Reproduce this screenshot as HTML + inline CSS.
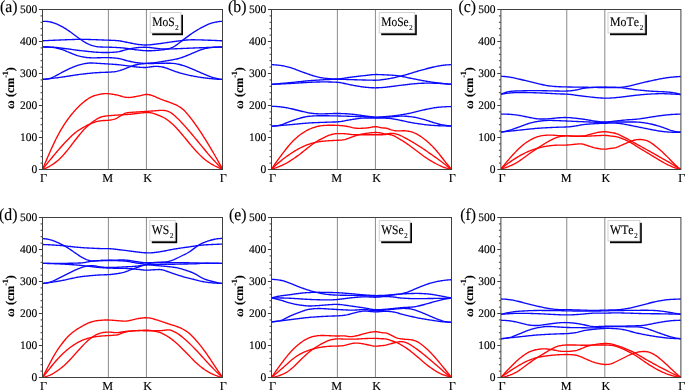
<!DOCTYPE html>
<html><head><meta charset="utf-8"><title>Phonon dispersion</title>
<style>html,body{margin:0;padding:0;background:#fff;overflow:hidden}svg{display:block;will-change:transform;text-rendering:geometricPrecision}text{font-family:"Liberation Serif",serif;fill:#000;stroke:#000;stroke-width:0.14px}.tk{font-size:11.5px;text-anchor:end}.xl{font-size:12.2px;text-anchor:middle}.pl{font-size:16.8px;fill:#000;text-anchor:end}.yl{font-size:12px;font-weight:bold;text-anchor:middle}.lg{font-size:12.9px;font-kerning:none}.b{fill:none;stroke:#0a0aff;stroke-width:1.35;stroke-linejoin:round}.r{fill:none;stroke:#ff0505;stroke-width:1.35;stroke-linejoin:round}</style></head><body>
<svg width="685" height="390" viewBox="0 0 685 390">
<rect width="685" height="390" fill="#fff"/>
<g>
<clipPath id="ca"><rect x="42.5" y="8.5" width="180.0" height="161.6"/></clipPath>
<line x1="108.38" y1="9.5" x2="108.38" y2="169.5" stroke="#8a8a8a" stroke-width="1"/>
<line x1="146.42" y1="9.5" x2="146.42" y2="169.5" stroke="#8a8a8a" stroke-width="1"/>
<g clip-path="url(#ca)">
<path class="b" d="M42.5,21.31 L43.5,21.31 L44.5,21.33 L45.5,21.37 L46.5,21.44 L47.5,21.54 L48.5,21.67 L49.5,21.83 L50.5,22.02 L51.5,22.25 L52.5,22.52 L53.5,22.84 L54.5,23.19 L55.5,23.58 L56.5,23.99 L57.5,24.43 L58.5,24.88 L59.5,25.36 L60.5,25.84 L61.5,26.35 L62.5,26.89 L63.5,27.46 L64.5,28.06 L65.5,28.68 L66.5,29.32 L67.5,29.98 L68.5,30.65 L69.5,31.33 L70.5,32.01 L71.5,32.72 L72.5,33.44 L73.5,34.19 L74.5,34.95 L75.5,35.72 L76.5,36.49 L77.5,37.25 L78.5,37.99 L79.5,38.70 L80.5,39.39 L81.5,40.06 L82.5,40.71 L83.5,41.34 L84.5,41.96 L85.5,42.56 L86.5,43.14 L87.5,43.67 L88.5,44.16 L89.5,44.60 L90.5,44.99 L91.5,45.33 L92.5,45.63 L93.5,45.91 L94.5,46.15 L95.5,46.38 L96.5,46.57 L97.5,46.72 L98.5,46.84 L99.5,46.92 L100.5,46.97 L101.5,47.00 L102.5,47.03 L103.5,47.05 L104.5,47.07 L105.5,47.09 L106.5,47.11 L107.5,47.14 L108.5,47.17 L109.5,47.21 L110.5,47.24 L111.5,47.28 L112.5,47.32 L113.5,47.36 L114.5,47.40 L115.5,47.45 L116.5,47.50 L117.5,47.55 L118.5,47.61 L119.5,47.68 L120.5,47.75 L121.5,47.84 L122.5,47.93 L123.5,48.03 L124.5,48.14 L125.5,48.25 L126.5,48.38 L127.5,48.52 L128.5,48.67 L129.5,48.82 L130.5,48.98 L131.5,49.14 L132.5,49.30 L133.5,49.44 L134.5,49.58 L135.5,49.71 L136.5,49.83 L137.5,49.95 L138.5,50.07 L139.5,50.18 L140.5,50.29 L141.5,50.39 L142.5,50.48 L143.5,50.56 L144.5,50.63 L145.5,50.69 L146.5,50.73 L147.5,50.76 L148.5,50.77 L149.5,50.77 L150.5,50.74 L151.5,50.71 L152.5,50.66 L153.5,50.60 L154.5,50.53 L155.5,50.46 L156.5,50.38 L157.5,50.30 L158.5,50.22 L159.5,50.13 L160.5,50.05 L161.5,49.95 L162.5,49.84 L163.5,49.71 L164.5,49.55 L165.5,49.37 L166.5,49.17 L167.5,48.94 L168.5,48.69 L169.5,48.41 L170.5,48.09 L171.5,47.73 L172.5,47.30 L173.5,46.81 L174.5,46.24 L175.5,45.61 L176.5,44.93 L177.5,44.21 L178.5,43.46 L179.5,42.70 L180.5,41.93 L181.5,41.16 L182.5,40.41 L183.5,39.66 L184.5,38.91 L185.5,38.15 L186.5,37.39 L187.5,36.62 L188.5,35.86 L189.5,35.11 L190.5,34.39 L191.5,33.69 L192.5,33.01 L193.5,32.35 L194.5,31.71 L195.5,31.08 L196.5,30.46 L197.5,29.86 L198.5,29.28 L199.5,28.72 L200.5,28.17 L201.5,27.64 L202.5,27.12 L203.5,26.60 L204.5,26.09 L205.5,25.59 L206.5,25.11 L207.5,24.65 L208.5,24.22 L209.5,23.82 L210.5,23.47 L211.5,23.15 L212.5,22.88 L213.5,22.63 L214.5,22.40 L215.5,22.19 L216.5,22.00 L217.5,21.82 L218.5,21.67 L219.5,21.54 L220.5,21.45 L221.5,21.37 L222.5,21.31"/>
<path class="b" d="M42.5,40.80 L43.5,40.75 L44.5,40.70 L45.5,40.65 L46.5,40.60 L47.5,40.55 L48.5,40.50 L49.5,40.45 L50.5,40.41 L51.5,40.36 L52.5,40.31 L53.5,40.27 L54.5,40.23 L55.5,40.18 L56.5,40.14 L57.5,40.10 L58.5,40.06 L59.5,40.02 L60.5,39.98 L61.5,39.94 L62.5,39.90 L63.5,39.86 L64.5,39.82 L65.5,39.78 L66.5,39.74 L67.5,39.70 L68.5,39.67 L69.5,39.63 L70.5,39.59 L71.5,39.56 L72.5,39.52 L73.5,39.49 L74.5,39.47 L75.5,39.44 L76.5,39.42 L77.5,39.40 L78.5,39.39 L79.5,39.38 L80.5,39.37 L81.5,39.37 L82.5,39.37 L83.5,39.38 L84.5,39.39 L85.5,39.41 L86.5,39.42 L87.5,39.44 L88.5,39.47 L89.5,39.49 L90.5,39.52 L91.5,39.55 L92.5,39.58 L93.5,39.62 L94.5,39.65 L95.5,39.69 L96.5,39.73 L97.5,39.77 L98.5,39.81 L99.5,39.85 L100.5,39.89 L101.5,39.93 L102.5,39.97 L103.5,40.01 L104.5,40.05 L105.5,40.08 L106.5,40.12 L107.5,40.16 L108.5,40.19 L109.5,40.23 L110.5,40.26 L111.5,40.30 L112.5,40.34 L113.5,40.39 L114.5,40.44 L115.5,40.50 L116.5,40.57 L117.5,40.65 L118.5,40.76 L119.5,40.89 L120.5,41.04 L121.5,41.21 L122.5,41.40 L123.5,41.59 L124.5,41.80 L125.5,42.01 L126.5,42.22 L127.5,42.42 L128.5,42.62 L129.5,42.82 L130.5,43.02 L131.5,43.22 L132.5,43.42 L133.5,43.62 L134.5,43.81 L135.5,43.99 L136.5,44.16 L137.5,44.32 L138.5,44.46 L139.5,44.58 L140.5,44.69 L141.5,44.79 L142.5,44.87 L143.5,44.93 L144.5,44.97 L145.5,44.98 L146.5,44.96 L147.5,44.93 L148.5,44.87 L149.5,44.80 L150.5,44.71 L151.5,44.62 L152.5,44.51 L153.5,44.40 L154.5,44.28 L155.5,44.16 L156.5,44.03 L157.5,43.90 L158.5,43.77 L159.5,43.63 L160.5,43.50 L161.5,43.37 L162.5,43.23 L163.5,43.09 L164.5,42.95 L165.5,42.80 L166.5,42.65 L167.5,42.50 L168.5,42.35 L169.5,42.20 L170.5,42.05 L171.5,41.91 L172.5,41.77 L173.5,41.63 L174.5,41.50 L175.5,41.37 L176.5,41.24 L177.5,41.11 L178.5,40.98 L179.5,40.85 L180.5,40.72 L181.5,40.59 L182.5,40.47 L183.5,40.35 L184.5,40.24 L185.5,40.13 L186.5,40.04 L187.5,39.96 L188.5,39.90 L189.5,39.85 L190.5,39.81 L191.5,39.79 L192.5,39.78 L193.5,39.78 L194.5,39.79 L195.5,39.80 L196.5,39.82 L197.5,39.84 L198.5,39.86 L199.5,39.89 L200.5,39.92 L201.5,39.95 L202.5,39.99 L203.5,40.02 L204.5,40.06 L205.5,40.09 L206.5,40.13 L207.5,40.17 L208.5,40.21 L209.5,40.24 L210.5,40.28 L211.5,40.32 L212.5,40.36 L213.5,40.40 L214.5,40.44 L215.5,40.48 L216.5,40.53 L217.5,40.57 L218.5,40.62 L219.5,40.66 L220.5,40.71 L221.5,40.75 L222.5,40.80"/>
<path class="b" d="M42.5,46.96 L43.5,46.95 L44.5,46.95 L45.5,46.96 L46.5,46.97 L47.5,46.99 L48.5,47.01 L49.5,47.05 L50.5,47.08 L51.5,47.13 L52.5,47.19 L53.5,47.26 L54.5,47.33 L55.5,47.43 L56.5,47.53 L57.5,47.64 L58.5,47.75 L59.5,47.86 L60.5,47.98 L61.5,48.10 L62.5,48.22 L63.5,48.35 L64.5,48.48 L65.5,48.61 L66.5,48.74 L67.5,48.88 L68.5,49.01 L69.5,49.15 L70.5,49.29 L71.5,49.43 L72.5,49.57 L73.5,49.70 L74.5,49.84 L75.5,49.97 L76.5,50.10 L77.5,50.23 L78.5,50.35 L79.5,50.47 L80.5,50.59 L81.5,50.70 L82.5,50.81 L83.5,50.92 L84.5,51.03 L85.5,51.14 L86.5,51.25 L87.5,51.36 L88.5,51.47 L89.5,51.58 L90.5,51.68 L91.5,51.78 L92.5,51.87 L93.5,51.96 L94.5,52.05 L95.5,52.13 L96.5,52.21 L97.5,52.28 L98.5,52.34 L99.5,52.40 L100.5,52.44 L101.5,52.48 L102.5,52.51 L103.5,52.52 L104.5,52.53 L105.5,52.53 L106.5,52.52 L107.5,52.50 L108.5,52.48 L109.5,52.46 L110.5,52.42 L111.5,52.37 L112.5,52.31 L113.5,52.25 L114.5,52.17 L115.5,52.08 L116.5,51.97 L117.5,51.85 L118.5,51.69 L119.5,51.50 L120.5,51.27 L121.5,51.02 L122.5,50.75 L123.5,50.46 L124.5,50.17 L125.5,49.89 L126.5,49.61 L127.5,49.36 L128.5,49.12 L129.5,48.91 L130.5,48.70 L131.5,48.51 L132.5,48.32 L133.5,48.14 L134.5,47.98 L135.5,47.84 L136.5,47.71 L137.5,47.60 L138.5,47.51 L139.5,47.44 L140.5,47.38 L141.5,47.33 L142.5,47.30 L143.5,47.28 L144.5,47.27 L145.5,47.29 L146.5,47.32 L147.5,47.37 L148.5,47.45 L149.5,47.53 L150.5,47.64 L151.5,47.75 L152.5,47.87 L153.5,48.00 L154.5,48.13 L155.5,48.26 L156.5,48.39 L157.5,48.52 L158.5,48.64 L159.5,48.74 L160.5,48.84 L161.5,48.91 L162.5,48.97 L163.5,49.01 L164.5,49.03 L165.5,49.04 L166.5,49.03 L167.5,49.02 L168.5,49.00 L169.5,48.97 L170.5,48.95 L171.5,48.92 L172.5,48.88 L173.5,48.85 L174.5,48.81 L175.5,48.77 L176.5,48.73 L177.5,48.68 L178.5,48.64 L179.5,48.60 L180.5,48.56 L181.5,48.52 L182.5,48.47 L183.5,48.43 L184.5,48.39 L185.5,48.35 L186.5,48.31 L187.5,48.27 L188.5,48.23 L189.5,48.19 L190.5,48.15 L191.5,48.11 L192.5,48.07 L193.5,48.02 L194.5,47.98 L195.5,47.94 L196.5,47.90 L197.5,47.86 L198.5,47.82 L199.5,47.79 L200.5,47.75 L201.5,47.71 L202.5,47.68 L203.5,47.64 L204.5,47.61 L205.5,47.57 L206.5,47.54 L207.5,47.51 L208.5,47.48 L209.5,47.44 L210.5,47.41 L211.5,47.38 L212.5,47.35 L213.5,47.32 L214.5,47.29 L215.5,47.26 L216.5,47.23 L217.5,47.20 L218.5,47.18 L219.5,47.15 L220.5,47.12 L221.5,47.10 L222.5,47.07"/>
<path class="b" d="M42.5,46.96 L43.5,46.95 L44.5,46.96 L45.5,46.97 L46.5,47.00 L47.5,47.04 L48.5,47.09 L49.5,47.16 L50.5,47.23 L51.5,47.31 L52.5,47.41 L53.5,47.53 L54.5,47.67 L55.5,47.84 L56.5,48.04 L57.5,48.26 L58.5,48.50 L59.5,48.76 L60.5,49.04 L61.5,49.35 L62.5,49.70 L63.5,50.07 L64.5,50.47 L65.5,50.89 L66.5,51.32 L67.5,51.75 L68.5,52.18 L69.5,52.59 L70.5,52.99 L71.5,53.38 L72.5,53.77 L73.5,54.16 L74.5,54.54 L75.5,54.92 L76.5,55.28 L77.5,55.62 L78.5,55.93 L79.5,56.20 L80.5,56.45 L81.5,56.66 L82.5,56.85 L83.5,57.02 L84.5,57.18 L85.5,57.33 L86.5,57.46 L87.5,57.57 L88.5,57.66 L89.5,57.73 L90.5,57.78 L91.5,57.81 L92.5,57.83 L93.5,57.83 L94.5,57.83 L95.5,57.81 L96.5,57.80 L97.5,57.78 L98.5,57.75 L99.5,57.73 L100.5,57.71 L101.5,57.68 L102.5,57.66 L103.5,57.64 L104.5,57.63 L105.5,57.62 L106.5,57.62 L107.5,57.63 L108.5,57.64 L109.5,57.67 L110.5,57.71 L111.5,57.76 L112.5,57.82 L113.5,57.89 L114.5,57.97 L115.5,58.07 L116.5,58.19 L117.5,58.32 L118.5,58.48 L119.5,58.67 L120.5,58.90 L121.5,59.15 L122.5,59.42 L123.5,59.70 L124.5,59.98 L125.5,60.27 L126.5,60.54 L127.5,60.80 L128.5,61.04 L129.5,61.28 L130.5,61.50 L131.5,61.72 L132.5,61.93 L133.5,62.13 L134.5,62.32 L135.5,62.49 L136.5,62.65 L137.5,62.78 L138.5,62.90 L139.5,63.00 L140.5,63.09 L141.5,63.18 L142.5,63.25 L143.5,63.32 L144.5,63.37 L145.5,63.40 L146.5,63.43 L147.5,63.45 L148.5,63.46 L149.5,63.47 L150.5,63.47 L151.5,63.47 L152.5,63.47 L153.5,63.46 L154.5,63.45 L155.5,63.43 L156.5,63.41 L157.5,63.39 L158.5,63.36 L159.5,63.34 L160.5,63.31 L161.5,63.28 L162.5,63.26 L163.5,63.23 L164.5,63.22 L165.5,63.20 L166.5,63.20 L167.5,63.21 L168.5,63.22 L169.5,63.25 L170.5,63.28 L171.5,63.31 L172.5,63.37 L173.5,63.45 L174.5,63.55 L175.5,63.69 L176.5,63.86 L177.5,64.05 L178.5,64.26 L179.5,64.49 L180.5,64.73 L181.5,64.99 L182.5,65.28 L183.5,65.59 L184.5,65.93 L185.5,66.30 L186.5,66.68 L187.5,67.07 L188.5,67.47 L189.5,67.87 L190.5,68.28 L191.5,68.69 L192.5,69.11 L193.5,69.54 L194.5,69.97 L195.5,70.41 L196.5,70.85 L197.5,71.28 L198.5,71.72 L199.5,72.16 L200.5,72.59 L201.5,73.03 L202.5,73.47 L203.5,73.90 L204.5,74.33 L205.5,74.74 L206.5,75.15 L207.5,75.55 L208.5,75.94 L209.5,76.32 L210.5,76.69 L211.5,77.05 L212.5,77.37 L213.5,77.68 L214.5,77.95 L215.5,78.20 L216.5,78.44 L217.5,78.66 L218.5,78.86 L219.5,79.04 L220.5,79.20 L221.5,79.33 L222.5,79.45"/>
<path class="b" d="M42.5,79.37 L43.5,79.35 L44.5,79.31 L45.5,79.23 L46.5,79.12 L47.5,78.96 L48.5,78.75 L49.5,78.50 L50.5,78.20 L51.5,77.84 L52.5,77.44 L53.5,76.98 L54.5,76.48 L55.5,75.95 L56.5,75.41 L57.5,74.86 L58.5,74.31 L59.5,73.77 L60.5,73.24 L61.5,72.72 L62.5,72.20 L63.5,71.68 L64.5,71.16 L65.5,70.65 L66.5,70.14 L67.5,69.64 L68.5,69.15 L69.5,68.68 L70.5,68.23 L71.5,67.79 L72.5,67.36 L73.5,66.94 L74.5,66.53 L75.5,66.14 L76.5,65.77 L77.5,65.42 L78.5,65.10 L79.5,64.81 L80.5,64.55 L81.5,64.31 L82.5,64.10 L83.5,63.89 L84.5,63.69 L85.5,63.51 L86.5,63.35 L87.5,63.21 L88.5,63.10 L89.5,63.03 L90.5,63.00 L91.5,63.00 L92.5,63.03 L93.5,63.07 L94.5,63.12 L95.5,63.18 L96.5,63.25 L97.5,63.31 L98.5,63.38 L99.5,63.44 L100.5,63.51 L101.5,63.57 L102.5,63.63 L103.5,63.69 L104.5,63.75 L105.5,63.81 L106.5,63.87 L107.5,63.94 L108.5,64.00 L109.5,64.06 L110.5,64.12 L111.5,64.18 L112.5,64.25 L113.5,64.31 L114.5,64.38 L115.5,64.46 L116.5,64.54 L117.5,64.63 L118.5,64.72 L119.5,64.82 L120.5,64.93 L121.5,65.05 L122.5,65.17 L123.5,65.30 L124.5,65.43 L125.5,65.56 L126.5,65.68 L127.5,65.81 L128.5,65.94 L129.5,66.07 L130.5,66.20 L131.5,66.33 L132.5,66.46 L133.5,66.59 L134.5,66.72 L135.5,66.84 L136.5,66.96 L137.5,67.07 L138.5,67.17 L139.5,67.25 L140.5,67.33 L141.5,67.40 L142.5,67.45 L143.5,67.48 L144.5,67.49 L145.5,67.47 L146.5,67.42 L147.5,67.33 L148.5,67.20 L149.5,67.04 L150.5,66.87 L151.5,66.72 L152.5,66.59 L153.5,66.50 L154.5,66.44 L155.5,66.41 L156.5,66.40 L157.5,66.42 L158.5,66.47 L159.5,66.55 L160.5,66.66 L161.5,66.82 L162.5,67.02 L163.5,67.24 L164.5,67.50 L165.5,67.80 L166.5,68.13 L167.5,68.50 L168.5,68.89 L169.5,69.29 L170.5,69.70 L171.5,70.09 L172.5,70.46 L173.5,70.83 L174.5,71.18 L175.5,71.52 L176.5,71.86 L177.5,72.19 L178.5,72.51 L179.5,72.82 L180.5,73.11 L181.5,73.39 L182.5,73.66 L183.5,73.92 L184.5,74.18 L185.5,74.42 L186.5,74.66 L187.5,74.89 L188.5,75.11 L189.5,75.33 L190.5,75.54 L191.5,75.74 L192.5,75.95 L193.5,76.15 L194.5,76.34 L195.5,76.53 L196.5,76.71 L197.5,76.88 L198.5,77.05 L199.5,77.20 L200.5,77.35 L201.5,77.49 L202.5,77.62 L203.5,77.75 L204.5,77.88 L205.5,78.00 L206.5,78.12 L207.5,78.24 L208.5,78.35 L209.5,78.46 L210.5,78.58 L211.5,78.69 L212.5,78.79 L213.5,78.90 L214.5,79.00 L215.5,79.08 L216.5,79.16 L217.5,79.23 L218.5,79.29 L219.5,79.34 L220.5,79.39 L221.5,79.42 L222.5,79.45"/>
<path class="b" d="M42.5,79.37 L43.5,79.28 L44.5,79.18 L45.5,79.08 L46.5,78.98 L47.5,78.88 L48.5,78.77 L49.5,78.66 L50.5,78.55 L51.5,78.43 L52.5,78.32 L53.5,78.20 L54.5,78.08 L55.5,77.95 L56.5,77.83 L57.5,77.71 L58.5,77.58 L59.5,77.45 L60.5,77.32 L61.5,77.18 L62.5,77.04 L63.5,76.90 L64.5,76.75 L65.5,76.60 L66.5,76.44 L67.5,76.28 L68.5,76.12 L69.5,75.96 L70.5,75.79 L71.5,75.63 L72.5,75.47 L73.5,75.31 L74.5,75.15 L75.5,75.00 L76.5,74.85 L77.5,74.71 L78.5,74.57 L79.5,74.44 L80.5,74.31 L81.5,74.19 L82.5,74.08 L83.5,73.97 L84.5,73.85 L85.5,73.74 L86.5,73.64 L87.5,73.53 L88.5,73.43 L89.5,73.33 L90.5,73.23 L91.5,73.13 L92.5,73.04 L93.5,72.95 L94.5,72.87 L95.5,72.79 L96.5,72.71 L97.5,72.64 L98.5,72.58 L99.5,72.51 L100.5,72.46 L101.5,72.41 L102.5,72.37 L103.5,72.33 L104.5,72.30 L105.5,72.27 L106.5,72.24 L107.5,72.21 L108.5,72.18 L109.5,72.13 L110.5,72.08 L111.5,72.02 L112.5,71.95 L113.5,71.85 L114.5,71.73 L115.5,71.57 L116.5,71.37 L117.5,71.14 L118.5,70.88 L119.5,70.61 L120.5,70.31 L121.5,70.00 L122.5,69.67 L123.5,69.31 L124.5,68.94 L125.5,68.55 L126.5,68.15 L127.5,67.73 L128.5,67.31 L129.5,66.90 L130.5,66.51 L131.5,66.15 L132.5,65.82 L133.5,65.51 L134.5,65.23 L135.5,64.98 L136.5,64.74 L137.5,64.53 L138.5,64.34 L139.5,64.17 L140.5,64.03 L141.5,63.92 L142.5,63.81 L143.5,63.72 L144.5,63.63 L145.5,63.54 L146.5,63.45 L147.5,63.37 L148.5,63.28 L149.5,63.20 L150.5,63.12 L151.5,63.03 L152.5,62.94 L153.5,62.84 L154.5,62.73 L155.5,62.61 L156.5,62.48 L157.5,62.34 L158.5,62.18 L159.5,62.02 L160.5,61.85 L161.5,61.67 L162.5,61.50 L163.5,61.32 L164.5,61.15 L165.5,60.98 L166.5,60.81 L167.5,60.65 L168.5,60.48 L169.5,60.32 L170.5,60.15 L171.5,59.97 L172.5,59.79 L173.5,59.61 L174.5,59.42 L175.5,59.21 L176.5,59.00 L177.5,58.76 L178.5,58.51 L179.5,58.23 L180.5,57.92 L181.5,57.59 L182.5,57.25 L183.5,56.88 L184.5,56.51 L185.5,56.13 L186.5,55.75 L187.5,55.35 L188.5,54.95 L189.5,54.53 L190.5,54.09 L191.5,53.65 L192.5,53.21 L193.5,52.78 L194.5,52.35 L195.5,51.93 L196.5,51.53 L197.5,51.13 L198.5,50.74 L199.5,50.36 L200.5,49.99 L201.5,49.64 L202.5,49.31 L203.5,49.00 L204.5,48.72 L205.5,48.47 L206.5,48.24 L207.5,48.04 L208.5,47.87 L209.5,47.71 L210.5,47.58 L211.5,47.46 L212.5,47.36 L213.5,47.28 L214.5,47.21 L215.5,47.15 L216.5,47.11 L217.5,47.07 L218.5,47.03 L219.5,47.00 L220.5,46.98 L221.5,46.96 L222.5,46.95"/>
<path class="r" d="M42.5,169.46 L43.5,167.03 L44.5,164.61 L45.5,162.22 L46.5,159.87 L47.5,157.55 L48.5,155.27 L49.5,153.01 L50.5,150.78 L51.5,148.57 L52.5,146.38 L53.5,144.22 L54.5,142.10 L55.5,140.03 L56.5,138.02 L57.5,136.08 L58.5,134.21 L59.5,132.40 L60.5,130.64 L61.5,128.94 L62.5,127.28 L63.5,125.66 L64.5,124.10 L65.5,122.60 L66.5,121.15 L67.5,119.74 L68.5,118.39 L69.5,117.07 L70.5,115.79 L71.5,114.54 L72.5,113.33 L73.5,112.15 L74.5,111.00 L75.5,109.89 L76.5,108.82 L77.5,107.77 L78.5,106.76 L79.5,105.76 L80.5,104.81 L81.5,103.88 L82.5,103.01 L83.5,102.18 L84.5,101.40 L85.5,100.64 L86.5,99.91 L87.5,99.21 L88.5,98.54 L89.5,97.91 L90.5,97.33 L91.5,96.83 L92.5,96.38 L93.5,96.00 L94.5,95.67 L95.5,95.36 L96.5,95.07 L97.5,94.80 L98.5,94.56 L99.5,94.33 L100.5,94.14 L101.5,93.97 L102.5,93.85 L103.5,93.75 L104.5,93.69 L105.5,93.66 L106.5,93.65 L107.5,93.68 L108.5,93.74 L109.5,93.83 L110.5,93.95 L111.5,94.08 L112.5,94.24 L113.5,94.40 L114.5,94.57 L115.5,94.76 L116.5,94.96 L117.5,95.18 L118.5,95.42 L119.5,95.69 L120.5,95.98 L121.5,96.27 L122.5,96.56 L123.5,96.82 L124.5,97.06 L125.5,97.24 L126.5,97.38 L127.5,97.45 L128.5,97.46 L129.5,97.43 L130.5,97.35 L131.5,97.24 L132.5,97.10 L133.5,96.94 L134.5,96.76 L135.5,96.58 L136.5,96.39 L137.5,96.20 L138.5,96.01 L139.5,95.79 L140.5,95.56 L141.5,95.31 L142.5,95.06 L143.5,94.83 L144.5,94.63 L145.5,94.50 L146.5,94.44 L147.5,94.46 L148.5,94.57 L149.5,94.74 L150.5,94.99 L151.5,95.28 L152.5,95.63 L153.5,96.01 L154.5,96.43 L155.5,96.86 L156.5,97.31 L157.5,97.76 L158.5,98.21 L159.5,98.64 L160.5,99.06 L161.5,99.45 L162.5,99.83 L163.5,100.19 L164.5,100.55 L165.5,100.90 L166.5,101.25 L167.5,101.61 L168.5,101.96 L169.5,102.33 L170.5,102.70 L171.5,103.07 L172.5,103.46 L173.5,103.87 L174.5,104.29 L175.5,104.73 L176.5,105.20 L177.5,105.70 L178.5,106.24 L179.5,106.81 L180.5,107.44 L181.5,108.13 L182.5,108.92 L183.5,109.80 L184.5,110.78 L185.5,111.84 L186.5,112.96 L187.5,114.13 L188.5,115.33 L189.5,116.55 L190.5,117.80 L191.5,119.08 L192.5,120.39 L193.5,121.75 L194.5,123.14 L195.5,124.56 L196.5,126.00 L197.5,127.47 L198.5,128.94 L199.5,130.43 L200.5,131.94 L201.5,133.45 L202.5,134.99 L203.5,136.54 L204.5,138.12 L205.5,139.71 L206.5,141.33 L207.5,142.95 L208.5,144.60 L209.5,146.25 L210.5,147.92 L211.5,149.60 L212.5,151.30 L213.5,153.01 L214.5,154.74 L215.5,156.49 L216.5,158.25 L217.5,160.02 L218.5,161.81 L219.5,163.62 L220.5,165.43 L221.5,167.26 L222.5,169.09"/>
<path class="r" d="M42.5,169.46 L43.5,168.18 L44.5,166.91 L45.5,165.64 L46.5,164.38 L47.5,163.13 L48.5,161.88 L49.5,160.65 L50.5,159.42 L51.5,158.20 L52.5,156.98 L53.5,155.77 L54.5,154.57 L55.5,153.37 L56.5,152.19 L57.5,151.02 L58.5,149.86 L59.5,148.71 L60.5,147.56 L61.5,146.43 L62.5,145.30 L63.5,144.19 L64.5,143.10 L65.5,142.03 L66.5,140.98 L67.5,139.96 L68.5,138.95 L69.5,137.97 L70.5,137.00 L71.5,136.04 L72.5,135.12 L73.5,134.23 L74.5,133.37 L75.5,132.56 L76.5,131.79 L77.5,131.06 L78.5,130.37 L79.5,129.71 L80.5,129.08 L81.5,128.46 L82.5,127.88 L83.5,127.31 L84.5,126.76 L85.5,126.23 L86.5,125.72 L87.5,125.21 L88.5,124.72 L89.5,124.24 L90.5,123.78 L91.5,123.36 L92.5,122.96 L93.5,122.60 L94.5,122.27 L95.5,121.95 L96.5,121.67 L97.5,121.40 L98.5,121.16 L99.5,120.96 L100.5,120.81 L101.5,120.69 L102.5,120.60 L103.5,120.54 L104.5,120.50 L105.5,120.46 L106.5,120.41 L107.5,120.35 L108.5,120.28 L109.5,120.17 L110.5,120.04 L111.5,119.88 L112.5,119.69 L113.5,119.45 L114.5,119.15 L115.5,118.77 L116.5,118.30 L117.5,117.75 L118.5,117.16 L119.5,116.52 L120.5,115.88 L121.5,115.23 L122.5,114.59 L123.5,114.00 L124.5,113.52 L125.5,113.17 L126.5,112.93 L127.5,112.76 L128.5,112.63 L129.5,112.52 L130.5,112.42 L131.5,112.34 L132.5,112.26 L133.5,112.19 L134.5,112.12 L135.5,112.06 L136.5,112.00 L137.5,111.93 L138.5,111.87 L139.5,111.81 L140.5,111.75 L141.5,111.69 L142.5,111.63 L143.5,111.57 L144.5,111.51 L145.5,111.44 L146.5,111.38 L147.5,111.32 L148.5,111.25 L149.5,111.18 L150.5,111.11 L151.5,111.03 L152.5,110.96 L153.5,110.88 L154.5,110.81 L155.5,110.73 L156.5,110.66 L157.5,110.59 L158.5,110.52 L159.5,110.45 L160.5,110.40 L161.5,110.36 L162.5,110.37 L163.5,110.42 L164.5,110.53 L165.5,110.70 L166.5,110.92 L167.5,111.20 L168.5,111.54 L169.5,111.97 L170.5,112.51 L171.5,113.16 L172.5,113.91 L173.5,114.73 L174.5,115.61 L175.5,116.51 L176.5,117.44 L177.5,118.38 L178.5,119.34 L179.5,120.33 L180.5,121.36 L181.5,122.41 L182.5,123.49 L183.5,124.59 L184.5,125.71 L185.5,126.85 L186.5,127.99 L187.5,129.14 L188.5,130.29 L189.5,131.45 L190.5,132.61 L191.5,133.78 L192.5,134.96 L193.5,136.16 L194.5,137.36 L195.5,138.57 L196.5,139.78 L197.5,141.00 L198.5,142.21 L199.5,143.43 L200.5,144.64 L201.5,145.85 L202.5,147.07 L203.5,148.29 L204.5,149.52 L205.5,150.74 L206.5,151.95 L207.5,153.15 L208.5,154.33 L209.5,155.50 L210.5,156.64 L211.5,157.76 L212.5,158.86 L213.5,159.95 L214.5,161.03 L215.5,162.09 L216.5,163.13 L217.5,164.16 L218.5,165.18 L219.5,166.18 L220.5,167.16 L221.5,168.13 L222.5,169.09"/>
<path class="r" d="M42.5,169.46 L43.5,169.11 L44.5,168.74 L45.5,168.32 L46.5,167.87 L47.5,167.38 L48.5,166.87 L49.5,166.33 L50.5,165.77 L51.5,165.17 L52.5,164.53 L53.5,163.86 L54.5,163.15 L55.5,162.40 L56.5,161.62 L57.5,160.81 L58.5,159.95 L59.5,159.04 L60.5,158.08 L61.5,157.05 L62.5,155.97 L63.5,154.85 L64.5,153.70 L65.5,152.52 L66.5,151.32 L67.5,150.11 L68.5,148.87 L69.5,147.61 L70.5,146.31 L71.5,145.00 L72.5,143.67 L73.5,142.34 L74.5,141.03 L75.5,139.73 L76.5,138.46 L77.5,137.22 L78.5,135.99 L79.5,134.78 L80.5,133.59 L81.5,132.42 L82.5,131.27 L83.5,130.16 L84.5,129.10 L85.5,128.07 L86.5,127.09 L87.5,126.16 L88.5,125.26 L89.5,124.40 L90.5,123.57 L91.5,122.79 L92.5,122.04 L93.5,121.32 L94.5,120.62 L95.5,119.94 L96.5,119.29 L97.5,118.67 L98.5,118.12 L99.5,117.64 L100.5,117.25 L101.5,116.93 L102.5,116.66 L103.5,116.44 L104.5,116.25 L105.5,116.08 L106.5,115.93 L107.5,115.81 L108.5,115.71 L109.5,115.62 L110.5,115.55 L111.5,115.47 L112.5,115.40 L113.5,115.33 L114.5,115.26 L115.5,115.20 L116.5,115.13 L117.5,115.07 L118.5,115.01 L119.5,114.95 L120.5,114.89 L121.5,114.83 L122.5,114.78 L123.5,114.72 L124.5,114.67 L125.5,114.61 L126.5,114.55 L127.5,114.48 L128.5,114.41 L129.5,114.33 L130.5,114.24 L131.5,114.14 L132.5,114.02 L133.5,113.91 L134.5,113.78 L135.5,113.66 L136.5,113.53 L137.5,113.41 L138.5,113.29 L139.5,113.17 L140.5,113.05 L141.5,112.93 L142.5,112.82 L143.5,112.72 L144.5,112.62 L145.5,112.55 L146.5,112.49 L147.5,112.48 L148.5,112.51 L149.5,112.60 L150.5,112.75 L151.5,112.94 L152.5,113.19 L153.5,113.47 L154.5,113.79 L155.5,114.13 L156.5,114.50 L157.5,114.89 L158.5,115.29 L159.5,115.70 L160.5,116.11 L161.5,116.53 L162.5,116.98 L163.5,117.48 L164.5,118.02 L165.5,118.63 L166.5,119.29 L167.5,120.01 L168.5,120.76 L169.5,121.55 L170.5,122.38 L171.5,123.23 L172.5,124.11 L173.5,125.03 L174.5,126.00 L175.5,127.01 L176.5,128.08 L177.5,129.18 L178.5,130.32 L179.5,131.47 L180.5,132.64 L181.5,133.81 L182.5,134.99 L183.5,136.16 L184.5,137.35 L185.5,138.55 L186.5,139.77 L187.5,140.99 L188.5,142.22 L189.5,143.45 L190.5,144.66 L191.5,145.85 L192.5,147.02 L193.5,148.16 L194.5,149.28 L195.5,150.39 L196.5,151.48 L197.5,152.55 L198.5,153.61 L199.5,154.64 L200.5,155.64 L201.5,156.60 L202.5,157.51 L203.5,158.38 L204.5,159.20 L205.5,159.98 L206.5,160.73 L207.5,161.45 L208.5,162.14 L209.5,162.81 L210.5,163.45 L211.5,164.06 L212.5,164.65 L213.5,165.20 L214.5,165.73 L215.5,166.23 L216.5,166.71 L217.5,167.18 L218.5,167.62 L219.5,168.04 L220.5,168.42 L221.5,168.76 L222.5,169.09"/>
</g>
<rect x="42.5" y="9.5" width="180.0" height="160.0" fill="none" stroke="#404040" stroke-width="1"/>
<path d="M38.90,169.50H42.50M40.50,163.10H42.50M40.50,156.70H42.50M40.50,150.30H42.50M40.50,143.90H42.50M38.90,137.50H42.50M40.50,131.10H42.50M40.50,124.70H42.50M40.50,118.30H42.50M40.50,111.90H42.50M38.90,105.50H42.50M40.50,99.10H42.50M40.50,92.70H42.50M40.50,86.30H42.50M40.50,79.90H42.50M38.90,73.50H42.50M40.50,67.10H42.50M40.50,60.70H42.50M40.50,54.30H42.50M40.50,47.90H42.50M38.90,41.50H42.50M40.50,35.10H42.50M40.50,28.70H42.50M40.50,22.30H42.50M40.50,15.90H42.50M38.90,9.50H42.50" stroke="#404040" stroke-width="1" fill="none"/>
<text class="tk" x="37.20" y="173.10">0</text>
<text class="tk" x="37.20" y="141.10">100</text>
<text class="tk" x="37.20" y="109.10">200</text>
<text class="tk" x="37.20" y="77.10">300</text>
<text class="tk" x="37.20" y="45.10">400</text>
<text class="tk" x="37.20" y="13.10">500</text>
<text class="xl" x="43.50" y="182.10">Γ</text>
<text class="xl" x="107.78" y="182.10">M</text>
<text class="xl" x="147.62" y="182.10">K</text>
<text class="xl" x="223.30" y="182.10">Γ</text>
<text class="pl" transform="translate(17.50,12.20) scale(0.94,1)">(a)</text>
<text class="yl" transform="translate(14.10,88.00) rotate(-90)">ω (cm<tspan font-size="8px" dy="-6.2">-1</tspan><tspan dy="6.2">)</tspan></text>
<rect x="152.20" y="14.80" width="30.80" height="20.40" fill="#000"/>
<rect x="150.20" y="12.60" width="30.80" height="20.40" fill="#fff" stroke="#c8c8c8" stroke-width="0.8"/>
<text class="lg" transform="translate(152.20,25.80) scale(0.895,1)">MoS<tspan font-size="7.6px" dx="0.8" dy="4.1">2</tspan></text>
</g>
<g>
<clipPath id="cb"><rect x="271.5" y="8.5" width="180.0" height="161.6"/></clipPath>
<line x1="337.38" y1="9.5" x2="337.38" y2="169.5" stroke="#8a8a8a" stroke-width="1"/>
<line x1="375.42" y1="9.5" x2="375.42" y2="169.5" stroke="#8a8a8a" stroke-width="1"/>
<g clip-path="url(#cb)">
<path class="b" d="M271.5,64.64 L272.5,64.69 L273.5,64.74 L274.5,64.81 L275.5,64.89 L276.5,64.98 L277.5,65.08 L278.5,65.18 L279.5,65.30 L280.5,65.43 L281.5,65.58 L282.5,65.74 L283.5,65.93 L284.5,66.12 L285.5,66.34 L286.5,66.56 L287.5,66.81 L288.5,67.06 L289.5,67.33 L290.5,67.62 L291.5,67.94 L292.5,68.27 L293.5,68.62 L294.5,68.99 L295.5,69.37 L296.5,69.76 L297.5,70.14 L298.5,70.52 L299.5,70.90 L300.5,71.27 L301.5,71.64 L302.5,72.01 L303.5,72.38 L304.5,72.75 L305.5,73.11 L306.5,73.48 L307.5,73.83 L308.5,74.18 L309.5,74.51 L310.5,74.84 L311.5,75.17 L312.5,75.49 L313.5,75.81 L314.5,76.11 L315.5,76.41 L316.5,76.69 L317.5,76.95 L318.5,77.18 L319.5,77.39 L320.5,77.58 L321.5,77.75 L322.5,77.91 L323.5,78.05 L324.5,78.19 L325.5,78.31 L326.5,78.43 L327.5,78.53 L328.5,78.63 L329.5,78.71 L330.5,78.79 L331.5,78.86 L332.5,78.92 L333.5,78.97 L334.5,79.00 L335.5,79.02 L336.5,79.01 L337.5,78.97 L338.5,78.91 L339.5,78.82 L340.5,78.71 L341.5,78.59 L342.5,78.45 L343.5,78.31 L344.5,78.15 L345.5,78.00 L346.5,77.84 L347.5,77.68 L348.5,77.53 L349.5,77.38 L350.5,77.24 L351.5,77.11 L352.5,76.98 L353.5,76.86 L354.5,76.74 L355.5,76.62 L356.5,76.50 L357.5,76.38 L358.5,76.27 L359.5,76.15 L360.5,76.04 L361.5,75.92 L362.5,75.81 L363.5,75.70 L364.5,75.59 L365.5,75.47 L366.5,75.35 L367.5,75.23 L368.5,75.11 L369.5,74.98 L370.5,74.87 L371.5,74.76 L372.5,74.67 L373.5,74.60 L374.5,74.55 L375.5,74.52 L376.5,74.51 L377.5,74.52 L378.5,74.55 L379.5,74.58 L380.5,74.63 L381.5,74.68 L382.5,74.73 L383.5,74.78 L384.5,74.84 L385.5,74.89 L386.5,74.94 L387.5,74.99 L388.5,75.04 L389.5,75.09 L390.5,75.14 L391.5,75.20 L392.5,75.26 L393.5,75.33 L394.5,75.41 L395.5,75.49 L396.5,75.60 L397.5,75.72 L398.5,75.85 L399.5,76.00 L400.5,76.17 L401.5,76.35 L402.5,76.54 L403.5,76.74 L404.5,76.95 L405.5,77.16 L406.5,77.38 L407.5,77.59 L408.5,77.81 L409.5,78.02 L410.5,78.22 L411.5,78.42 L412.5,78.62 L413.5,78.81 L414.5,79.01 L415.5,79.20 L416.5,79.40 L417.5,79.59 L418.5,79.79 L419.5,79.99 L420.5,80.18 L421.5,80.38 L422.5,80.57 L423.5,80.75 L424.5,80.94 L425.5,81.12 L426.5,81.29 L427.5,81.46 L428.5,81.62 L429.5,81.78 L430.5,81.93 L431.5,82.08 L432.5,82.23 L433.5,82.37 L434.5,82.50 L435.5,82.64 L436.5,82.77 L437.5,82.89 L438.5,83.01 L439.5,83.13 L440.5,83.25 L441.5,83.36 L442.5,83.47 L443.5,83.58 L444.5,83.68 L445.5,83.79 L446.5,83.89 L447.5,83.99 L448.5,84.08 L449.5,84.17 L450.5,84.26 L451.5,84.34"/>
<path class="b" d="M271.5,84.34 L272.5,84.25 L273.5,84.16 L274.5,84.08 L275.5,83.99 L276.5,83.90 L277.5,83.81 L278.5,83.72 L279.5,83.63 L280.5,83.54 L281.5,83.45 L282.5,83.36 L283.5,83.26 L284.5,83.17 L285.5,83.08 L286.5,82.98 L287.5,82.89 L288.5,82.79 L289.5,82.70 L290.5,82.60 L291.5,82.50 L292.5,82.40 L293.5,82.30 L294.5,82.19 L295.5,82.08 L296.5,81.98 L297.5,81.87 L298.5,81.76 L299.5,81.66 L300.5,81.55 L301.5,81.44 L302.5,81.34 L303.5,81.24 L304.5,81.14 L305.5,81.04 L306.5,80.95 L307.5,80.86 L308.5,80.77 L309.5,80.69 L310.5,80.61 L311.5,80.54 L312.5,80.46 L313.5,80.39 L314.5,80.32 L315.5,80.25 L316.5,80.18 L317.5,80.11 L318.5,80.05 L319.5,79.99 L320.5,79.93 L321.5,79.87 L322.5,79.81 L323.5,79.75 L324.5,79.70 L325.5,79.65 L326.5,79.60 L327.5,79.55 L328.5,79.50 L329.5,79.46 L330.5,79.42 L331.5,79.37 L332.5,79.33 L333.5,79.30 L334.5,79.26 L335.5,79.24 L336.5,79.23 L337.5,79.22 L338.5,79.23 L339.5,79.25 L340.5,79.27 L341.5,79.30 L342.5,79.33 L343.5,79.36 L344.5,79.40 L345.5,79.43 L346.5,79.47 L347.5,79.50 L348.5,79.54 L349.5,79.57 L350.5,79.60 L351.5,79.63 L352.5,79.66 L353.5,79.69 L354.5,79.72 L355.5,79.75 L356.5,79.78 L357.5,79.81 L358.5,79.84 L359.5,79.87 L360.5,79.90 L361.5,79.93 L362.5,79.96 L363.5,79.98 L364.5,80.01 L365.5,80.04 L366.5,80.07 L367.5,80.09 L368.5,80.12 L369.5,80.14 L370.5,80.16 L371.5,80.18 L372.5,80.20 L373.5,80.21 L374.5,80.22 L375.5,80.21 L376.5,80.19 L377.5,80.15 L378.5,80.08 L379.5,80.00 L380.5,79.89 L381.5,79.77 L382.5,79.65 L383.5,79.51 L384.5,79.37 L385.5,79.23 L386.5,79.08 L387.5,78.93 L388.5,78.76 L389.5,78.59 L390.5,78.40 L391.5,78.21 L392.5,78.01 L393.5,77.80 L394.5,77.58 L395.5,77.35 L396.5,77.12 L397.5,76.89 L398.5,76.65 L399.5,76.41 L400.5,76.16 L401.5,75.92 L402.5,75.66 L403.5,75.41 L404.5,75.15 L405.5,74.88 L406.5,74.60 L407.5,74.31 L408.5,74.01 L409.5,73.71 L410.5,73.41 L411.5,73.10 L412.5,72.79 L413.5,72.48 L414.5,72.17 L415.5,71.87 L416.5,71.56 L417.5,71.26 L418.5,70.97 L419.5,70.69 L420.5,70.41 L421.5,70.13 L422.5,69.86 L423.5,69.58 L424.5,69.31 L425.5,69.04 L426.5,68.77 L427.5,68.50 L428.5,68.24 L429.5,67.98 L430.5,67.73 L431.5,67.48 L432.5,67.25 L433.5,67.02 L434.5,66.80 L435.5,66.59 L436.5,66.39 L437.5,66.19 L438.5,66.01 L439.5,65.84 L440.5,65.67 L441.5,65.52 L442.5,65.37 L443.5,65.25 L444.5,65.14 L445.5,65.04 L446.5,64.95 L447.5,64.87 L448.5,64.80 L449.5,64.74 L450.5,64.69 L451.5,64.64"/>
<path class="b" d="M271.5,84.34 L272.5,84.30 L273.5,84.26 L274.5,84.22 L275.5,84.18 L276.5,84.14 L277.5,84.10 L278.5,84.05 L279.5,84.01 L280.5,83.96 L281.5,83.91 L282.5,83.87 L283.5,83.82 L284.5,83.77 L285.5,83.72 L286.5,83.67 L287.5,83.62 L288.5,83.57 L289.5,83.52 L290.5,83.46 L291.5,83.41 L292.5,83.35 L293.5,83.29 L294.5,83.23 L295.5,83.17 L296.5,83.11 L297.5,83.05 L298.5,82.98 L299.5,82.92 L300.5,82.85 L301.5,82.79 L302.5,82.72 L303.5,82.66 L304.5,82.60 L305.5,82.54 L306.5,82.48 L307.5,82.42 L308.5,82.37 L309.5,82.32 L310.5,82.27 L311.5,82.22 L312.5,82.18 L313.5,82.14 L314.5,82.10 L315.5,82.07 L316.5,82.04 L317.5,82.01 L318.5,81.99 L319.5,81.97 L320.5,81.95 L321.5,81.94 L322.5,81.93 L323.5,81.93 L324.5,81.92 L325.5,81.93 L326.5,81.93 L327.5,81.94 L328.5,81.96 L329.5,81.98 L330.5,82.00 L331.5,82.03 L332.5,82.06 L333.5,82.10 L334.5,82.14 L335.5,82.19 L336.5,82.24 L337.5,82.31 L338.5,82.40 L339.5,82.52 L340.5,82.67 L341.5,82.84 L342.5,83.04 L343.5,83.25 L344.5,83.48 L345.5,83.72 L346.5,83.95 L347.5,84.19 L348.5,84.41 L349.5,84.63 L350.5,84.83 L351.5,85.02 L352.5,85.21 L353.5,85.39 L354.5,85.57 L355.5,85.76 L356.5,85.94 L357.5,86.11 L358.5,86.28 L359.5,86.45 L360.5,86.60 L361.5,86.75 L362.5,86.89 L363.5,87.02 L364.5,87.13 L365.5,87.24 L366.5,87.33 L367.5,87.42 L368.5,87.51 L369.5,87.58 L370.5,87.65 L371.5,87.71 L372.5,87.76 L373.5,87.79 L374.5,87.81 L375.5,87.81 L376.5,87.79 L377.5,87.77 L378.5,87.73 L379.5,87.68 L380.5,87.62 L381.5,87.55 L382.5,87.48 L383.5,87.40 L384.5,87.31 L385.5,87.22 L386.5,87.12 L387.5,87.01 L388.5,86.90 L389.5,86.78 L390.5,86.65 L391.5,86.51 L392.5,86.38 L393.5,86.24 L394.5,86.10 L395.5,85.96 L396.5,85.82 L397.5,85.69 L398.5,85.56 L399.5,85.43 L400.5,85.31 L401.5,85.19 L402.5,85.08 L403.5,84.96 L404.5,84.84 L405.5,84.72 L406.5,84.60 L407.5,84.48 L408.5,84.36 L409.5,84.25 L410.5,84.14 L411.5,84.03 L412.5,83.93 L413.5,83.83 L414.5,83.74 L415.5,83.65 L416.5,83.57 L417.5,83.50 L418.5,83.43 L419.5,83.37 L420.5,83.33 L421.5,83.28 L422.5,83.25 L423.5,83.22 L424.5,83.20 L425.5,83.18 L426.5,83.17 L427.5,83.17 L428.5,83.17 L429.5,83.17 L430.5,83.18 L431.5,83.19 L432.5,83.20 L433.5,83.22 L434.5,83.25 L435.5,83.27 L436.5,83.30 L437.5,83.34 L438.5,83.38 L439.5,83.43 L440.5,83.48 L441.5,83.54 L442.5,83.60 L443.5,83.67 L444.5,83.74 L445.5,83.82 L446.5,83.90 L447.5,83.99 L448.5,84.07 L449.5,84.16 L450.5,84.25 L451.5,84.34"/>
<path class="b" d="M271.5,106.29 L272.5,106.32 L273.5,106.35 L274.5,106.39 L275.5,106.44 L276.5,106.50 L277.5,106.57 L278.5,106.65 L279.5,106.74 L280.5,106.84 L281.5,106.96 L282.5,107.10 L283.5,107.25 L284.5,107.41 L285.5,107.58 L286.5,107.77 L287.5,107.95 L288.5,108.15 L289.5,108.35 L290.5,108.56 L291.5,108.78 L292.5,109.01 L293.5,109.25 L294.5,109.50 L295.5,109.75 L296.5,110.00 L297.5,110.25 L298.5,110.50 L299.5,110.74 L300.5,110.98 L301.5,111.23 L302.5,111.47 L303.5,111.72 L304.5,111.96 L305.5,112.19 L306.5,112.41 L307.5,112.61 L308.5,112.80 L309.5,112.96 L310.5,113.11 L311.5,113.24 L312.5,113.36 L313.5,113.46 L314.5,113.56 L315.5,113.65 L316.5,113.73 L317.5,113.79 L318.5,113.83 L319.5,113.86 L320.5,113.87 L321.5,113.86 L322.5,113.85 L323.5,113.83 L324.5,113.81 L325.5,113.78 L326.5,113.75 L327.5,113.71 L328.5,113.68 L329.5,113.64 L330.5,113.61 L331.5,113.58 L332.5,113.55 L333.5,113.52 L334.5,113.50 L335.5,113.49 L336.5,113.48 L337.5,113.48 L338.5,113.49 L339.5,113.51 L340.5,113.53 L341.5,113.56 L342.5,113.59 L343.5,113.63 L344.5,113.68 L345.5,113.73 L346.5,113.78 L347.5,113.84 L348.5,113.91 L349.5,113.98 L350.5,114.05 L351.5,114.14 L352.5,114.23 L353.5,114.34 L354.5,114.45 L355.5,114.58 L356.5,114.71 L357.5,114.85 L358.5,114.99 L359.5,115.14 L360.5,115.29 L361.5,115.43 L362.5,115.57 L363.5,115.71 L364.5,115.85 L365.5,115.98 L366.5,116.11 L367.5,116.25 L368.5,116.39 L369.5,116.52 L370.5,116.65 L371.5,116.76 L372.5,116.87 L373.5,116.95 L374.5,117.02 L375.5,117.06 L376.5,117.08 L377.5,117.08 L378.5,117.07 L379.5,117.03 L380.5,116.99 L381.5,116.93 L382.5,116.86 L383.5,116.78 L384.5,116.70 L385.5,116.62 L386.5,116.53 L387.5,116.44 L388.5,116.35 L389.5,116.25 L390.5,116.16 L391.5,116.06 L392.5,115.95 L393.5,115.84 L394.5,115.72 L395.5,115.59 L396.5,115.47 L397.5,115.34 L398.5,115.20 L399.5,115.06 L400.5,114.92 L401.5,114.77 L402.5,114.61 L403.5,114.45 L404.5,114.27 L405.5,114.09 L406.5,113.90 L407.5,113.70 L408.5,113.50 L409.5,113.29 L410.5,113.08 L411.5,112.86 L412.5,112.63 L413.5,112.39 L414.5,112.15 L415.5,111.90 L416.5,111.65 L417.5,111.40 L418.5,111.16 L419.5,110.91 L420.5,110.68 L421.5,110.44 L422.5,110.20 L423.5,109.96 L424.5,109.73 L425.5,109.50 L426.5,109.28 L427.5,109.07 L428.5,108.86 L429.5,108.67 L430.5,108.48 L431.5,108.30 L432.5,108.12 L433.5,107.95 L434.5,107.79 L435.5,107.64 L436.5,107.50 L437.5,107.38 L438.5,107.27 L439.5,107.17 L440.5,107.09 L441.5,107.01 L442.5,106.93 L443.5,106.86 L444.5,106.80 L445.5,106.74 L446.5,106.69 L447.5,106.64 L448.5,106.61 L449.5,106.58 L450.5,106.56 L451.5,106.54"/>
<path class="b" d="M271.5,126.19 L272.5,126.16 L273.5,126.12 L274.5,126.05 L275.5,125.96 L276.5,125.83 L277.5,125.67 L278.5,125.49 L279.5,125.27 L280.5,125.01 L281.5,124.71 L282.5,124.38 L283.5,124.02 L284.5,123.64 L285.5,123.25 L286.5,122.85 L287.5,122.45 L288.5,122.07 L289.5,121.70 L290.5,121.33 L291.5,120.97 L292.5,120.60 L293.5,120.24 L294.5,119.89 L295.5,119.54 L296.5,119.20 L297.5,118.88 L298.5,118.57 L299.5,118.29 L300.5,118.01 L301.5,117.75 L302.5,117.50 L303.5,117.25 L304.5,117.03 L305.5,116.81 L306.5,116.62 L307.5,116.46 L308.5,116.32 L309.5,116.21 L310.5,116.13 L311.5,116.06 L312.5,116.00 L313.5,115.94 L314.5,115.89 L315.5,115.84 L316.5,115.80 L317.5,115.77 L318.5,115.75 L319.5,115.74 L320.5,115.74 L321.5,115.74 L322.5,115.74 L323.5,115.75 L324.5,115.76 L325.5,115.76 L326.5,115.77 L327.5,115.78 L328.5,115.79 L329.5,115.80 L330.5,115.81 L331.5,115.82 L332.5,115.84 L333.5,115.86 L334.5,115.87 L335.5,115.89 L336.5,115.91 L337.5,115.94 L338.5,115.96 L339.5,115.99 L340.5,116.02 L341.5,116.05 L342.5,116.08 L343.5,116.11 L344.5,116.14 L345.5,116.17 L346.5,116.20 L347.5,116.23 L348.5,116.27 L349.5,116.30 L350.5,116.33 L351.5,116.36 L352.5,116.39 L353.5,116.41 L354.5,116.44 L355.5,116.47 L356.5,116.50 L357.5,116.52 L358.5,116.55 L359.5,116.58 L360.5,116.61 L361.5,116.64 L362.5,116.67 L363.5,116.70 L364.5,116.74 L365.5,116.79 L366.5,116.84 L367.5,116.91 L368.5,116.98 L369.5,117.06 L370.5,117.14 L371.5,117.22 L372.5,117.29 L373.5,117.36 L374.5,117.41 L375.5,117.44 L376.5,117.46 L377.5,117.47 L378.5,117.47 L379.5,117.45 L380.5,117.43 L381.5,117.40 L382.5,117.37 L383.5,117.33 L384.5,117.29 L385.5,117.24 L386.5,117.19 L387.5,117.14 L388.5,117.08 L389.5,117.02 L390.5,116.95 L391.5,116.87 L392.5,116.78 L393.5,116.69 L394.5,116.60 L395.5,116.50 L396.5,116.41 L397.5,116.33 L398.5,116.25 L399.5,116.19 L400.5,116.14 L401.5,116.11 L402.5,116.10 L403.5,116.12 L404.5,116.16 L405.5,116.21 L406.5,116.29 L407.5,116.37 L408.5,116.47 L409.5,116.57 L410.5,116.68 L411.5,116.80 L412.5,116.93 L413.5,117.08 L414.5,117.26 L415.5,117.44 L416.5,117.65 L417.5,117.86 L418.5,118.08 L419.5,118.31 L420.5,118.55 L421.5,118.81 L422.5,119.08 L423.5,119.36 L424.5,119.66 L425.5,119.96 L426.5,120.27 L427.5,120.58 L428.5,120.91 L429.5,121.25 L430.5,121.59 L431.5,121.93 L432.5,122.26 L433.5,122.58 L434.5,122.89 L435.5,123.19 L436.5,123.47 L437.5,123.74 L438.5,124.00 L439.5,124.24 L440.5,124.47 L441.5,124.67 L442.5,124.86 L443.5,125.03 L444.5,125.19 L445.5,125.35 L446.5,125.49 L447.5,125.62 L448.5,125.74 L449.5,125.85 L450.5,125.94 L451.5,126.02"/>
<path class="b" d="M271.5,126.19 L272.5,126.12 L273.5,126.04 L274.5,125.97 L275.5,125.89 L276.5,125.81 L277.5,125.74 L278.5,125.66 L279.5,125.58 L280.5,125.50 L281.5,125.42 L282.5,125.34 L283.5,125.26 L284.5,125.17 L285.5,125.09 L286.5,125.01 L287.5,124.93 L288.5,124.84 L289.5,124.76 L290.5,124.67 L291.5,124.58 L292.5,124.49 L293.5,124.39 L294.5,124.29 L295.5,124.19 L296.5,124.09 L297.5,123.99 L298.5,123.89 L299.5,123.79 L300.5,123.69 L301.5,123.60 L302.5,123.50 L303.5,123.41 L304.5,123.32 L305.5,123.24 L306.5,123.16 L307.5,123.08 L308.5,123.01 L309.5,122.95 L310.5,122.89 L311.5,122.84 L312.5,122.78 L313.5,122.74 L314.5,122.69 L315.5,122.64 L316.5,122.60 L317.5,122.56 L318.5,122.52 L319.5,122.48 L320.5,122.44 L321.5,122.41 L322.5,122.37 L323.5,122.34 L324.5,122.30 L325.5,122.27 L326.5,122.23 L327.5,122.20 L328.5,122.16 L329.5,122.13 L330.5,122.10 L331.5,122.07 L332.5,122.04 L333.5,122.01 L334.5,121.99 L335.5,121.96 L336.5,121.92 L337.5,121.86 L338.5,121.78 L339.5,121.68 L340.5,121.55 L341.5,121.40 L342.5,121.23 L343.5,121.04 L344.5,120.85 L345.5,120.65 L346.5,120.45 L347.5,120.26 L348.5,120.07 L349.5,119.89 L350.5,119.73 L351.5,119.57 L352.5,119.42 L353.5,119.26 L354.5,119.11 L355.5,118.96 L356.5,118.81 L357.5,118.66 L358.5,118.52 L359.5,118.40 L360.5,118.28 L361.5,118.19 L362.5,118.11 L363.5,118.06 L364.5,118.02 L365.5,118.00 L366.5,118.00 L367.5,118.00 L368.5,118.01 L369.5,118.02 L370.5,118.03 L371.5,118.04 L372.5,118.05 L373.5,118.06 L374.5,118.07 L375.5,118.07 L376.5,118.08 L377.5,118.08 L378.5,118.08 L379.5,118.08 L380.5,118.08 L381.5,118.08 L382.5,118.09 L383.5,118.10 L384.5,118.13 L385.5,118.17 L386.5,118.21 L387.5,118.27 L388.5,118.34 L389.5,118.43 L390.5,118.54 L391.5,118.67 L392.5,118.82 L393.5,118.98 L394.5,119.15 L395.5,119.32 L396.5,119.51 L397.5,119.70 L398.5,119.90 L399.5,120.11 L400.5,120.31 L401.5,120.52 L402.5,120.74 L403.5,120.95 L404.5,121.17 L405.5,121.39 L406.5,121.61 L407.5,121.83 L408.5,122.05 L409.5,122.25 L410.5,122.45 L411.5,122.63 L412.5,122.81 L413.5,122.98 L414.5,123.14 L415.5,123.30 L416.5,123.45 L417.5,123.60 L418.5,123.75 L419.5,123.89 L420.5,124.03 L421.5,124.17 L422.5,124.31 L423.5,124.44 L424.5,124.58 L425.5,124.71 L426.5,124.83 L427.5,124.94 L428.5,125.04 L429.5,125.13 L430.5,125.22 L431.5,125.30 L432.5,125.38 L433.5,125.45 L434.5,125.52 L435.5,125.58 L436.5,125.64 L437.5,125.68 L438.5,125.73 L439.5,125.76 L440.5,125.80 L441.5,125.83 L442.5,125.86 L443.5,125.88 L444.5,125.91 L445.5,125.94 L446.5,125.96 L447.5,125.98 L448.5,125.99 L449.5,126.00 L450.5,126.01 L451.5,126.02"/>
<path class="r" d="M271.5,169.03 L272.5,167.58 L273.5,166.13 L274.5,164.69 L275.5,163.26 L276.5,161.85 L277.5,160.45 L278.5,159.06 L279.5,157.68 L280.5,156.33 L281.5,154.98 L282.5,153.66 L283.5,152.35 L284.5,151.05 L285.5,149.77 L286.5,148.50 L287.5,147.26 L288.5,146.04 L289.5,144.86 L290.5,143.72 L291.5,142.62 L292.5,141.58 L293.5,140.57 L294.5,139.59 L295.5,138.66 L296.5,137.75 L297.5,136.89 L298.5,136.07 L299.5,135.29 L300.5,134.54 L301.5,133.82 L302.5,133.12 L303.5,132.45 L304.5,131.82 L305.5,131.22 L306.5,130.67 L307.5,130.15 L308.5,129.66 L309.5,129.19 L310.5,128.75 L311.5,128.33 L312.5,127.95 L313.5,127.60 L314.5,127.28 L315.5,126.99 L316.5,126.72 L317.5,126.47 L318.5,126.24 L319.5,126.03 L320.5,125.85 L321.5,125.70 L322.5,125.59 L323.5,125.50 L324.5,125.44 L325.5,125.38 L326.5,125.33 L327.5,125.29 L328.5,125.26 L329.5,125.24 L330.5,125.23 L331.5,125.24 L332.5,125.25 L333.5,125.26 L334.5,125.29 L335.5,125.31 L336.5,125.35 L337.5,125.39 L338.5,125.44 L339.5,125.50 L340.5,125.57 L341.5,125.66 L342.5,125.76 L343.5,125.87 L344.5,125.99 L345.5,126.13 L346.5,126.28 L347.5,126.47 L348.5,126.69 L349.5,126.93 L350.5,127.18 L351.5,127.43 L352.5,127.66 L353.5,127.86 L354.5,128.01 L355.5,128.13 L356.5,128.21 L357.5,128.27 L358.5,128.30 L359.5,128.31 L360.5,128.30 L361.5,128.28 L362.5,128.25 L363.5,128.20 L364.5,128.14 L365.5,128.06 L366.5,127.97 L367.5,127.86 L368.5,127.71 L369.5,127.55 L370.5,127.36 L371.5,127.18 L372.5,127.00 L373.5,126.86 L374.5,126.76 L375.5,126.72 L376.5,126.76 L377.5,126.89 L378.5,127.08 L379.5,127.31 L380.5,127.55 L381.5,127.75 L382.5,127.89 L383.5,127.96 L384.5,127.99 L385.5,128.06 L386.5,128.24 L387.5,128.52 L388.5,128.88 L389.5,129.25 L390.5,129.60 L391.5,129.90 L392.5,130.15 L393.5,130.37 L394.5,130.55 L395.5,130.71 L396.5,130.82 L397.5,130.90 L398.5,130.92 L399.5,130.91 L400.5,130.88 L401.5,130.83 L402.5,130.79 L403.5,130.77 L404.5,130.78 L405.5,130.84 L406.5,130.94 L407.5,131.07 L408.5,131.23 L409.5,131.42 L410.5,131.64 L411.5,131.90 L412.5,132.21 L413.5,132.58 L414.5,133.00 L415.5,133.45 L416.5,133.94 L417.5,134.47 L418.5,135.04 L419.5,135.66 L420.5,136.31 L421.5,137.01 L422.5,137.73 L423.5,138.47 L424.5,139.23 L425.5,140.03 L426.5,140.85 L427.5,141.70 L428.5,142.58 L429.5,143.49 L430.5,144.43 L431.5,145.39 L432.5,146.40 L433.5,147.44 L434.5,148.51 L435.5,149.62 L436.5,150.77 L437.5,151.96 L438.5,153.19 L439.5,154.45 L440.5,155.73 L441.5,157.00 L442.5,158.28 L443.5,159.54 L444.5,160.80 L445.5,162.06 L446.5,163.30 L447.5,164.54 L448.5,165.78 L449.5,167.00 L450.5,168.22 L451.5,169.44"/>
<path class="r" d="M271.5,169.03 L272.5,168.13 L273.5,167.23 L274.5,166.34 L275.5,165.46 L276.5,164.58 L277.5,163.72 L278.5,162.87 L279.5,162.03 L280.5,161.20 L281.5,160.39 L282.5,159.59 L283.5,158.81 L284.5,158.04 L285.5,157.29 L286.5,156.56 L287.5,155.84 L288.5,155.14 L289.5,154.45 L290.5,153.77 L291.5,153.11 L292.5,152.46 L293.5,151.82 L294.5,151.19 L295.5,150.57 L296.5,149.96 L297.5,149.38 L298.5,148.82 L299.5,148.28 L300.5,147.77 L301.5,147.28 L302.5,146.81 L303.5,146.35 L304.5,145.92 L305.5,145.50 L306.5,145.11 L307.5,144.74 L308.5,144.38 L309.5,144.04 L310.5,143.72 L311.5,143.40 L312.5,143.11 L313.5,142.85 L314.5,142.60 L315.5,142.38 L316.5,142.18 L317.5,141.99 L318.5,141.82 L319.5,141.66 L320.5,141.51 L321.5,141.37 L322.5,141.26 L323.5,141.15 L324.5,141.05 L325.5,140.96 L326.5,140.88 L327.5,140.80 L328.5,140.73 L329.5,140.66 L330.5,140.60 L331.5,140.55 L332.5,140.50 L333.5,140.46 L334.5,140.41 L335.5,140.37 L336.5,140.33 L337.5,140.28 L338.5,140.24 L339.5,140.19 L340.5,140.13 L341.5,140.05 L342.5,139.94 L343.5,139.79 L344.5,139.58 L345.5,139.30 L346.5,138.99 L347.5,138.64 L348.5,138.28 L349.5,137.92 L350.5,137.54 L351.5,137.15 L352.5,136.77 L353.5,136.40 L354.5,136.06 L355.5,135.74 L356.5,135.45 L357.5,135.17 L358.5,134.91 L359.5,134.66 L360.5,134.43 L361.5,134.21 L362.5,134.00 L363.5,133.82 L364.5,133.64 L365.5,133.48 L366.5,133.33 L367.5,133.19 L368.5,133.06 L369.5,132.94 L370.5,132.82 L371.5,132.72 L372.5,132.63 L373.5,132.56 L374.5,132.51 L375.5,132.49 L376.5,132.50 L377.5,132.55 L378.5,132.65 L379.5,132.77 L380.5,132.93 L381.5,133.12 L382.5,133.34 L383.5,133.58 L384.5,133.80 L385.5,133.94 L386.5,133.95 L387.5,133.85 L388.5,133.70 L389.5,133.54 L390.5,133.43 L391.5,133.40 L392.5,133.44 L393.5,133.54 L394.5,133.69 L395.5,133.89 L396.5,134.13 L397.5,134.40 L398.5,134.73 L399.5,135.10 L400.5,135.53 L401.5,136.00 L402.5,136.50 L403.5,137.01 L404.5,137.53 L405.5,138.07 L406.5,138.62 L407.5,139.17 L408.5,139.74 L409.5,140.32 L410.5,140.90 L411.5,141.48 L412.5,142.07 L413.5,142.67 L414.5,143.27 L415.5,143.87 L416.5,144.49 L417.5,145.11 L418.5,145.73 L419.5,146.36 L420.5,147.00 L421.5,147.64 L422.5,148.30 L423.5,148.97 L424.5,149.64 L425.5,150.33 L426.5,151.03 L427.5,151.73 L428.5,152.44 L429.5,153.14 L430.5,153.84 L431.5,154.54 L432.5,155.24 L433.5,155.94 L434.5,156.64 L435.5,157.35 L436.5,158.06 L437.5,158.79 L438.5,159.52 L439.5,160.26 L440.5,161.00 L441.5,161.75 L442.5,162.50 L443.5,163.27 L444.5,164.04 L445.5,164.81 L446.5,165.59 L447.5,166.36 L448.5,167.13 L449.5,167.90 L450.5,168.67 L451.5,169.44"/>
<path class="r" d="M271.5,169.03 L272.5,168.78 L273.5,168.52 L274.5,168.23 L275.5,167.92 L276.5,167.57 L277.5,167.21 L278.5,166.82 L279.5,166.42 L280.5,165.99 L281.5,165.56 L282.5,165.11 L283.5,164.65 L284.5,164.17 L285.5,163.66 L286.5,163.12 L287.5,162.54 L288.5,161.93 L289.5,161.31 L290.5,160.67 L291.5,160.02 L292.5,159.36 L293.5,158.69 L294.5,158.02 L295.5,157.33 L296.5,156.62 L297.5,155.91 L298.5,155.18 L299.5,154.44 L300.5,153.67 L301.5,152.89 L302.5,152.10 L303.5,151.29 L304.5,150.48 L305.5,149.67 L306.5,148.87 L307.5,148.08 L308.5,147.30 L309.5,146.53 L310.5,145.76 L311.5,145.01 L312.5,144.27 L313.5,143.56 L314.5,142.88 L315.5,142.23 L316.5,141.61 L317.5,141.01 L318.5,140.43 L319.5,139.87 L320.5,139.33 L321.5,138.80 L322.5,138.29 L323.5,137.79 L324.5,137.29 L325.5,136.80 L326.5,136.33 L327.5,135.88 L328.5,135.48 L329.5,135.11 L330.5,134.80 L331.5,134.52 L332.5,134.27 L333.5,134.06 L334.5,133.87 L335.5,133.73 L336.5,133.63 L337.5,133.57 L338.5,133.55 L339.5,133.55 L340.5,133.57 L341.5,133.60 L342.5,133.64 L343.5,133.69 L344.5,133.75 L345.5,133.82 L346.5,133.91 L347.5,134.01 L348.5,134.13 L349.5,134.25 L350.5,134.37 L351.5,134.49 L352.5,134.58 L353.5,134.66 L354.5,134.71 L355.5,134.73 L356.5,134.75 L357.5,134.75 L358.5,134.75 L359.5,134.75 L360.5,134.75 L361.5,134.75 L362.5,134.75 L363.5,134.75 L364.5,134.75 L365.5,134.75 L366.5,134.75 L367.5,134.75 L368.5,134.75 L369.5,134.75 L370.5,134.75 L371.5,134.75 L372.5,134.75 L373.5,134.75 L374.5,134.75 L375.5,134.75 L376.5,134.75 L377.5,134.75 L378.5,134.75 L379.5,134.75 L380.5,134.75 L381.5,134.74 L382.5,134.71 L383.5,134.65 L384.5,134.55 L385.5,134.46 L386.5,134.40 L387.5,134.39 L388.5,134.44 L389.5,134.55 L390.5,134.72 L391.5,134.96 L392.5,135.28 L393.5,135.68 L394.5,136.16 L395.5,136.70 L396.5,137.26 L397.5,137.83 L398.5,138.41 L399.5,138.99 L400.5,139.58 L401.5,140.18 L402.5,140.79 L403.5,141.42 L404.5,142.07 L405.5,142.73 L406.5,143.41 L407.5,144.11 L408.5,144.82 L409.5,145.54 L410.5,146.27 L411.5,147.01 L412.5,147.76 L413.5,148.52 L414.5,149.28 L415.5,150.05 L416.5,150.81 L417.5,151.57 L418.5,152.32 L419.5,153.07 L420.5,153.81 L421.5,154.55 L422.5,155.27 L423.5,155.98 L424.5,156.68 L425.5,157.36 L426.5,158.03 L427.5,158.69 L428.5,159.33 L429.5,159.96 L430.5,160.58 L431.5,161.19 L432.5,161.79 L433.5,162.37 L434.5,162.94 L435.5,163.49 L436.5,164.01 L437.5,164.52 L438.5,165.01 L439.5,165.49 L440.5,165.94 L441.5,166.36 L442.5,166.76 L443.5,167.14 L444.5,167.49 L445.5,167.82 L446.5,168.14 L447.5,168.43 L448.5,168.70 L449.5,168.96 L450.5,169.20 L451.5,169.44"/>
</g>
<rect x="271.5" y="9.5" width="180.0" height="160.0" fill="none" stroke="#404040" stroke-width="1"/>
<path d="M267.90,169.50H271.50M269.50,163.10H271.50M269.50,156.70H271.50M269.50,150.30H271.50M269.50,143.90H271.50M267.90,137.50H271.50M269.50,131.10H271.50M269.50,124.70H271.50M269.50,118.30H271.50M269.50,111.90H271.50M267.90,105.50H271.50M269.50,99.10H271.50M269.50,92.70H271.50M269.50,86.30H271.50M269.50,79.90H271.50M267.90,73.50H271.50M269.50,67.10H271.50M269.50,60.70H271.50M269.50,54.30H271.50M269.50,47.90H271.50M267.90,41.50H271.50M269.50,35.10H271.50M269.50,28.70H271.50M269.50,22.30H271.50M269.50,15.90H271.50M267.90,9.50H271.50" stroke="#404040" stroke-width="1" fill="none"/>
<text class="tk" x="266.20" y="173.10">0</text>
<text class="tk" x="266.20" y="141.10">100</text>
<text class="tk" x="266.20" y="109.10">200</text>
<text class="tk" x="266.20" y="77.10">300</text>
<text class="tk" x="266.20" y="45.10">400</text>
<text class="tk" x="266.20" y="13.10">500</text>
<text class="xl" x="272.50" y="182.10">Γ</text>
<text class="xl" x="336.78" y="182.10">M</text>
<text class="xl" x="376.62" y="182.10">K</text>
<text class="xl" x="452.30" y="182.10">Γ</text>
<text class="pl" transform="translate(246.50,12.20) scale(0.94,1)">(b)</text>
<text class="yl" transform="translate(243.10,88.00) rotate(-90)">ω (cm<tspan font-size="8px" dy="-6.2">-1</tspan><tspan dy="6.2">)</tspan></text>
<rect x="381.20" y="14.80" width="35.60" height="20.40" fill="#000"/>
<rect x="379.20" y="12.60" width="35.60" height="20.40" fill="#fff" stroke="#c8c8c8" stroke-width="0.8"/>
<text class="lg" transform="translate(381.20,25.80) scale(0.89,1)">MoSe<tspan font-size="7.6px" dx="0.8" dy="4.1">2</tspan></text>
</g>
<g>
<clipPath id="cc"><rect x="500.9" y="8.5" width="180.0" height="161.6"/></clipPath>
<line x1="566.78" y1="9.5" x2="566.78" y2="169.5" stroke="#8a8a8a" stroke-width="1"/>
<line x1="604.82" y1="9.5" x2="604.82" y2="169.5" stroke="#8a8a8a" stroke-width="1"/>
<g clip-path="url(#cc)">
<path class="b" d="M500.9,76.28 L501.9,76.33 L502.9,76.39 L503.9,76.46 L504.9,76.54 L505.9,76.64 L506.9,76.75 L507.9,76.87 L508.9,77.01 L509.9,77.16 L510.9,77.33 L511.9,77.51 L512.9,77.71 L513.9,77.92 L514.9,78.14 L515.9,78.36 L516.9,78.59 L517.9,78.81 L518.9,79.04 L519.9,79.27 L520.9,79.50 L521.9,79.74 L522.9,79.98 L523.9,80.22 L524.9,80.47 L525.9,80.71 L526.9,80.96 L527.9,81.20 L528.9,81.44 L529.9,81.69 L530.9,81.93 L531.9,82.18 L532.9,82.42 L533.9,82.67 L534.9,82.91 L535.9,83.15 L536.9,83.38 L537.9,83.62 L538.9,83.84 L539.9,84.07 L540.9,84.30 L541.9,84.53 L542.9,84.75 L543.9,84.97 L544.9,85.18 L545.9,85.37 L546.9,85.55 L547.9,85.71 L548.9,85.86 L549.9,85.98 L550.9,86.10 L551.9,86.20 L552.9,86.30 L553.9,86.39 L554.9,86.47 L555.9,86.54 L556.9,86.61 L557.9,86.67 L558.9,86.71 L559.9,86.75 L560.9,86.79 L561.9,86.82 L562.9,86.85 L563.9,86.88 L564.9,86.91 L565.9,86.93 L566.9,86.95 L567.9,86.97 L568.9,86.99 L569.9,87.00 L570.9,87.02 L571.9,87.03 L572.9,87.05 L573.9,87.06 L574.9,87.08 L575.9,87.09 L576.9,87.11 L577.9,87.12 L578.9,87.14 L579.9,87.16 L580.9,87.17 L581.9,87.19 L582.9,87.21 L583.9,87.22 L584.9,87.24 L585.9,87.26 L586.9,87.27 L587.9,87.29 L588.9,87.31 L589.9,87.33 L590.9,87.34 L591.9,87.36 L592.9,87.38 L593.9,87.39 L594.9,87.41 L595.9,87.43 L596.9,87.45 L597.9,87.46 L598.9,87.48 L599.9,87.50 L600.9,87.51 L601.9,87.53 L602.9,87.54 L603.9,87.56 L604.9,87.57 L605.9,87.59 L606.9,87.60 L607.9,87.60 L608.9,87.61 L609.9,87.61 L610.9,87.61 L611.9,87.61 L612.9,87.61 L613.9,87.60 L614.9,87.60 L615.9,87.59 L616.9,87.58 L617.9,87.55 L618.9,87.52 L619.9,87.45 L620.9,87.37 L621.9,87.26 L622.9,87.13 L623.9,86.99 L624.9,86.83 L625.9,86.66 L626.9,86.48 L627.9,86.29 L628.9,86.08 L629.9,85.85 L630.9,85.61 L631.9,85.36 L632.9,85.10 L633.9,84.85 L634.9,84.59 L635.9,84.35 L636.9,84.10 L637.9,83.86 L638.9,83.61 L639.9,83.37 L640.9,83.13 L641.9,82.89 L642.9,82.65 L643.9,82.42 L644.9,82.18 L645.9,81.95 L646.9,81.73 L647.9,81.50 L648.9,81.28 L649.9,81.06 L650.9,80.84 L651.9,80.63 L652.9,80.41 L653.9,80.20 L654.9,79.99 L655.9,79.78 L656.9,79.57 L657.9,79.36 L658.9,79.16 L659.9,78.96 L660.9,78.77 L661.9,78.59 L662.9,78.42 L663.9,78.25 L664.9,78.09 L665.9,77.93 L666.9,77.79 L667.9,77.64 L668.9,77.51 L669.9,77.39 L670.9,77.27 L671.9,77.16 L672.9,77.06 L673.9,76.97 L674.9,76.87 L675.9,76.79 L676.9,76.71 L677.9,76.63 L678.9,76.57 L679.9,76.51 L680.9,76.46"/>
<path class="b" d="M500.9,94.34 L501.9,93.89 L502.9,93.44 L503.9,93.02 L504.9,92.63 L505.9,92.30 L506.9,92.02 L507.9,91.80 L508.9,91.63 L509.9,91.50 L510.9,91.38 L511.9,91.28 L512.9,91.19 L513.9,91.10 L514.9,91.03 L515.9,90.97 L516.9,90.92 L517.9,90.88 L518.9,90.85 L519.9,90.83 L520.9,90.81 L521.9,90.80 L522.9,90.78 L523.9,90.76 L524.9,90.74 L525.9,90.72 L526.9,90.71 L527.9,90.69 L528.9,90.68 L529.9,90.66 L530.9,90.65 L531.9,90.64 L532.9,90.63 L533.9,90.63 L534.9,90.63 L535.9,90.63 L536.9,90.63 L537.9,90.64 L538.9,90.65 L539.9,90.66 L540.9,90.68 L541.9,90.69 L542.9,90.71 L543.9,90.73 L544.9,90.75 L545.9,90.77 L546.9,90.79 L547.9,90.81 L548.9,90.84 L549.9,90.86 L550.9,90.88 L551.9,90.90 L552.9,90.92 L553.9,90.95 L554.9,90.97 L555.9,90.99 L556.9,91.01 L557.9,91.03 L558.9,91.04 L559.9,91.06 L560.9,91.07 L561.9,91.07 L562.9,91.08 L563.9,91.08 L564.9,91.07 L565.9,91.06 L566.9,91.03 L567.9,91.00 L568.9,90.94 L569.9,90.85 L570.9,90.75 L571.9,90.63 L572.9,90.49 L573.9,90.34 L574.9,90.18 L575.9,90.01 L576.9,89.82 L577.9,89.60 L578.9,89.36 L579.9,89.10 L580.9,88.85 L581.9,88.63 L582.9,88.43 L583.9,88.27 L584.9,88.14 L585.9,88.03 L586.9,87.93 L587.9,87.84 L588.9,87.76 L589.9,87.68 L590.9,87.60 L591.9,87.53 L592.9,87.46 L593.9,87.40 L594.9,87.34 L595.9,87.29 L596.9,87.24 L597.9,87.20 L598.9,87.16 L599.9,87.13 L600.9,87.10 L601.9,87.08 L602.9,87.06 L603.9,87.05 L604.9,87.04 L605.9,87.04 L606.9,87.05 L607.9,87.05 L608.9,87.07 L609.9,87.08 L610.9,87.10 L611.9,87.13 L612.9,87.16 L613.9,87.20 L614.9,87.24 L615.9,87.29 L616.9,87.34 L617.9,87.41 L618.9,87.49 L619.9,87.58 L620.9,87.69 L621.9,87.80 L622.9,87.93 L623.9,88.06 L624.9,88.20 L625.9,88.34 L626.9,88.47 L627.9,88.61 L628.9,88.75 L629.9,88.90 L630.9,89.04 L631.9,89.19 L632.9,89.33 L633.9,89.47 L634.9,89.60 L635.9,89.72 L636.9,89.84 L637.9,89.95 L638.9,90.06 L639.9,90.16 L640.9,90.26 L641.9,90.35 L642.9,90.45 L643.9,90.54 L644.9,90.63 L645.9,90.72 L646.9,90.81 L647.9,90.89 L648.9,90.98 L649.9,91.06 L650.9,91.14 L651.9,91.21 L652.9,91.28 L653.9,91.34 L654.9,91.39 L655.9,91.44 L656.9,91.48 L657.9,91.51 L658.9,91.55 L659.9,91.59 L660.9,91.62 L661.9,91.67 L662.9,91.72 L663.9,91.77 L664.9,91.83 L665.9,91.90 L666.9,91.98 L667.9,92.06 L668.9,92.14 L669.9,92.24 L670.9,92.35 L671.9,92.47 L672.9,92.62 L673.9,92.80 L674.9,93.00 L675.9,93.22 L676.9,93.46 L677.9,93.71 L678.9,93.99 L679.9,94.27 L680.9,94.57"/>
<path class="b" d="M500.9,94.34 L501.9,94.14 L502.9,93.94 L503.9,93.76 L504.9,93.58 L505.9,93.42 L506.9,93.28 L507.9,93.17 L508.9,93.06 L509.9,92.97 L510.9,92.89 L511.9,92.81 L512.9,92.73 L513.9,92.67 L514.9,92.61 L515.9,92.56 L516.9,92.53 L517.9,92.51 L518.9,92.50 L519.9,92.50 L520.9,92.50 L521.9,92.51 L522.9,92.52 L523.9,92.53 L524.9,92.54 L525.9,92.56 L526.9,92.57 L527.9,92.59 L528.9,92.61 L529.9,92.63 L530.9,92.65 L531.9,92.68 L532.9,92.70 L533.9,92.73 L534.9,92.76 L535.9,92.79 L536.9,92.83 L537.9,92.86 L538.9,92.90 L539.9,92.94 L540.9,92.98 L541.9,93.03 L542.9,93.07 L543.9,93.12 L544.9,93.17 L545.9,93.22 L546.9,93.27 L547.9,93.33 L548.9,93.38 L549.9,93.44 L550.9,93.49 L551.9,93.54 L552.9,93.60 L553.9,93.65 L554.9,93.70 L555.9,93.75 L556.9,93.80 L557.9,93.85 L558.9,93.89 L559.9,93.93 L560.9,93.96 L561.9,93.99 L562.9,94.01 L563.9,94.04 L564.9,94.07 L565.9,94.11 L566.9,94.16 L567.9,94.23 L568.9,94.31 L569.9,94.41 L570.9,94.53 L571.9,94.66 L572.9,94.79 L573.9,94.93 L574.9,95.08 L575.9,95.22 L576.9,95.36 L577.9,95.50 L578.9,95.63 L579.9,95.75 L580.9,95.87 L581.9,95.98 L582.9,96.10 L583.9,96.22 L584.9,96.34 L585.9,96.46 L586.9,96.58 L587.9,96.70 L588.9,96.82 L589.9,96.94 L590.9,97.05 L591.9,97.17 L592.9,97.28 L593.9,97.38 L594.9,97.48 L595.9,97.58 L596.9,97.67 L597.9,97.76 L598.9,97.84 L599.9,97.91 L600.9,97.97 L601.9,98.03 L602.9,98.08 L603.9,98.11 L604.9,98.14 L605.9,98.15 L606.9,98.15 L607.9,98.13 L608.9,98.10 L609.9,98.06 L610.9,98.01 L611.9,97.94 L612.9,97.87 L613.9,97.80 L614.9,97.71 L615.9,97.62 L616.9,97.53 L617.9,97.44 L618.9,97.33 L619.9,97.23 L620.9,97.11 L621.9,96.99 L622.9,96.87 L623.9,96.74 L624.9,96.61 L625.9,96.49 L626.9,96.36 L627.9,96.24 L628.9,96.12 L629.9,96.00 L630.9,95.87 L631.9,95.75 L632.9,95.63 L633.9,95.51 L634.9,95.40 L635.9,95.29 L636.9,95.17 L637.9,95.06 L638.9,94.96 L639.9,94.85 L640.9,94.75 L641.9,94.65 L642.9,94.56 L643.9,94.47 L644.9,94.39 L645.9,94.31 L646.9,94.24 L647.9,94.17 L648.9,94.11 L649.9,94.05 L650.9,93.99 L651.9,93.94 L652.9,93.89 L653.9,93.85 L654.9,93.82 L655.9,93.78 L656.9,93.75 L657.9,93.73 L658.9,93.70 L659.9,93.69 L660.9,93.68 L661.9,93.68 L662.9,93.69 L663.9,93.70 L664.9,93.73 L665.9,93.76 L666.9,93.80 L667.9,93.85 L668.9,93.89 L669.9,93.94 L670.9,93.99 L671.9,94.04 L672.9,94.09 L673.9,94.15 L674.9,94.20 L675.9,94.26 L676.9,94.32 L677.9,94.38 L678.9,94.44 L679.9,94.51 L680.9,94.57"/>
<path class="b" d="M500.9,114.04 L501.9,114.05 L502.9,114.06 L503.9,114.08 L504.9,114.11 L505.9,114.14 L506.9,114.19 L507.9,114.23 L508.9,114.29 L509.9,114.35 L510.9,114.42 L511.9,114.50 L512.9,114.60 L513.9,114.70 L514.9,114.81 L515.9,114.93 L516.9,115.06 L517.9,115.20 L518.9,115.34 L519.9,115.51 L520.9,115.69 L521.9,115.88 L522.9,116.09 L523.9,116.30 L524.9,116.51 L525.9,116.73 L526.9,116.94 L527.9,117.14 L528.9,117.34 L529.9,117.53 L530.9,117.73 L531.9,117.92 L532.9,118.11 L533.9,118.29 L534.9,118.46 L535.9,118.61 L536.9,118.74 L537.9,118.84 L538.9,118.92 L539.9,118.97 L540.9,119.00 L541.9,119.02 L542.9,119.02 L543.9,119.00 L544.9,118.98 L545.9,118.94 L546.9,118.89 L547.9,118.84 L548.9,118.77 L549.9,118.69 L550.9,118.60 L551.9,118.51 L552.9,118.40 L553.9,118.29 L554.9,118.18 L555.9,118.07 L556.9,117.97 L557.9,117.88 L558.9,117.79 L559.9,117.72 L560.9,117.66 L561.9,117.61 L562.9,117.57 L563.9,117.54 L564.9,117.52 L565.9,117.53 L566.9,117.55 L567.9,117.58 L568.9,117.63 L569.9,117.70 L570.9,117.78 L571.9,117.86 L572.9,117.96 L573.9,118.06 L574.9,118.17 L575.9,118.28 L576.9,118.40 L577.9,118.51 L578.9,118.62 L579.9,118.74 L580.9,118.86 L581.9,118.99 L582.9,119.13 L583.9,119.27 L584.9,119.43 L585.9,119.59 L586.9,119.76 L587.9,119.93 L588.9,120.11 L589.9,120.28 L590.9,120.46 L591.9,120.63 L592.9,120.80 L593.9,120.96 L594.9,121.12 L595.9,121.27 L596.9,121.41 L597.9,121.53 L598.9,121.65 L599.9,121.75 L600.9,121.83 L601.9,121.90 L602.9,121.95 L603.9,121.97 L604.9,121.98 L605.9,121.96 L606.9,121.92 L607.9,121.86 L608.9,121.78 L609.9,121.69 L610.9,121.58 L611.9,121.47 L612.9,121.35 L613.9,121.23 L614.9,121.10 L615.9,120.98 L616.9,120.87 L617.9,120.76 L618.9,120.66 L619.9,120.55 L620.9,120.45 L621.9,120.35 L622.9,120.24 L623.9,120.14 L624.9,120.05 L625.9,119.95 L626.9,119.87 L627.9,119.79 L628.9,119.73 L629.9,119.67 L630.9,119.62 L631.9,119.57 L632.9,119.51 L633.9,119.45 L634.9,119.38 L635.9,119.29 L636.9,119.19 L637.9,119.08 L638.9,118.95 L639.9,118.81 L640.9,118.67 L641.9,118.52 L642.9,118.36 L643.9,118.21 L644.9,118.05 L645.9,117.90 L646.9,117.74 L647.9,117.58 L648.9,117.41 L649.9,117.25 L650.9,117.09 L651.9,116.93 L652.9,116.77 L653.9,116.62 L654.9,116.47 L655.9,116.32 L656.9,116.17 L657.9,116.02 L658.9,115.88 L659.9,115.75 L660.9,115.61 L661.9,115.48 L662.9,115.36 L663.9,115.24 L664.9,115.13 L665.9,115.01 L666.9,114.90 L667.9,114.80 L668.9,114.71 L669.9,114.62 L670.9,114.54 L671.9,114.48 L672.9,114.42 L673.9,114.36 L674.9,114.31 L675.9,114.26 L676.9,114.22 L677.9,114.19 L678.9,114.16 L679.9,114.14 L680.9,114.12"/>
<path class="b" d="M500.9,132.09 L501.9,131.95 L502.9,131.80 L503.9,131.63 L504.9,131.43 L505.9,131.21 L506.9,130.98 L507.9,130.73 L508.9,130.46 L509.9,130.17 L510.9,129.86 L511.9,129.53 L512.9,129.19 L513.9,128.84 L514.9,128.48 L515.9,128.11 L516.9,127.75 L517.9,127.39 L518.9,127.02 L519.9,126.66 L520.9,126.28 L521.9,125.90 L522.9,125.52 L523.9,125.15 L524.9,124.78 L525.9,124.42 L526.9,124.08 L527.9,123.76 L528.9,123.46 L529.9,123.17 L530.9,122.90 L531.9,122.64 L532.9,122.39 L533.9,122.15 L534.9,121.93 L535.9,121.73 L536.9,121.55 L537.9,121.39 L538.9,121.25 L539.9,121.12 L540.9,121.00 L541.9,120.89 L542.9,120.78 L543.9,120.68 L544.9,120.59 L545.9,120.52 L546.9,120.46 L547.9,120.43 L548.9,120.42 L549.9,120.42 L550.9,120.43 L551.9,120.45 L552.9,120.48 L553.9,120.51 L554.9,120.54 L555.9,120.57 L556.9,120.61 L557.9,120.64 L558.9,120.68 L559.9,120.72 L560.9,120.76 L561.9,120.80 L562.9,120.84 L563.9,120.88 L564.9,120.93 L565.9,120.97 L566.9,121.01 L567.9,121.06 L568.9,121.10 L569.9,121.15 L570.9,121.20 L571.9,121.25 L572.9,121.30 L573.9,121.35 L574.9,121.40 L575.9,121.44 L576.9,121.49 L577.9,121.53 L578.9,121.58 L579.9,121.62 L580.9,121.66 L581.9,121.70 L582.9,121.74 L583.9,121.78 L584.9,121.82 L585.9,121.87 L586.9,121.91 L587.9,121.95 L588.9,121.99 L589.9,122.03 L590.9,122.07 L591.9,122.10 L592.9,122.14 L593.9,122.17 L594.9,122.21 L595.9,122.24 L596.9,122.26 L597.9,122.29 L598.9,122.31 L599.9,122.33 L600.9,122.34 L601.9,122.35 L602.9,122.36 L603.9,122.36 L604.9,122.36 L605.9,122.35 L606.9,122.33 L607.9,122.30 L608.9,122.27 L609.9,122.24 L610.9,122.20 L611.9,122.16 L612.9,122.13 L613.9,122.09 L614.9,122.06 L615.9,122.04 L616.9,122.03 L617.9,122.02 L618.9,122.01 L619.9,122.01 L620.9,122.01 L621.9,122.01 L622.9,122.01 L623.9,122.01 L624.9,122.01 L625.9,122.01 L626.9,122.01 L627.9,122.01 L628.9,122.01 L629.9,122.01 L630.9,122.01 L631.9,122.01 L632.9,122.01 L633.9,122.01 L634.9,122.02 L635.9,122.03 L636.9,122.06 L637.9,122.11 L638.9,122.19 L639.9,122.28 L640.9,122.39 L641.9,122.52 L642.9,122.65 L643.9,122.78 L644.9,122.93 L645.9,123.08 L646.9,123.24 L647.9,123.42 L648.9,123.61 L649.9,123.82 L650.9,124.03 L651.9,124.26 L652.9,124.49 L653.9,124.74 L654.9,124.99 L655.9,125.26 L656.9,125.55 L657.9,125.84 L658.9,126.15 L659.9,126.46 L660.9,126.78 L661.9,127.11 L662.9,127.45 L663.9,127.81 L664.9,128.18 L665.9,128.56 L666.9,128.94 L667.9,129.32 L668.9,129.69 L669.9,130.03 L670.9,130.34 L671.9,130.62 L672.9,130.88 L673.9,131.12 L674.9,131.33 L675.9,131.54 L676.9,131.72 L677.9,131.87 L678.9,132.01 L679.9,132.13 L680.9,132.23"/>
<path class="b" d="M500.9,132.09 L501.9,131.98 L502.9,131.88 L503.9,131.77 L504.9,131.66 L505.9,131.56 L506.9,131.45 L507.9,131.35 L508.9,131.24 L509.9,131.14 L510.9,131.03 L511.9,130.93 L512.9,130.82 L513.9,130.72 L514.9,130.62 L515.9,130.51 L516.9,130.41 L517.9,130.31 L518.9,130.20 L519.9,130.10 L520.9,129.99 L521.9,129.88 L522.9,129.77 L523.9,129.66 L524.9,129.55 L525.9,129.44 L526.9,129.34 L527.9,129.23 L528.9,129.12 L529.9,129.01 L530.9,128.91 L531.9,128.81 L532.9,128.71 L533.9,128.62 L534.9,128.53 L535.9,128.44 L536.9,128.36 L537.9,128.28 L538.9,128.21 L539.9,128.14 L540.9,128.07 L541.9,128.01 L542.9,127.95 L543.9,127.89 L544.9,127.84 L545.9,127.78 L546.9,127.73 L547.9,127.68 L548.9,127.63 L549.9,127.58 L550.9,127.53 L551.9,127.49 L552.9,127.44 L553.9,127.40 L554.9,127.36 L555.9,127.32 L556.9,127.27 L557.9,127.23 L558.9,127.20 L559.9,127.16 L560.9,127.13 L561.9,127.10 L562.9,127.08 L563.9,127.05 L564.9,127.02 L565.9,126.99 L566.9,126.94 L567.9,126.88 L568.9,126.80 L569.9,126.71 L570.9,126.60 L571.9,126.48 L572.9,126.35 L573.9,126.22 L574.9,126.08 L575.9,125.93 L576.9,125.77 L577.9,125.59 L578.9,125.40 L579.9,125.21 L580.9,125.02 L581.9,124.85 L582.9,124.69 L583.9,124.56 L584.9,124.45 L585.9,124.35 L586.9,124.26 L587.9,124.18 L588.9,124.10 L589.9,124.02 L590.9,123.95 L591.9,123.88 L592.9,123.82 L593.9,123.76 L594.9,123.70 L595.9,123.64 L596.9,123.59 L597.9,123.54 L598.9,123.49 L599.9,123.45 L600.9,123.41 L601.9,123.37 L602.9,123.33 L603.9,123.30 L604.9,123.27 L605.9,123.24 L606.9,123.21 L607.9,123.19 L608.9,123.17 L609.9,123.16 L610.9,123.15 L611.9,123.15 L612.9,123.15 L613.9,123.16 L614.9,123.17 L615.9,123.20 L616.9,123.24 L617.9,123.29 L618.9,123.37 L619.9,123.47 L620.9,123.61 L621.9,123.76 L622.9,123.93 L623.9,124.12 L624.9,124.31 L625.9,124.50 L626.9,124.70 L627.9,124.89 L628.9,125.08 L629.9,125.28 L630.9,125.48 L631.9,125.68 L632.9,125.89 L633.9,126.09 L634.9,126.29 L635.9,126.50 L636.9,126.70 L637.9,126.90 L638.9,127.10 L639.9,127.30 L640.9,127.50 L641.9,127.70 L642.9,127.90 L643.9,128.10 L644.9,128.30 L645.9,128.50 L646.9,128.71 L647.9,128.91 L648.9,129.12 L649.9,129.32 L650.9,129.52 L651.9,129.72 L652.9,129.91 L653.9,130.09 L654.9,130.28 L655.9,130.46 L656.9,130.63 L657.9,130.80 L658.9,130.97 L659.9,131.12 L660.9,131.26 L661.9,131.40 L662.9,131.52 L663.9,131.63 L664.9,131.73 L665.9,131.83 L666.9,131.92 L667.9,132.00 L668.9,132.07 L669.9,132.13 L670.9,132.18 L671.9,132.22 L672.9,132.25 L673.9,132.27 L674.9,132.28 L675.9,132.29 L676.9,132.29 L677.9,132.28 L678.9,132.27 L679.9,132.25 L680.9,132.23"/>
<path class="r" d="M500.9,169.03 L501.9,167.78 L502.9,166.54 L503.9,165.30 L504.9,164.08 L505.9,162.87 L506.9,161.67 L507.9,160.48 L508.9,159.32 L509.9,158.16 L510.9,157.03 L511.9,155.91 L512.9,154.81 L513.9,153.72 L514.9,152.65 L515.9,151.60 L516.9,150.57 L517.9,149.56 L518.9,148.59 L519.9,147.66 L520.9,146.77 L521.9,145.92 L522.9,145.10 L523.9,144.30 L524.9,143.54 L525.9,142.81 L526.9,142.12 L527.9,141.46 L528.9,140.84 L529.9,140.24 L530.9,139.66 L531.9,139.11 L532.9,138.59 L533.9,138.11 L534.9,137.68 L535.9,137.29 L536.9,136.96 L537.9,136.65 L538.9,136.38 L539.9,136.12 L540.9,135.90 L541.9,135.70 L542.9,135.55 L543.9,135.42 L544.9,135.32 L545.9,135.24 L546.9,135.18 L547.9,135.12 L548.9,135.08 L549.9,135.06 L550.9,135.07 L551.9,135.10 L552.9,135.15 L553.9,135.22 L554.9,135.31 L555.9,135.39 L556.9,135.48 L557.9,135.56 L558.9,135.62 L559.9,135.67 L560.9,135.71 L561.9,135.73 L562.9,135.75 L563.9,135.76 L564.9,135.78 L565.9,135.81 L566.9,135.84 L567.9,135.89 L568.9,135.94 L569.9,136.00 L570.9,136.06 L571.9,136.12 L572.9,136.18 L573.9,136.23 L574.9,136.27 L575.9,136.29 L576.9,136.29 L577.9,136.27 L578.9,136.23 L579.9,136.18 L580.9,136.11 L581.9,136.03 L582.9,135.93 L583.9,135.81 L584.9,135.66 L585.9,135.47 L586.9,135.24 L587.9,134.98 L588.9,134.69 L589.9,134.39 L590.9,134.09 L591.9,133.80 L592.9,133.54 L593.9,133.30 L594.9,133.07 L595.9,132.86 L596.9,132.65 L597.9,132.46 L598.9,132.27 L599.9,132.10 L600.9,131.96 L601.9,131.85 L602.9,131.77 L603.9,131.73 L604.9,131.74 L605.9,131.79 L606.9,131.88 L607.9,132.00 L608.9,132.15 L609.9,132.31 L610.9,132.47 L611.9,132.64 L612.9,132.82 L613.9,133.01 L614.9,133.24 L615.9,133.52 L616.9,133.85 L617.9,134.23 L618.9,134.66 L619.9,135.11 L620.9,135.58 L621.9,136.06 L622.9,136.55 L623.9,137.05 L624.9,137.57 L625.9,138.11 L626.9,138.65 L627.9,139.20 L628.9,139.75 L629.9,140.31 L630.9,140.86 L631.9,141.42 L632.9,141.98 L633.9,142.55 L634.9,143.12 L635.9,143.68 L636.9,144.25 L637.9,144.81 L638.9,145.37 L639.9,145.92 L640.9,146.48 L641.9,147.03 L642.9,147.58 L643.9,148.12 L644.9,148.67 L645.9,149.22 L646.9,149.76 L647.9,150.31 L648.9,150.86 L649.9,151.42 L650.9,151.98 L651.9,152.54 L652.9,153.10 L653.9,153.67 L654.9,154.23 L655.9,154.80 L656.9,155.38 L657.9,155.95 L658.9,156.52 L659.9,157.09 L660.9,157.67 L661.9,158.24 L662.9,158.80 L663.9,159.37 L664.9,159.93 L665.9,160.49 L666.9,161.05 L667.9,161.62 L668.9,162.20 L669.9,162.79 L670.9,163.39 L671.9,164.02 L672.9,164.66 L673.9,165.30 L674.9,165.94 L675.9,166.57 L676.9,167.18 L677.9,167.77 L678.9,168.34 L679.9,168.90 L680.9,169.46"/>
<path class="r" d="M500.9,169.03 L501.9,168.23 L502.9,167.42 L503.9,166.63 L504.9,165.84 L505.9,165.06 L506.9,164.30 L507.9,163.54 L508.9,162.80 L509.9,162.08 L510.9,161.37 L511.9,160.67 L512.9,159.99 L513.9,159.33 L514.9,158.69 L515.9,158.06 L516.9,157.45 L517.9,156.85 L518.9,156.27 L519.9,155.70 L520.9,155.14 L521.9,154.59 L522.9,154.06 L523.9,153.53 L524.9,153.01 L525.9,152.51 L526.9,152.04 L527.9,151.59 L528.9,151.17 L529.9,150.78 L530.9,150.40 L531.9,150.04 L532.9,149.70 L533.9,149.37 L534.9,149.06 L535.9,148.75 L536.9,148.46 L537.9,148.16 L538.9,147.88 L539.9,147.60 L540.9,147.34 L541.9,147.09 L542.9,146.86 L543.9,146.65 L544.9,146.47 L545.9,146.29 L546.9,146.13 L547.9,145.98 L548.9,145.84 L549.9,145.72 L550.9,145.61 L551.9,145.52 L552.9,145.44 L553.9,145.36 L554.9,145.29 L555.9,145.23 L556.9,145.17 L557.9,145.12 L558.9,145.09 L559.9,145.06 L560.9,145.05 L561.9,145.05 L562.9,145.06 L563.9,145.07 L564.9,145.07 L565.9,145.05 L566.9,145.02 L567.9,144.97 L568.9,144.89 L569.9,144.80 L570.9,144.70 L571.9,144.60 L572.9,144.49 L573.9,144.38 L574.9,144.28 L575.9,144.18 L576.9,144.08 L577.9,144.00 L578.9,143.93 L579.9,143.90 L580.9,143.93 L581.9,144.02 L582.9,144.20 L583.9,144.46 L584.9,144.76 L585.9,145.08 L586.9,145.41 L587.9,145.74 L588.9,146.07 L589.9,146.39 L590.9,146.72 L591.9,147.02 L592.9,147.31 L593.9,147.58 L594.9,147.82 L595.9,148.05 L596.9,148.27 L597.9,148.48 L598.9,148.67 L599.9,148.84 L600.9,148.98 L601.9,149.09 L602.9,149.15 L603.9,149.16 L604.9,149.13 L605.9,149.06 L606.9,148.96 L607.9,148.83 L608.9,148.68 L609.9,148.53 L610.9,148.38 L611.9,148.24 L612.9,148.11 L613.9,147.97 L614.9,147.80 L615.9,147.56 L616.9,147.24 L617.9,146.86 L618.9,146.43 L619.9,145.97 L620.9,145.50 L621.9,145.05 L622.9,144.61 L623.9,144.18 L624.9,143.76 L625.9,143.34 L626.9,142.92 L627.9,142.50 L628.9,142.09 L629.9,141.68 L630.9,141.27 L631.9,140.89 L632.9,140.54 L633.9,140.24 L634.9,140.00 L635.9,139.82 L636.9,139.68 L637.9,139.59 L638.9,139.53 L639.9,139.51 L640.9,139.54 L641.9,139.62 L642.9,139.74 L643.9,139.91 L644.9,140.13 L645.9,140.39 L646.9,140.71 L647.9,141.11 L648.9,141.60 L649.9,142.15 L650.9,142.76 L651.9,143.41 L652.9,144.11 L653.9,144.84 L654.9,145.61 L655.9,146.42 L656.9,147.25 L657.9,148.10 L658.9,148.96 L659.9,149.83 L660.9,150.71 L661.9,151.62 L662.9,152.53 L663.9,153.47 L664.9,154.42 L665.9,155.40 L666.9,156.39 L667.9,157.39 L668.9,158.40 L669.9,159.42 L670.9,160.43 L671.9,161.46 L672.9,162.47 L673.9,163.48 L674.9,164.46 L675.9,165.40 L676.9,166.30 L677.9,167.15 L678.9,167.96 L679.9,168.72 L680.9,169.46"/>
<path class="r" d="M500.9,169.03 L501.9,168.78 L502.9,168.52 L503.9,168.23 L504.9,167.91 L505.9,167.56 L506.9,167.19 L507.9,166.80 L508.9,166.39 L509.9,165.96 L510.9,165.53 L511.9,165.08 L512.9,164.61 L513.9,164.13 L514.9,163.61 L515.9,163.06 L516.9,162.47 L517.9,161.86 L518.9,161.22 L519.9,160.57 L520.9,159.89 L521.9,159.20 L522.9,158.48 L523.9,157.75 L524.9,157.00 L525.9,156.25 L526.9,155.50 L527.9,154.76 L528.9,154.03 L529.9,153.32 L530.9,152.63 L531.9,151.94 L532.9,151.26 L533.9,150.58 L534.9,149.91 L535.9,149.25 L536.9,148.59 L537.9,147.93 L538.9,147.28 L539.9,146.63 L540.9,145.99 L541.9,145.35 L542.9,144.73 L543.9,144.12 L544.9,143.51 L545.9,142.92 L546.9,142.33 L547.9,141.76 L548.9,141.20 L549.9,140.66 L550.9,140.14 L551.9,139.64 L552.9,139.15 L553.9,138.67 L554.9,138.22 L555.9,137.79 L556.9,137.40 L557.9,137.07 L558.9,136.79 L559.9,136.57 L560.9,136.39 L561.9,136.23 L562.9,136.10 L563.9,135.99 L564.9,135.92 L565.9,135.87 L566.9,135.86 L567.9,135.88 L568.9,135.91 L569.9,135.94 L570.9,135.99 L571.9,136.03 L572.9,136.07 L573.9,136.10 L574.9,136.13 L575.9,136.16 L576.9,136.19 L577.9,136.21 L578.9,136.24 L579.9,136.26 L580.9,136.28 L581.9,136.29 L582.9,136.29 L583.9,136.28 L584.9,136.26 L585.9,136.23 L586.9,136.20 L587.9,136.15 L588.9,136.10 L589.9,136.05 L590.9,136.00 L591.9,135.94 L592.9,135.89 L593.9,135.84 L594.9,135.79 L595.9,135.74 L596.9,135.68 L597.9,135.63 L598.9,135.57 L599.9,135.52 L600.9,135.48 L601.9,135.44 L602.9,135.41 L603.9,135.40 L604.9,135.41 L605.9,135.46 L606.9,135.54 L607.9,135.65 L608.9,135.78 L609.9,135.92 L610.9,136.05 L611.9,136.18 L612.9,136.28 L613.9,136.39 L614.9,136.51 L615.9,136.67 L616.9,136.88 L617.9,137.14 L618.9,137.45 L619.9,137.78 L620.9,138.14 L621.9,138.50 L622.9,138.88 L623.9,139.28 L624.9,139.70 L625.9,140.14 L626.9,140.61 L627.9,141.09 L628.9,141.61 L629.9,142.14 L630.9,142.71 L631.9,143.30 L632.9,143.92 L633.9,144.55 L634.9,145.19 L635.9,145.84 L636.9,146.49 L637.9,147.13 L638.9,147.75 L639.9,148.37 L640.9,148.98 L641.9,149.59 L642.9,150.19 L643.9,150.79 L644.9,151.39 L645.9,151.99 L646.9,152.58 L647.9,153.18 L648.9,153.78 L649.9,154.38 L650.9,154.98 L651.9,155.58 L652.9,156.19 L653.9,156.80 L654.9,157.42 L655.9,158.03 L656.9,158.64 L657.9,159.25 L658.9,159.86 L659.9,160.45 L660.9,161.04 L661.9,161.61 L662.9,162.17 L663.9,162.72 L664.9,163.25 L665.9,163.77 L666.9,164.28 L667.9,164.77 L668.9,165.25 L669.9,165.71 L670.9,166.16 L671.9,166.60 L672.9,167.03 L673.9,167.43 L674.9,167.81 L675.9,168.16 L676.9,168.48 L677.9,168.77 L678.9,169.02 L679.9,169.25 L680.9,169.46"/>
</g>
<rect x="500.9" y="9.5" width="180.0" height="160.0" fill="none" stroke="#404040" stroke-width="1"/>
<path d="M497.30,169.50H500.90M498.90,163.10H500.90M498.90,156.70H500.90M498.90,150.30H500.90M498.90,143.90H500.90M497.30,137.50H500.90M498.90,131.10H500.90M498.90,124.70H500.90M498.90,118.30H500.90M498.90,111.90H500.90M497.30,105.50H500.90M498.90,99.10H500.90M498.90,92.70H500.90M498.90,86.30H500.90M498.90,79.90H500.90M497.30,73.50H500.90M498.90,67.10H500.90M498.90,60.70H500.90M498.90,54.30H500.90M498.90,47.90H500.90M497.30,41.50H500.90M498.90,35.10H500.90M498.90,28.70H500.90M498.90,22.30H500.90M498.90,15.90H500.90M497.30,9.50H500.90" stroke="#404040" stroke-width="1" fill="none"/>
<text class="tk" x="495.60" y="173.10">0</text>
<text class="tk" x="495.60" y="141.10">100</text>
<text class="tk" x="495.60" y="109.10">200</text>
<text class="tk" x="495.60" y="77.10">300</text>
<text class="tk" x="495.60" y="45.10">400</text>
<text class="tk" x="495.60" y="13.10">500</text>
<text class="xl" x="501.90" y="182.10">Γ</text>
<text class="xl" x="566.18" y="182.10">M</text>
<text class="xl" x="606.02" y="182.10">K</text>
<text class="xl" x="681.70" y="182.10">Γ</text>
<text class="pl" transform="translate(475.90,12.20) scale(0.94,1)">(c)</text>
<text class="yl" transform="translate(472.50,88.00) rotate(-90)">ω (cm<tspan font-size="8px" dy="-6.2">-1</tspan><tspan dy="6.2">)</tspan></text>
<rect x="610.00" y="14.80" width="36.90" height="20.40" fill="#000"/>
<rect x="608.00" y="12.60" width="36.90" height="20.40" fill="#fff" stroke="#c8c8c8" stroke-width="0.8"/>
<text class="lg" transform="translate(610.00,25.80) scale(0.92,1)">MoTe<tspan font-size="7.6px" dx="0.8" dy="4.1">2</tspan></text>
</g>
<g>
<clipPath id="cd"><rect x="42.5" y="216.5" width="180.0" height="161.6"/></clipPath>
<line x1="108.38" y1="217.5" x2="108.38" y2="377.5" stroke="#8a8a8a" stroke-width="1"/>
<line x1="146.42" y1="217.5" x2="146.42" y2="377.5" stroke="#8a8a8a" stroke-width="1"/>
<g clip-path="url(#cd)">
<path class="b" d="M42.5,238.54 L43.5,238.63 L44.5,238.73 L45.5,238.85 L46.5,239.01 L47.5,239.19 L48.5,239.40 L49.5,239.62 L50.5,239.87 L51.5,240.15 L52.5,240.47 L53.5,240.82 L54.5,241.21 L55.5,241.62 L56.5,242.05 L57.5,242.49 L58.5,242.95 L59.5,243.41 L60.5,243.88 L61.5,244.36 L62.5,244.86 L63.5,245.38 L64.5,245.93 L65.5,246.50 L66.5,247.09 L67.5,247.70 L68.5,248.34 L69.5,249.00 L70.5,249.68 L71.5,250.37 L72.5,251.06 L73.5,251.75 L74.5,252.44 L75.5,253.12 L76.5,253.81 L77.5,254.49 L78.5,255.16 L79.5,255.82 L80.5,256.45 L81.5,257.05 L82.5,257.63 L83.5,258.18 L84.5,258.70 L85.5,259.16 L86.5,259.57 L87.5,259.92 L88.5,260.23 L89.5,260.50 L90.5,260.73 L91.5,260.90 L92.5,261.00 L93.5,261.03 L94.5,261.01 L95.5,260.95 L96.5,260.88 L97.5,260.79 L98.5,260.71 L99.5,260.63 L100.5,260.57 L101.5,260.51 L102.5,260.47 L103.5,260.43 L104.5,260.40 L105.5,260.37 L106.5,260.34 L107.5,260.31 L108.5,260.28 L109.5,260.26 L110.5,260.23 L111.5,260.20 L112.5,260.17 L113.5,260.15 L114.5,260.12 L115.5,260.10 L116.5,260.07 L117.5,260.05 L118.5,260.04 L119.5,260.02 L120.5,260.01 L121.5,260.00 L122.5,260.00 L123.5,260.01 L124.5,260.03 L125.5,260.07 L126.5,260.13 L127.5,260.23 L128.5,260.35 L129.5,260.50 L130.5,260.66 L131.5,260.83 L132.5,261.00 L133.5,261.17 L134.5,261.33 L135.5,261.48 L136.5,261.63 L137.5,261.78 L138.5,261.93 L139.5,262.08 L140.5,262.23 L141.5,262.37 L142.5,262.49 L143.5,262.59 L144.5,262.67 L145.5,262.72 L146.5,262.74 L147.5,262.75 L148.5,262.73 L149.5,262.71 L150.5,262.68 L151.5,262.64 L152.5,262.60 L153.5,262.56 L154.5,262.52 L155.5,262.48 L156.5,262.44 L157.5,262.40 L158.5,262.37 L159.5,262.34 L160.5,262.30 L161.5,262.26 L162.5,262.22 L163.5,262.17 L164.5,262.11 L165.5,262.03 L166.5,261.90 L167.5,261.72 L168.5,261.48 L169.5,261.19 L170.5,260.87 L171.5,260.53 L172.5,260.16 L173.5,259.78 L174.5,259.36 L175.5,258.93 L176.5,258.47 L177.5,258.00 L178.5,257.51 L179.5,257.01 L180.5,256.50 L181.5,256.00 L182.5,255.50 L183.5,255.01 L184.5,254.52 L185.5,254.03 L186.5,253.52 L187.5,252.98 L188.5,252.40 L189.5,251.78 L190.5,251.11 L191.5,250.40 L192.5,249.65 L193.5,248.89 L194.5,248.13 L195.5,247.37 L196.5,246.64 L197.5,245.95 L198.5,245.30 L199.5,244.70 L200.5,244.15 L201.5,243.63 L202.5,243.15 L203.5,242.70 L204.5,242.28 L205.5,241.88 L206.5,241.52 L207.5,241.18 L208.5,240.86 L209.5,240.55 L210.5,240.26 L211.5,239.99 L212.5,239.73 L213.5,239.49 L214.5,239.27 L215.5,239.09 L216.5,238.93 L217.5,238.79 L218.5,238.66 L219.5,238.56 L220.5,238.47 L221.5,238.40 L222.5,238.34"/>
<path class="b" d="M42.5,244.49 L43.5,244.52 L44.5,244.56 L45.5,244.60 L46.5,244.64 L47.5,244.68 L48.5,244.73 L49.5,244.79 L50.5,244.84 L51.5,244.90 L52.5,244.96 L53.5,245.03 L54.5,245.09 L55.5,245.16 L56.5,245.23 L57.5,245.30 L58.5,245.37 L59.5,245.44 L60.5,245.52 L61.5,245.60 L62.5,245.69 L63.5,245.78 L64.5,245.87 L65.5,245.97 L66.5,246.08 L67.5,246.19 L68.5,246.30 L69.5,246.41 L70.5,246.52 L71.5,246.64 L72.5,246.75 L73.5,246.86 L74.5,246.97 L75.5,247.07 L76.5,247.17 L77.5,247.27 L78.5,247.36 L79.5,247.44 L80.5,247.52 L81.5,247.60 L82.5,247.67 L83.5,247.73 L84.5,247.80 L85.5,247.86 L86.5,247.92 L87.5,247.98 L88.5,248.04 L89.5,248.09 L90.5,248.14 L91.5,248.20 L92.5,248.24 L93.5,248.29 L94.5,248.34 L95.5,248.38 L96.5,248.42 L97.5,248.46 L98.5,248.50 L99.5,248.53 L100.5,248.56 L101.5,248.58 L102.5,248.59 L103.5,248.59 L104.5,248.59 L105.5,248.58 L106.5,248.58 L107.5,248.60 L108.5,248.63 L109.5,248.68 L110.5,248.74 L111.5,248.82 L112.5,248.91 L113.5,249.01 L114.5,249.12 L115.5,249.24 L116.5,249.36 L117.5,249.48 L118.5,249.60 L119.5,249.73 L120.5,249.85 L121.5,249.96 L122.5,250.08 L123.5,250.20 L124.5,250.32 L125.5,250.44 L126.5,250.57 L127.5,250.70 L128.5,250.83 L129.5,250.97 L130.5,251.10 L131.5,251.24 L132.5,251.38 L133.5,251.51 L134.5,251.64 L135.5,251.77 L136.5,251.90 L137.5,252.03 L138.5,252.14 L139.5,252.26 L140.5,252.37 L141.5,252.47 L142.5,252.56 L143.5,252.65 L144.5,252.73 L145.5,252.79 L146.5,252.84 L147.5,252.88 L148.5,252.89 L149.5,252.88 L150.5,252.84 L151.5,252.79 L152.5,252.71 L153.5,252.62 L154.5,252.52 L155.5,252.40 L156.5,252.27 L157.5,252.14 L158.5,252.00 L159.5,251.85 L160.5,251.70 L161.5,251.54 L162.5,251.37 L163.5,251.18 L164.5,250.98 L165.5,250.77 L166.5,250.56 L167.5,250.34 L168.5,250.13 L169.5,249.93 L170.5,249.73 L171.5,249.55 L172.5,249.37 L173.5,249.20 L174.5,249.04 L175.5,248.87 L176.5,248.71 L177.5,248.56 L178.5,248.40 L179.5,248.25 L180.5,248.10 L181.5,247.95 L182.5,247.81 L183.5,247.66 L184.5,247.52 L185.5,247.38 L186.5,247.24 L187.5,247.10 L188.5,246.96 L189.5,246.83 L190.5,246.69 L191.5,246.54 L192.5,246.40 L193.5,246.25 L194.5,246.10 L195.5,245.94 L196.5,245.79 L197.5,245.64 L198.5,245.50 L199.5,245.37 L200.5,245.26 L201.5,245.15 L202.5,245.06 L203.5,244.98 L204.5,244.91 L205.5,244.84 L206.5,244.78 L207.5,244.72 L208.5,244.66 L209.5,244.61 L210.5,244.56 L211.5,244.52 L212.5,244.47 L213.5,244.43 L214.5,244.38 L215.5,244.34 L216.5,244.30 L217.5,244.25 L218.5,244.21 L219.5,244.18 L220.5,244.14 L221.5,244.11 L222.5,244.08"/>
<path class="b" d="M42.5,263.37 L43.5,263.37 L44.5,263.38 L45.5,263.38 L46.5,263.39 L47.5,263.39 L48.5,263.39 L49.5,263.39 L50.5,263.39 L51.5,263.39 L52.5,263.39 L53.5,263.38 L54.5,263.38 L55.5,263.38 L56.5,263.38 L57.5,263.37 L58.5,263.37 L59.5,263.37 L60.5,263.37 L61.5,263.36 L62.5,263.36 L63.5,263.35 L64.5,263.34 L65.5,263.33 L66.5,263.32 L67.5,263.31 L68.5,263.29 L69.5,263.28 L70.5,263.26 L71.5,263.24 L72.5,263.21 L73.5,263.19 L74.5,263.17 L75.5,263.14 L76.5,263.11 L77.5,263.08 L78.5,263.04 L79.5,263.01 L80.5,262.96 L81.5,262.89 L82.5,262.80 L83.5,262.67 L84.5,262.52 L85.5,262.34 L86.5,262.15 L87.5,261.96 L88.5,261.77 L89.5,261.60 L90.5,261.45 L91.5,261.31 L92.5,261.19 L93.5,261.08 L94.5,260.98 L95.5,260.88 L96.5,260.79 L97.5,260.71 L98.5,260.64 L99.5,260.58 L100.5,260.54 L101.5,260.51 L102.5,260.49 L103.5,260.48 L104.5,260.48 L105.5,260.48 L106.5,260.48 L107.5,260.49 L108.5,260.50 L109.5,260.51 L110.5,260.53 L111.5,260.54 L112.5,260.56 L113.5,260.58 L114.5,260.60 L115.5,260.63 L116.5,260.66 L117.5,260.69 L118.5,260.73 L119.5,260.77 L120.5,260.81 L121.5,260.85 L122.5,260.90 L123.5,260.96 L124.5,261.03 L125.5,261.11 L126.5,261.22 L127.5,261.35 L128.5,261.51 L129.5,261.69 L130.5,261.88 L131.5,262.08 L132.5,262.27 L133.5,262.46 L134.5,262.64 L135.5,262.80 L136.5,262.96 L137.5,263.10 L138.5,263.24 L139.5,263.38 L140.5,263.52 L141.5,263.66 L142.5,263.79 L143.5,263.92 L144.5,264.06 L145.5,264.19 L146.5,264.33 L147.5,264.46 L148.5,264.60 L149.5,264.74 L150.5,264.88 L151.5,265.02 L152.5,265.15 L153.5,265.27 L154.5,265.39 L155.5,265.50 L156.5,265.61 L157.5,265.70 L158.5,265.78 L159.5,265.86 L160.5,265.94 L161.5,266.01 L162.5,266.08 L163.5,266.16 L164.5,266.24 L165.5,266.32 L166.5,266.41 L167.5,266.51 L168.5,266.61 L169.5,266.72 L170.5,266.83 L171.5,266.95 L172.5,267.07 L173.5,267.21 L174.5,267.35 L175.5,267.50 L176.5,267.68 L177.5,267.88 L178.5,268.10 L179.5,268.35 L180.5,268.63 L181.5,268.92 L182.5,269.23 L183.5,269.54 L184.5,269.86 L185.5,270.18 L186.5,270.50 L187.5,270.83 L188.5,271.16 L189.5,271.51 L190.5,271.87 L191.5,272.25 L192.5,272.65 L193.5,273.08 L194.5,273.54 L195.5,274.06 L196.5,274.63 L197.5,275.25 L198.5,275.90 L199.5,276.54 L200.5,277.15 L201.5,277.69 L202.5,278.18 L203.5,278.62 L204.5,279.02 L205.5,279.40 L206.5,279.76 L207.5,280.10 L208.5,280.42 L209.5,280.72 L210.5,281.00 L211.5,281.27 L212.5,281.52 L213.5,281.76 L214.5,281.99 L215.5,282.22 L216.5,282.45 L217.5,282.66 L218.5,282.86 L219.5,283.04 L220.5,283.20 L221.5,283.34 L222.5,283.47"/>
<path class="b" d="M42.5,263.37 L43.5,263.38 L44.5,263.40 L45.5,263.42 L46.5,263.45 L47.5,263.47 L48.5,263.50 L49.5,263.54 L50.5,263.57 L51.5,263.61 L52.5,263.64 L53.5,263.68 L54.5,263.72 L55.5,263.77 L56.5,263.81 L57.5,263.85 L58.5,263.89 L59.5,263.94 L60.5,263.98 L61.5,264.03 L62.5,264.08 L63.5,264.13 L64.5,264.18 L65.5,264.24 L66.5,264.30 L67.5,264.36 L68.5,264.43 L69.5,264.49 L70.5,264.56 L71.5,264.64 L72.5,264.71 L73.5,264.79 L74.5,264.87 L75.5,264.95 L76.5,265.03 L77.5,265.11 L78.5,265.20 L79.5,265.28 L80.5,265.38 L81.5,265.47 L82.5,265.58 L83.5,265.69 L84.5,265.80 L85.5,265.93 L86.5,266.06 L87.5,266.18 L88.5,266.31 L89.5,266.43 L90.5,266.55 L91.5,266.67 L92.5,266.78 L93.5,266.89 L94.5,267.00 L95.5,267.11 L96.5,267.21 L97.5,267.31 L98.5,267.41 L99.5,267.50 L100.5,267.58 L101.5,267.67 L102.5,267.74 L103.5,267.82 L104.5,267.88 L105.5,267.95 L106.5,268.00 L107.5,268.05 L108.5,268.08 L109.5,268.11 L110.5,268.14 L111.5,268.16 L112.5,268.19 L113.5,268.21 L114.5,268.23 L115.5,268.25 L116.5,268.26 L117.5,268.28 L118.5,268.30 L119.5,268.31 L120.5,268.33 L121.5,268.34 L122.5,268.35 L123.5,268.37 L124.5,268.39 L125.5,268.42 L126.5,268.46 L127.5,268.51 L128.5,268.57 L129.5,268.64 L130.5,268.71 L131.5,268.79 L132.5,268.88 L133.5,268.96 L134.5,269.05 L135.5,269.14 L136.5,269.23 L137.5,269.33 L138.5,269.43 L139.5,269.54 L140.5,269.65 L141.5,269.76 L142.5,269.88 L143.5,269.99 L144.5,270.08 L145.5,270.15 L146.5,270.19 L147.5,270.19 L148.5,270.16 L149.5,270.10 L150.5,270.03 L151.5,269.95 L152.5,269.87 L153.5,269.78 L154.5,269.71 L155.5,269.64 L156.5,269.59 L157.5,269.55 L158.5,269.53 L159.5,269.54 L160.5,269.60 L161.5,269.72 L162.5,269.91 L163.5,270.17 L164.5,270.48 L165.5,270.81 L166.5,271.15 L167.5,271.50 L168.5,271.84 L169.5,272.20 L170.5,272.56 L171.5,272.92 L172.5,273.28 L173.5,273.63 L174.5,273.98 L175.5,274.32 L176.5,274.65 L177.5,274.97 L178.5,275.29 L179.5,275.60 L180.5,275.91 L181.5,276.22 L182.5,276.51 L183.5,276.80 L184.5,277.09 L185.5,277.36 L186.5,277.62 L187.5,277.88 L188.5,278.12 L189.5,278.36 L190.5,278.59 L191.5,278.82 L192.5,279.05 L193.5,279.28 L194.5,279.53 L195.5,279.78 L196.5,280.05 L197.5,280.32 L198.5,280.59 L199.5,280.86 L200.5,281.10 L201.5,281.33 L202.5,281.53 L203.5,281.72 L204.5,281.89 L205.5,282.05 L206.5,282.20 L207.5,282.35 L208.5,282.48 L209.5,282.60 L210.5,282.70 L211.5,282.80 L212.5,282.89 L213.5,282.97 L214.5,283.05 L215.5,283.12 L216.5,283.19 L217.5,283.26 L218.5,283.31 L219.5,283.37 L220.5,283.41 L221.5,283.44 L222.5,283.47"/>
<path class="b" d="M42.5,283.47 L43.5,283.38 L44.5,283.26 L45.5,283.12 L46.5,282.94 L47.5,282.73 L48.5,282.49 L49.5,282.22 L50.5,281.91 L51.5,281.57 L52.5,281.19 L53.5,280.77 L54.5,280.32 L55.5,279.84 L56.5,279.35 L57.5,278.84 L58.5,278.34 L59.5,277.83 L60.5,277.33 L61.5,276.83 L62.5,276.33 L63.5,275.83 L64.5,275.32 L65.5,274.82 L66.5,274.31 L67.5,273.80 L68.5,273.30 L69.5,272.81 L70.5,272.33 L71.5,271.85 L72.5,271.37 L73.5,270.90 L74.5,270.43 L75.5,269.96 L76.5,269.51 L77.5,269.08 L78.5,268.66 L79.5,268.26 L80.5,267.89 L81.5,267.54 L82.5,267.22 L83.5,266.91 L84.5,266.64 L85.5,266.40 L86.5,266.19 L87.5,266.02 L88.5,265.88 L89.5,265.77 L90.5,265.69 L91.5,265.65 L92.5,265.65 L93.5,265.71 L94.5,265.82 L95.5,265.97 L96.5,266.15 L97.5,266.34 L98.5,266.54 L99.5,266.73 L100.5,266.89 L101.5,267.02 L102.5,267.13 L103.5,267.22 L104.5,267.30 L105.5,267.36 L106.5,267.41 L107.5,267.44 L108.5,267.45 L109.5,267.46 L110.5,267.45 L111.5,267.44 L112.5,267.43 L113.5,267.41 L114.5,267.38 L115.5,267.35 L116.5,267.32 L117.5,267.28 L118.5,267.23 L119.5,267.18 L120.5,267.13 L121.5,267.07 L122.5,267.01 L123.5,266.95 L124.5,266.89 L125.5,266.84 L126.5,266.79 L127.5,266.74 L128.5,266.70 L129.5,266.65 L130.5,266.61 L131.5,266.56 L132.5,266.51 L133.5,266.45 L134.5,266.38 L135.5,266.29 L136.5,266.18 L137.5,266.05 L138.5,265.91 L139.5,265.76 L140.5,265.63 L141.5,265.51 L142.5,265.40 L143.5,265.29 L144.5,265.19 L145.5,265.10 L146.5,265.01 L147.5,264.93 L148.5,264.85 L149.5,264.77 L150.5,264.70 L151.5,264.63 L152.5,264.57 L153.5,264.51 L154.5,264.46 L155.5,264.42 L156.5,264.39 L157.5,264.36 L158.5,264.33 L159.5,264.31 L160.5,264.28 L161.5,264.26 L162.5,264.25 L163.5,264.23 L164.5,264.22 L165.5,264.21 L166.5,264.21 L167.5,264.20 L168.5,264.20 L169.5,264.21 L170.5,264.21 L171.5,264.21 L172.5,264.21 L173.5,264.21 L174.5,264.21 L175.5,264.20 L176.5,264.19 L177.5,264.18 L178.5,264.17 L179.5,264.15 L180.5,264.13 L181.5,264.11 L182.5,264.08 L183.5,264.06 L184.5,264.04 L185.5,264.02 L186.5,264.00 L187.5,263.98 L188.5,263.95 L189.5,263.93 L190.5,263.91 L191.5,263.89 L192.5,263.86 L193.5,263.83 L194.5,263.80 L195.5,263.76 L196.5,263.71 L197.5,263.64 L198.5,263.58 L199.5,263.51 L200.5,263.45 L201.5,263.40 L202.5,263.35 L203.5,263.32 L204.5,263.30 L205.5,263.28 L206.5,263.26 L207.5,263.24 L208.5,263.23 L209.5,263.23 L210.5,263.22 L211.5,263.22 L212.5,263.22 L213.5,263.23 L214.5,263.24 L215.5,263.24 L216.5,263.26 L217.5,263.27 L218.5,263.29 L219.5,263.30 L220.5,263.32 L221.5,263.35 L222.5,263.37"/>
<path class="b" d="M42.5,283.47 L43.5,283.35 L44.5,283.23 L45.5,283.10 L46.5,282.97 L47.5,282.84 L48.5,282.70 L49.5,282.56 L50.5,282.41 L51.5,282.26 L52.5,282.11 L53.5,281.95 L54.5,281.80 L55.5,281.64 L56.5,281.47 L57.5,281.31 L58.5,281.14 L59.5,280.97 L60.5,280.80 L61.5,280.62 L62.5,280.44 L63.5,280.24 L64.5,280.04 L65.5,279.82 L66.5,279.61 L67.5,279.39 L68.5,279.16 L69.5,278.94 L70.5,278.71 L71.5,278.49 L72.5,278.27 L73.5,278.05 L74.5,277.84 L75.5,277.64 L76.5,277.45 L77.5,277.27 L78.5,277.09 L79.5,276.94 L80.5,276.79 L81.5,276.65 L82.5,276.53 L83.5,276.40 L84.5,276.29 L85.5,276.17 L86.5,276.06 L87.5,275.96 L88.5,275.86 L89.5,275.76 L90.5,275.66 L91.5,275.57 L92.5,275.48 L93.5,275.40 L94.5,275.32 L95.5,275.24 L96.5,275.17 L97.5,275.10 L98.5,275.04 L99.5,274.98 L100.5,274.92 L101.5,274.87 L102.5,274.83 L103.5,274.80 L104.5,274.77 L105.5,274.74 L106.5,274.71 L107.5,274.67 L108.5,274.62 L109.5,274.55 L110.5,274.47 L111.5,274.37 L112.5,274.26 L113.5,274.14 L114.5,274.01 L115.5,273.88 L116.5,273.74 L117.5,273.58 L118.5,273.42 L119.5,273.24 L120.5,273.04 L121.5,272.82 L122.5,272.59 L123.5,272.34 L124.5,272.06 L125.5,271.75 L126.5,271.39 L127.5,271.01 L128.5,270.60 L129.5,270.20 L130.5,269.82 L131.5,269.46 L132.5,269.11 L133.5,268.77 L134.5,268.43 L135.5,268.08 L136.5,267.73 L137.5,267.37 L138.5,267.01 L139.5,266.65 L140.5,266.29 L141.5,265.94 L142.5,265.58 L143.5,265.24 L144.5,264.91 L145.5,264.59 L146.5,264.29 L147.5,264.01 L148.5,263.76 L149.5,263.53 L150.5,263.32 L151.5,263.13 L152.5,262.96 L153.5,262.81 L154.5,262.70 L155.5,262.62 L156.5,262.57 L157.5,262.53 L158.5,262.51 L159.5,262.49 L160.5,262.47 L161.5,262.46 L162.5,262.46 L163.5,262.45 L164.5,262.46 L165.5,262.47 L166.5,262.48 L167.5,262.50 L168.5,262.52 L169.5,262.54 L170.5,262.56 L171.5,262.58 L172.5,262.60 L173.5,262.62 L174.5,262.64 L175.5,262.66 L176.5,262.68 L177.5,262.69 L178.5,262.70 L179.5,262.71 L180.5,262.72 L181.5,262.73 L182.5,262.74 L183.5,262.75 L184.5,262.76 L185.5,262.76 L186.5,262.77 L187.5,262.78 L188.5,262.79 L189.5,262.80 L190.5,262.81 L191.5,262.82 L192.5,262.84 L193.5,262.85 L194.5,262.87 L195.5,262.90 L196.5,262.93 L197.5,262.98 L198.5,263.02 L199.5,263.07 L200.5,263.11 L201.5,263.14 L202.5,263.17 L203.5,263.20 L204.5,263.22 L205.5,263.24 L206.5,263.25 L207.5,263.27 L208.5,263.29 L209.5,263.30 L210.5,263.31 L211.5,263.33 L212.5,263.34 L213.5,263.35 L214.5,263.35 L215.5,263.36 L216.5,263.37 L217.5,263.37 L218.5,263.37 L219.5,263.37 L220.5,263.37 L221.5,263.37 L222.5,263.37"/>
<path class="r" d="M42.5,377.45 L43.5,375.49 L44.5,373.54 L45.5,371.59 L46.5,369.66 L47.5,367.73 L48.5,365.80 L49.5,363.88 L50.5,361.96 L51.5,360.07 L52.5,358.22 L53.5,356.44 L54.5,354.73 L55.5,353.08 L56.5,351.50 L57.5,349.96 L58.5,348.48 L59.5,347.05 L60.5,345.66 L61.5,344.31 L62.5,343.00 L63.5,341.72 L64.5,340.47 L65.5,339.28 L66.5,338.14 L67.5,337.07 L68.5,336.05 L69.5,335.09 L70.5,334.17 L71.5,333.30 L72.5,332.47 L73.5,331.68 L74.5,330.94 L75.5,330.23 L76.5,329.57 L77.5,328.93 L78.5,328.32 L79.5,327.73 L80.5,327.15 L81.5,326.57 L82.5,326.00 L83.5,325.44 L84.5,324.87 L85.5,324.34 L86.5,323.83 L87.5,323.38 L88.5,322.97 L89.5,322.60 L90.5,322.26 L91.5,321.94 L92.5,321.65 L93.5,321.38 L94.5,321.14 L95.5,320.93 L96.5,320.77 L97.5,320.63 L98.5,320.52 L99.5,320.42 L100.5,320.32 L101.5,320.24 L102.5,320.16 L103.5,320.10 L104.5,320.04 L105.5,320.01 L106.5,320.00 L107.5,320.00 L108.5,320.03 L109.5,320.07 L110.5,320.13 L111.5,320.19 L112.5,320.26 L113.5,320.33 L114.5,320.40 L115.5,320.48 L116.5,320.55 L117.5,320.63 L118.5,320.72 L119.5,320.80 L120.5,320.89 L121.5,320.97 L122.5,321.04 L123.5,321.08 L124.5,321.10 L125.5,321.07 L126.5,321.00 L127.5,320.88 L128.5,320.72 L129.5,320.53 L130.5,320.31 L131.5,320.07 L132.5,319.82 L133.5,319.57 L134.5,319.33 L135.5,319.11 L136.5,318.90 L137.5,318.71 L138.5,318.54 L139.5,318.38 L140.5,318.23 L141.5,318.09 L142.5,317.96 L143.5,317.86 L144.5,317.79 L145.5,317.75 L146.5,317.75 L147.5,317.80 L148.5,317.89 L149.5,318.03 L150.5,318.21 L151.5,318.43 L152.5,318.68 L153.5,318.95 L154.5,319.24 L155.5,319.55 L156.5,319.86 L157.5,320.16 L158.5,320.47 L159.5,320.79 L160.5,321.10 L161.5,321.43 L162.5,321.77 L163.5,322.12 L164.5,322.47 L165.5,322.82 L166.5,323.17 L167.5,323.51 L168.5,323.84 L169.5,324.17 L170.5,324.49 L171.5,324.80 L172.5,325.11 L173.5,325.42 L174.5,325.73 L175.5,326.05 L176.5,326.39 L177.5,326.75 L178.5,327.13 L179.5,327.54 L180.5,327.98 L181.5,328.46 L182.5,328.98 L183.5,329.53 L184.5,330.11 L185.5,330.72 L186.5,331.36 L187.5,332.05 L188.5,332.80 L189.5,333.61 L190.5,334.49 L191.5,335.44 L192.5,336.44 L193.5,337.50 L194.5,338.58 L195.5,339.70 L196.5,340.83 L197.5,341.98 L198.5,343.16 L199.5,344.37 L200.5,345.61 L201.5,346.89 L202.5,348.20 L203.5,349.54 L204.5,350.89 L205.5,352.27 L206.5,353.67 L207.5,355.08 L208.5,356.53 L209.5,358.00 L210.5,359.50 L211.5,361.01 L212.5,362.53 L213.5,364.06 L214.5,365.58 L215.5,367.08 L216.5,368.58 L217.5,370.05 L218.5,371.52 L219.5,372.98 L220.5,374.43 L221.5,375.87 L222.5,377.31"/>
<path class="r" d="M42.5,377.45 L43.5,376.22 L44.5,374.99 L45.5,373.77 L46.5,372.53 L47.5,371.29 L48.5,370.05 L49.5,368.80 L50.5,367.54 L51.5,366.28 L52.5,365.04 L53.5,363.82 L54.5,362.63 L55.5,361.46 L56.5,360.31 L57.5,359.19 L58.5,358.10 L59.5,357.04 L60.5,356.00 L61.5,355.00 L62.5,354.02 L63.5,353.07 L64.5,352.15 L65.5,351.26 L66.5,350.39 L67.5,349.56 L68.5,348.77 L69.5,348.00 L70.5,347.25 L71.5,346.53 L72.5,345.84 L73.5,345.17 L74.5,344.52 L75.5,343.90 L76.5,343.29 L77.5,342.70 L78.5,342.13 L79.5,341.59 L80.5,341.08 L81.5,340.62 L82.5,340.19 L83.5,339.80 L84.5,339.43 L85.5,339.09 L86.5,338.77 L87.5,338.48 L88.5,338.21 L89.5,337.95 L90.5,337.71 L91.5,337.48 L92.5,337.27 L93.5,337.06 L94.5,336.88 L95.5,336.71 L96.5,336.57 L97.5,336.44 L98.5,336.32 L99.5,336.21 L100.5,336.11 L101.5,336.02 L102.5,335.94 L103.5,335.86 L104.5,335.80 L105.5,335.74 L106.5,335.68 L107.5,335.62 L108.5,335.57 L109.5,335.51 L110.5,335.46 L111.5,335.40 L112.5,335.34 L113.5,335.27 L114.5,335.20 L115.5,335.10 L116.5,334.97 L117.5,334.77 L118.5,334.50 L119.5,334.15 L120.5,333.74 L121.5,333.30 L122.5,332.89 L123.5,332.53 L124.5,332.23 L125.5,331.99 L126.5,331.79 L127.5,331.60 L128.5,331.44 L129.5,331.28 L130.5,331.13 L131.5,331.00 L132.5,330.88 L133.5,330.78 L134.5,330.70 L135.5,330.65 L136.5,330.61 L137.5,330.60 L138.5,330.60 L139.5,330.62 L140.5,330.64 L141.5,330.66 L142.5,330.68 L143.5,330.71 L144.5,330.73 L145.5,330.75 L146.5,330.76 L147.5,330.77 L148.5,330.78 L149.5,330.79 L150.5,330.79 L151.5,330.79 L152.5,330.79 L153.5,330.79 L154.5,330.79 L155.5,330.78 L156.5,330.78 L157.5,330.77 L158.5,330.75 L159.5,330.72 L160.5,330.66 L161.5,330.57 L162.5,330.46 L163.5,330.34 L164.5,330.22 L165.5,330.10 L166.5,330.00 L167.5,329.93 L168.5,329.93 L169.5,330.02 L170.5,330.21 L171.5,330.50 L172.5,330.89 L173.5,331.34 L174.5,331.84 L175.5,332.37 L176.5,332.93 L177.5,333.53 L178.5,334.17 L179.5,334.86 L180.5,335.60 L181.5,336.39 L182.5,337.20 L183.5,338.05 L184.5,338.91 L185.5,339.79 L186.5,340.68 L187.5,341.58 L188.5,342.49 L189.5,343.42 L190.5,344.38 L191.5,345.36 L192.5,346.36 L193.5,347.38 L194.5,348.41 L195.5,349.45 L196.5,350.51 L197.5,351.57 L198.5,352.64 L199.5,353.72 L200.5,354.82 L201.5,355.93 L202.5,357.04 L203.5,358.15 L204.5,359.26 L205.5,360.36 L206.5,361.45 L207.5,362.53 L208.5,363.61 L209.5,364.67 L210.5,365.74 L211.5,366.79 L212.5,367.84 L213.5,368.87 L214.5,369.88 L215.5,370.88 L216.5,371.86 L217.5,372.82 L218.5,373.76 L219.5,374.67 L220.5,375.57 L221.5,376.44 L222.5,377.31"/>
<path class="r" d="M42.5,377.45 L43.5,377.23 L44.5,376.99 L45.5,376.71 L46.5,376.40 L47.5,376.06 L48.5,375.69 L49.5,375.28 L50.5,374.83 L51.5,374.34 L52.5,373.81 L53.5,373.25 L54.5,372.66 L55.5,372.04 L56.5,371.38 L57.5,370.70 L58.5,369.98 L59.5,369.24 L60.5,368.48 L61.5,367.68 L62.5,366.87 L63.5,366.02 L64.5,365.13 L65.5,364.22 L66.5,363.28 L67.5,362.31 L68.5,361.30 L69.5,360.26 L70.5,359.19 L71.5,358.10 L72.5,356.98 L73.5,355.86 L74.5,354.74 L75.5,353.62 L76.5,352.51 L77.5,351.40 L78.5,350.29 L79.5,349.19 L80.5,348.09 L81.5,347.01 L82.5,345.95 L83.5,344.89 L84.5,343.86 L85.5,342.85 L86.5,341.88 L87.5,340.96 L88.5,340.08 L89.5,339.25 L90.5,338.46 L91.5,337.72 L92.5,337.02 L93.5,336.37 L94.5,335.77 L95.5,335.20 L96.5,334.68 L97.5,334.20 L98.5,333.79 L99.5,333.44 L100.5,333.14 L101.5,332.88 L102.5,332.67 L103.5,332.51 L104.5,332.37 L105.5,332.26 L106.5,332.17 L107.5,332.12 L108.5,332.11 L109.5,332.14 L110.5,332.20 L111.5,332.28 L112.5,332.38 L113.5,332.48 L114.5,332.57 L115.5,332.62 L116.5,332.63 L117.5,332.59 L118.5,332.50 L119.5,332.37 L120.5,332.21 L121.5,332.04 L122.5,331.87 L123.5,331.72 L124.5,331.58 L125.5,331.47 L126.5,331.38 L127.5,331.29 L128.5,331.21 L129.5,331.13 L130.5,331.06 L131.5,330.98 L132.5,330.91 L133.5,330.84 L134.5,330.78 L135.5,330.71 L136.5,330.65 L137.5,330.59 L138.5,330.53 L139.5,330.48 L140.5,330.42 L141.5,330.38 L142.5,330.33 L143.5,330.29 L144.5,330.26 L145.5,330.23 L146.5,330.22 L147.5,330.23 L148.5,330.28 L149.5,330.35 L150.5,330.45 L151.5,330.59 L152.5,330.75 L153.5,330.94 L154.5,331.14 L155.5,331.35 L156.5,331.58 L157.5,331.81 L158.5,332.07 L159.5,332.36 L160.5,332.69 L161.5,333.09 L162.5,333.53 L163.5,334.03 L164.5,334.57 L165.5,335.14 L166.5,335.73 L167.5,336.35 L168.5,336.98 L169.5,337.64 L170.5,338.34 L171.5,339.08 L172.5,339.85 L173.5,340.65 L174.5,341.49 L175.5,342.35 L176.5,343.22 L177.5,344.12 L178.5,345.03 L179.5,345.97 L180.5,346.93 L181.5,347.92 L182.5,348.92 L183.5,349.94 L184.5,350.97 L185.5,351.99 L186.5,353.02 L187.5,354.04 L188.5,355.06 L189.5,356.08 L190.5,357.12 L191.5,358.15 L192.5,359.17 L193.5,360.19 L194.5,361.18 L195.5,362.14 L196.5,363.08 L197.5,363.98 L198.5,364.85 L199.5,365.71 L200.5,366.53 L201.5,367.34 L202.5,368.11 L203.5,368.85 L204.5,369.56 L205.5,370.23 L206.5,370.86 L207.5,371.46 L208.5,372.03 L209.5,372.58 L210.5,373.11 L211.5,373.62 L212.5,374.10 L213.5,374.56 L214.5,374.98 L215.5,375.37 L216.5,375.73 L217.5,376.06 L218.5,376.37 L219.5,376.65 L220.5,376.90 L221.5,377.11 L222.5,377.31"/>
</g>
<rect x="42.5" y="217.5" width="180.0" height="160.0" fill="none" stroke="#404040" stroke-width="1"/>
<path d="M38.90,377.50H42.50M40.50,371.10H42.50M40.50,364.70H42.50M40.50,358.30H42.50M40.50,351.90H42.50M38.90,345.50H42.50M40.50,339.10H42.50M40.50,332.70H42.50M40.50,326.30H42.50M40.50,319.90H42.50M38.90,313.50H42.50M40.50,307.10H42.50M40.50,300.70H42.50M40.50,294.30H42.50M40.50,287.90H42.50M38.90,281.50H42.50M40.50,275.10H42.50M40.50,268.70H42.50M40.50,262.30H42.50M40.50,255.90H42.50M38.90,249.50H42.50M40.50,243.10H42.50M40.50,236.70H42.50M40.50,230.30H42.50M40.50,223.90H42.50M38.90,217.50H42.50" stroke="#404040" stroke-width="1" fill="none"/>
<text class="tk" x="37.20" y="381.10">0</text>
<text class="tk" x="37.20" y="349.10">100</text>
<text class="tk" x="37.20" y="317.10">200</text>
<text class="tk" x="37.20" y="285.10">300</text>
<text class="tk" x="37.20" y="253.10">400</text>
<text class="tk" x="37.20" y="221.10">500</text>
<text class="xl" x="43.50" y="390.10">Γ</text>
<text class="xl" x="107.78" y="390.10">M</text>
<text class="xl" x="147.62" y="390.10">K</text>
<text class="xl" x="223.30" y="390.10">Γ</text>
<text class="pl" transform="translate(17.50,220.20) scale(0.94,1)">(d)</text>
<text class="yl" transform="translate(14.10,296.00) rotate(-90)">ω (cm<tspan font-size="8px" dy="-6.2">-1</tspan><tspan dy="6.2">)</tspan></text>
<rect x="151.80" y="222.80" width="25.40" height="20.40" fill="#000"/>
<rect x="149.80" y="220.60" width="25.40" height="20.40" fill="#fff" stroke="#c8c8c8" stroke-width="0.8"/>
<text class="lg" transform="translate(151.80,233.80) scale(0.9,1)">WS<tspan font-size="7.6px" dx="0.8" dy="4.1">2</tspan></text>
</g>
<g>
<clipPath id="ce"><rect x="271.5" y="216.5" width="180.0" height="161.6"/></clipPath>
<line x1="337.38" y1="217.5" x2="337.38" y2="377.5" stroke="#8a8a8a" stroke-width="1"/>
<line x1="375.42" y1="217.5" x2="375.42" y2="377.5" stroke="#8a8a8a" stroke-width="1"/>
<g clip-path="url(#ce)">
<path class="b" d="M271.5,279.36 L272.5,279.39 L273.5,279.44 L274.5,279.50 L275.5,279.58 L276.5,279.68 L277.5,279.80 L278.5,279.94 L279.5,280.10 L280.5,280.27 L281.5,280.47 L282.5,280.70 L283.5,280.96 L284.5,281.26 L285.5,281.59 L286.5,281.94 L287.5,282.31 L288.5,282.68 L289.5,283.05 L290.5,283.44 L291.5,283.82 L292.5,284.22 L293.5,284.63 L294.5,285.04 L295.5,285.45 L296.5,285.86 L297.5,286.26 L298.5,286.66 L299.5,287.04 L300.5,287.42 L301.5,287.78 L302.5,288.14 L303.5,288.50 L304.5,288.85 L305.5,289.19 L306.5,289.53 L307.5,289.85 L308.5,290.17 L309.5,290.48 L310.5,290.78 L311.5,291.08 L312.5,291.37 L313.5,291.65 L314.5,291.93 L315.5,292.20 L316.5,292.46 L317.5,292.70 L318.5,292.93 L319.5,293.14 L320.5,293.34 L321.5,293.52 L322.5,293.69 L323.5,293.86 L324.5,294.01 L325.5,294.16 L326.5,294.30 L327.5,294.43 L328.5,294.54 L329.5,294.64 L330.5,294.73 L331.5,294.82 L332.5,294.89 L333.5,294.96 L334.5,295.02 L335.5,295.07 L336.5,295.11 L337.5,295.15 L338.5,295.17 L339.5,295.19 L340.5,295.21 L341.5,295.23 L342.5,295.24 L343.5,295.25 L344.5,295.26 L345.5,295.27 L346.5,295.29 L347.5,295.30 L348.5,295.32 L349.5,295.33 L350.5,295.36 L351.5,295.38 L352.5,295.40 L353.5,295.43 L354.5,295.45 L355.5,295.48 L356.5,295.51 L357.5,295.54 L358.5,295.57 L359.5,295.60 L360.5,295.63 L361.5,295.66 L362.5,295.69 L363.5,295.72 L364.5,295.76 L365.5,295.79 L366.5,295.83 L367.5,295.87 L368.5,295.91 L369.5,295.95 L370.5,296.00 L371.5,296.04 L372.5,296.08 L373.5,296.11 L374.5,296.14 L375.5,296.17 L376.5,296.18 L377.5,296.18 L378.5,296.17 L379.5,296.15 L380.5,296.12 L381.5,296.08 L382.5,296.03 L383.5,295.98 L384.5,295.91 L385.5,295.85 L386.5,295.76 L387.5,295.67 L388.5,295.55 L389.5,295.43 L390.5,295.30 L391.5,295.16 L392.5,295.03 L393.5,294.90 L394.5,294.77 L395.5,294.63 L396.5,294.50 L397.5,294.36 L398.5,294.22 L399.5,294.06 L400.5,293.90 L401.5,293.71 L402.5,293.51 L403.5,293.28 L404.5,293.02 L405.5,292.74 L406.5,292.44 L407.5,292.11 L408.5,291.75 L409.5,291.36 L410.5,290.95 L411.5,290.53 L412.5,290.09 L413.5,289.65 L414.5,289.21 L415.5,288.78 L416.5,288.36 L417.5,287.95 L418.5,287.54 L419.5,287.13 L420.5,286.73 L421.5,286.33 L422.5,285.94 L423.5,285.56 L424.5,285.18 L425.5,284.81 L426.5,284.45 L427.5,284.09 L428.5,283.75 L429.5,283.42 L430.5,283.12 L431.5,282.83 L432.5,282.56 L433.5,282.31 L434.5,282.07 L435.5,281.84 L436.5,281.63 L437.5,281.43 L438.5,281.24 L439.5,281.06 L440.5,280.90 L441.5,280.74 L442.5,280.58 L443.5,280.44 L444.5,280.30 L445.5,280.18 L446.5,280.07 L447.5,279.98 L448.5,279.89 L449.5,279.82 L450.5,279.76 L451.5,279.70"/>
<path class="b" d="M271.5,297.83 L272.5,297.59 L273.5,297.36 L274.5,297.12 L275.5,296.90 L276.5,296.68 L277.5,296.47 L278.5,296.28 L279.5,296.09 L280.5,295.92 L281.5,295.76 L282.5,295.62 L283.5,295.49 L284.5,295.36 L285.5,295.24 L286.5,295.12 L287.5,295.00 L288.5,294.87 L289.5,294.74 L290.5,294.61 L291.5,294.46 L292.5,294.32 L293.5,294.17 L294.5,294.02 L295.5,293.87 L296.5,293.73 L297.5,293.60 L298.5,293.47 L299.5,293.35 L300.5,293.24 L301.5,293.14 L302.5,293.04 L303.5,292.94 L304.5,292.85 L305.5,292.77 L306.5,292.69 L307.5,292.63 L308.5,292.57 L309.5,292.52 L310.5,292.48 L311.5,292.45 L312.5,292.42 L313.5,292.39 L314.5,292.36 L315.5,292.33 L316.5,292.31 L317.5,292.30 L318.5,292.29 L319.5,292.29 L320.5,292.30 L321.5,292.31 L322.5,292.32 L323.5,292.34 L324.5,292.36 L325.5,292.38 L326.5,292.40 L327.5,292.42 L328.5,292.45 L329.5,292.47 L330.5,292.49 L331.5,292.52 L332.5,292.54 L333.5,292.57 L334.5,292.60 L335.5,292.63 L336.5,292.66 L337.5,292.71 L338.5,292.75 L339.5,292.81 L340.5,292.87 L341.5,292.93 L342.5,293.01 L343.5,293.08 L344.5,293.16 L345.5,293.25 L346.5,293.33 L347.5,293.42 L348.5,293.51 L349.5,293.59 L350.5,293.68 L351.5,293.76 L352.5,293.85 L353.5,293.93 L354.5,294.02 L355.5,294.11 L356.5,294.20 L357.5,294.30 L358.5,294.39 L359.5,294.48 L360.5,294.57 L361.5,294.65 L362.5,294.74 L363.5,294.82 L364.5,294.90 L365.5,294.98 L366.5,295.06 L367.5,295.13 L368.5,295.20 L369.5,295.28 L370.5,295.34 L371.5,295.40 L372.5,295.45 L373.5,295.50 L374.5,295.53 L375.5,295.55 L376.5,295.56 L377.5,295.55 L378.5,295.54 L379.5,295.52 L380.5,295.49 L381.5,295.45 L382.5,295.40 L383.5,295.35 L384.5,295.30 L385.5,295.24 L386.5,295.17 L387.5,295.10 L388.5,295.02 L389.5,294.94 L390.5,294.85 L391.5,294.77 L392.5,294.69 L393.5,294.61 L394.5,294.53 L395.5,294.45 L396.5,294.38 L397.5,294.30 L398.5,294.23 L399.5,294.16 L400.5,294.08 L401.5,294.02 L402.5,293.95 L403.5,293.89 L404.5,293.84 L405.5,293.78 L406.5,293.73 L407.5,293.68 L408.5,293.64 L409.5,293.60 L410.5,293.56 L411.5,293.52 L412.5,293.49 L413.5,293.46 L414.5,293.44 L415.5,293.42 L416.5,293.42 L417.5,293.42 L418.5,293.43 L419.5,293.46 L420.5,293.49 L421.5,293.54 L422.5,293.59 L423.5,293.65 L424.5,293.72 L425.5,293.79 L426.5,293.86 L427.5,293.95 L428.5,294.04 L429.5,294.14 L430.5,294.25 L431.5,294.38 L432.5,294.53 L433.5,294.69 L434.5,294.85 L435.5,295.03 L436.5,295.21 L437.5,295.39 L438.5,295.57 L439.5,295.75 L440.5,295.94 L441.5,296.12 L442.5,296.31 L443.5,296.51 L444.5,296.71 L445.5,296.91 L446.5,297.11 L447.5,297.32 L448.5,297.53 L449.5,297.75 L450.5,297.96 L451.5,298.18"/>
<path class="b" d="M271.5,297.83 L272.5,297.83 L273.5,297.84 L274.5,297.85 L275.5,297.87 L276.5,297.88 L277.5,297.90 L278.5,297.92 L279.5,297.94 L280.5,297.96 L281.5,297.99 L282.5,298.01 L283.5,298.04 L284.5,298.07 L285.5,298.10 L286.5,298.14 L287.5,298.17 L288.5,298.20 L289.5,298.24 L290.5,298.28 L291.5,298.33 L292.5,298.38 L293.5,298.43 L294.5,298.49 L295.5,298.55 L296.5,298.61 L297.5,298.68 L298.5,298.75 L299.5,298.82 L300.5,298.89 L301.5,298.96 L302.5,299.03 L303.5,299.09 L304.5,299.16 L305.5,299.22 L306.5,299.28 L307.5,299.34 L308.5,299.39 L309.5,299.44 L310.5,299.48 L311.5,299.53 L312.5,299.56 L313.5,299.60 L314.5,299.64 L315.5,299.67 L316.5,299.70 L317.5,299.73 L318.5,299.76 L319.5,299.78 L320.5,299.80 L321.5,299.82 L322.5,299.84 L323.5,299.85 L324.5,299.86 L325.5,299.87 L326.5,299.88 L327.5,299.88 L328.5,299.88 L329.5,299.88 L330.5,299.87 L331.5,299.84 L332.5,299.81 L333.5,299.76 L334.5,299.70 L335.5,299.63 L336.5,299.55 L337.5,299.46 L338.5,299.37 L339.5,299.26 L340.5,299.15 L341.5,299.03 L342.5,298.90 L343.5,298.77 L344.5,298.64 L345.5,298.50 L346.5,298.37 L347.5,298.24 L348.5,298.12 L349.5,298.00 L350.5,297.89 L351.5,297.79 L352.5,297.69 L353.5,297.59 L354.5,297.50 L355.5,297.40 L356.5,297.31 L357.5,297.23 L358.5,297.15 L359.5,297.07 L360.5,297.00 L361.5,296.94 L362.5,296.89 L363.5,296.86 L364.5,296.83 L365.5,296.83 L366.5,296.84 L367.5,296.87 L368.5,296.92 L369.5,296.98 L370.5,297.04 L371.5,297.11 L372.5,297.16 L373.5,297.20 L374.5,297.22 L375.5,297.22 L376.5,297.19 L377.5,297.13 L378.5,297.05 L379.5,296.96 L380.5,296.87 L381.5,296.77 L382.5,296.68 L383.5,296.60 L384.5,296.55 L385.5,296.52 L386.5,296.52 L387.5,296.54 L388.5,296.58 L389.5,296.64 L390.5,296.72 L391.5,296.81 L392.5,296.90 L393.5,297.02 L394.5,297.14 L395.5,297.29 L396.5,297.44 L397.5,297.59 L398.5,297.74 L399.5,297.87 L400.5,297.97 L401.5,298.06 L402.5,298.13 L403.5,298.20 L404.5,298.26 L405.5,298.32 L406.5,298.37 L407.5,298.42 L408.5,298.47 L409.5,298.51 L410.5,298.55 L411.5,298.58 L412.5,298.60 L413.5,298.62 L414.5,298.63 L415.5,298.64 L416.5,298.64 L417.5,298.63 L418.5,298.63 L419.5,298.62 L420.5,298.61 L421.5,298.60 L422.5,298.59 L423.5,298.58 L424.5,298.57 L425.5,298.56 L426.5,298.55 L427.5,298.54 L428.5,298.53 L429.5,298.52 L430.5,298.50 L431.5,298.49 L432.5,298.47 L433.5,298.46 L434.5,298.45 L435.5,298.43 L436.5,298.42 L437.5,298.40 L438.5,298.39 L439.5,298.37 L440.5,298.36 L441.5,298.34 L442.5,298.33 L443.5,298.31 L444.5,298.30 L445.5,298.28 L446.5,298.26 L447.5,298.25 L448.5,298.23 L449.5,298.21 L450.5,298.20 L451.5,298.18"/>
<path class="b" d="M271.5,297.83 L272.5,298.05 L273.5,298.27 L274.5,298.50 L275.5,298.75 L276.5,299.00 L277.5,299.25 L278.5,299.52 L279.5,299.79 L280.5,300.07 L281.5,300.37 L282.5,300.68 L283.5,301.00 L284.5,301.34 L285.5,301.68 L286.5,302.02 L287.5,302.34 L288.5,302.64 L289.5,302.92 L290.5,303.18 L291.5,303.43 L292.5,303.66 L293.5,303.88 L294.5,304.09 L295.5,304.29 L296.5,304.48 L297.5,304.65 L298.5,304.81 L299.5,304.96 L300.5,305.11 L301.5,305.25 L302.5,305.39 L303.5,305.52 L304.5,305.65 L305.5,305.76 L306.5,305.86 L307.5,305.93 L308.5,305.98 L309.5,306.00 L310.5,306.00 L311.5,305.98 L312.5,305.94 L313.5,305.89 L314.5,305.83 L315.5,305.77 L316.5,305.70 L317.5,305.63 L318.5,305.55 L319.5,305.48 L320.5,305.40 L321.5,305.32 L322.5,305.24 L323.5,305.16 L324.5,305.08 L325.5,304.99 L326.5,304.91 L327.5,304.83 L328.5,304.75 L329.5,304.68 L330.5,304.61 L331.5,304.55 L332.5,304.49 L333.5,304.45 L334.5,304.42 L335.5,304.40 L336.5,304.40 L337.5,304.42 L338.5,304.46 L339.5,304.52 L340.5,304.60 L341.5,304.70 L342.5,304.82 L343.5,304.94 L344.5,305.08 L345.5,305.22 L346.5,305.36 L347.5,305.51 L348.5,305.66 L349.5,305.81 L350.5,305.95 L351.5,306.09 L352.5,306.23 L353.5,306.37 L354.5,306.51 L355.5,306.65 L356.5,306.80 L357.5,306.94 L358.5,307.09 L359.5,307.24 L360.5,307.39 L361.5,307.54 L362.5,307.69 L363.5,307.84 L364.5,307.99 L365.5,308.16 L366.5,308.33 L367.5,308.51 L368.5,308.70 L369.5,308.89 L370.5,309.07 L371.5,309.25 L372.5,309.40 L373.5,309.53 L374.5,309.63 L375.5,309.69 L376.5,309.73 L377.5,309.73 L378.5,309.72 L379.5,309.69 L380.5,309.64 L381.5,309.57 L382.5,309.50 L383.5,309.42 L384.5,309.34 L385.5,309.25 L386.5,309.16 L387.5,309.07 L388.5,308.97 L389.5,308.87 L390.5,308.77 L391.5,308.66 L392.5,308.56 L393.5,308.46 L394.5,308.35 L395.5,308.25 L396.5,308.15 L397.5,308.05 L398.5,307.95 L399.5,307.85 L400.5,307.76 L401.5,307.68 L402.5,307.61 L403.5,307.54 L404.5,307.48 L405.5,307.43 L406.5,307.38 L407.5,307.33 L408.5,307.28 L409.5,307.23 L410.5,307.16 L411.5,307.08 L412.5,306.99 L413.5,306.88 L414.5,306.75 L415.5,306.59 L416.5,306.41 L417.5,306.20 L418.5,305.98 L419.5,305.75 L420.5,305.50 L421.5,305.25 L422.5,305.00 L423.5,304.74 L424.5,304.48 L425.5,304.21 L426.5,303.94 L427.5,303.65 L428.5,303.36 L429.5,303.07 L430.5,302.77 L431.5,302.48 L432.5,302.19 L433.5,301.90 L434.5,301.62 L435.5,301.35 L436.5,301.07 L437.5,300.80 L438.5,300.54 L439.5,300.28 L440.5,300.03 L441.5,299.79 L442.5,299.56 L443.5,299.36 L444.5,299.16 L445.5,298.98 L446.5,298.81 L447.5,298.66 L448.5,298.52 L449.5,298.39 L450.5,298.28 L451.5,298.18"/>
<path class="b" d="M271.5,321.83 L272.5,321.80 L273.5,321.76 L274.5,321.69 L275.5,321.58 L276.5,321.44 L277.5,321.28 L278.5,321.07 L279.5,320.84 L280.5,320.57 L281.5,320.25 L282.5,319.88 L283.5,319.44 L284.5,318.95 L285.5,318.43 L286.5,317.88 L287.5,317.35 L288.5,316.83 L289.5,316.34 L290.5,315.88 L291.5,315.44 L292.5,315.01 L293.5,314.60 L294.5,314.19 L295.5,313.79 L296.5,313.40 L297.5,313.02 L298.5,312.65 L299.5,312.29 L300.5,311.93 L301.5,311.57 L302.5,311.21 L303.5,310.86 L304.5,310.51 L305.5,310.19 L306.5,309.90 L307.5,309.63 L308.5,309.41 L309.5,309.23 L310.5,309.09 L311.5,308.96 L312.5,308.86 L313.5,308.76 L314.5,308.67 L315.5,308.60 L316.5,308.55 L317.5,308.51 L318.5,308.49 L319.5,308.50 L320.5,308.52 L321.5,308.56 L322.5,308.61 L323.5,308.67 L324.5,308.73 L325.5,308.79 L326.5,308.86 L327.5,308.92 L328.5,308.98 L329.5,309.05 L330.5,309.11 L331.5,309.17 L332.5,309.23 L333.5,309.29 L334.5,309.35 L335.5,309.41 L336.5,309.46 L337.5,309.52 L338.5,309.57 L339.5,309.63 L340.5,309.68 L341.5,309.73 L342.5,309.79 L343.5,309.84 L344.5,309.89 L345.5,309.93 L346.5,309.98 L347.5,310.02 L348.5,310.05 L349.5,310.09 L350.5,310.11 L351.5,310.12 L352.5,310.12 L353.5,310.11 L354.5,310.07 L355.5,310.03 L356.5,309.97 L357.5,309.90 L358.5,309.84 L359.5,309.77 L360.5,309.70 L361.5,309.65 L362.5,309.60 L363.5,309.57 L364.5,309.56 L365.5,309.59 L366.5,309.65 L367.5,309.75 L368.5,309.89 L369.5,310.05 L370.5,310.22 L371.5,310.38 L372.5,310.53 L373.5,310.64 L374.5,310.72 L375.5,310.75 L376.5,310.75 L377.5,310.72 L378.5,310.66 L379.5,310.59 L380.5,310.51 L381.5,310.42 L382.5,310.32 L383.5,310.22 L384.5,310.13 L385.5,310.03 L386.5,309.93 L387.5,309.83 L388.5,309.73 L389.5,309.63 L390.5,309.53 L391.5,309.43 L392.5,309.33 L393.5,309.22 L394.5,309.12 L395.5,309.01 L396.5,308.91 L397.5,308.81 L398.5,308.71 L399.5,308.62 L400.5,308.54 L401.5,308.48 L402.5,308.45 L403.5,308.43 L404.5,308.44 L405.5,308.47 L406.5,308.52 L407.5,308.59 L408.5,308.68 L409.5,308.78 L410.5,308.92 L411.5,309.09 L412.5,309.31 L413.5,309.58 L414.5,309.88 L415.5,310.21 L416.5,310.56 L417.5,310.92 L418.5,311.29 L419.5,311.67 L420.5,312.05 L421.5,312.45 L422.5,312.86 L423.5,313.28 L424.5,313.70 L425.5,314.13 L426.5,314.56 L427.5,314.99 L428.5,315.42 L429.5,315.85 L430.5,316.28 L431.5,316.71 L432.5,317.14 L433.5,317.57 L434.5,317.99 L435.5,318.39 L436.5,318.79 L437.5,319.17 L438.5,319.53 L439.5,319.88 L440.5,320.22 L441.5,320.54 L442.5,320.84 L443.5,321.11 L444.5,321.35 L445.5,321.56 L446.5,321.75 L447.5,321.91 L448.5,322.06 L449.5,322.18 L450.5,322.27 L451.5,322.36"/>
<path class="b" d="M271.5,321.83 L272.5,321.72 L273.5,321.61 L274.5,321.50 L275.5,321.39 L276.5,321.27 L277.5,321.16 L278.5,321.05 L279.5,320.93 L280.5,320.82 L281.5,320.71 L282.5,320.59 L283.5,320.48 L284.5,320.36 L285.5,320.25 L286.5,320.13 L287.5,320.01 L288.5,319.90 L289.5,319.78 L290.5,319.66 L291.5,319.54 L292.5,319.41 L293.5,319.29 L294.5,319.16 L295.5,319.03 L296.5,318.89 L297.5,318.76 L298.5,318.63 L299.5,318.50 L300.5,318.37 L301.5,318.24 L302.5,318.12 L303.5,318.00 L304.5,317.88 L305.5,317.77 L306.5,317.66 L307.5,317.56 L308.5,317.46 L309.5,317.37 L310.5,317.29 L311.5,317.20 L312.5,317.13 L313.5,317.05 L314.5,316.98 L315.5,316.91 L316.5,316.84 L317.5,316.78 L318.5,316.72 L319.5,316.65 L320.5,316.60 L321.5,316.54 L322.5,316.48 L323.5,316.43 L324.5,316.38 L325.5,316.33 L326.5,316.28 L327.5,316.23 L328.5,316.18 L329.5,316.14 L330.5,316.10 L331.5,316.06 L332.5,316.03 L333.5,316.00 L334.5,315.97 L335.5,315.94 L336.5,315.91 L337.5,315.87 L338.5,315.81 L339.5,315.75 L340.5,315.67 L341.5,315.57 L342.5,315.46 L343.5,315.34 L344.5,315.21 L345.5,315.06 L346.5,314.90 L347.5,314.71 L348.5,314.48 L349.5,314.23 L350.5,313.94 L351.5,313.65 L352.5,313.35 L353.5,313.06 L354.5,312.79 L355.5,312.54 L356.5,312.31 L357.5,312.08 L358.5,311.87 L359.5,311.66 L360.5,311.47 L361.5,311.31 L362.5,311.18 L363.5,311.08 L364.5,311.03 L365.5,311.02 L366.5,311.06 L367.5,311.13 L368.5,311.23 L369.5,311.34 L370.5,311.47 L371.5,311.59 L372.5,311.69 L373.5,311.77 L374.5,311.82 L375.5,311.84 L376.5,311.82 L377.5,311.78 L378.5,311.72 L379.5,311.65 L380.5,311.58 L381.5,311.50 L382.5,311.43 L383.5,311.37 L384.5,311.32 L385.5,311.30 L386.5,311.31 L387.5,311.34 L388.5,311.39 L389.5,311.47 L390.5,311.57 L391.5,311.69 L392.5,311.83 L393.5,311.99 L394.5,312.19 L395.5,312.42 L396.5,312.68 L397.5,312.95 L398.5,313.24 L399.5,313.52 L400.5,313.79 L401.5,314.06 L402.5,314.32 L403.5,314.58 L404.5,314.83 L405.5,315.08 L406.5,315.34 L407.5,315.58 L408.5,315.83 L409.5,316.07 L410.5,316.30 L411.5,316.53 L412.5,316.76 L413.5,316.99 L414.5,317.21 L415.5,317.43 L416.5,317.64 L417.5,317.84 L418.5,318.04 L419.5,318.23 L420.5,318.41 L421.5,318.59 L422.5,318.76 L423.5,318.93 L424.5,319.10 L425.5,319.26 L426.5,319.42 L427.5,319.58 L428.5,319.74 L429.5,319.89 L430.5,320.05 L431.5,320.20 L432.5,320.36 L433.5,320.51 L434.5,320.66 L435.5,320.80 L436.5,320.95 L437.5,321.09 L438.5,321.22 L439.5,321.36 L440.5,321.49 L441.5,321.62 L442.5,321.74 L443.5,321.85 L444.5,321.95 L445.5,322.04 L446.5,322.11 L447.5,322.18 L448.5,322.24 L449.5,322.28 L450.5,322.32 L451.5,322.36"/>
<path class="r" d="M271.5,377.42 L272.5,375.97 L273.5,374.52 L274.5,373.08 L275.5,371.65 L276.5,370.24 L277.5,368.83 L278.5,367.45 L279.5,366.07 L280.5,364.71 L281.5,363.37 L282.5,362.05 L283.5,360.74 L284.5,359.44 L285.5,358.16 L286.5,356.89 L287.5,355.65 L288.5,354.43 L289.5,353.25 L290.5,352.11 L291.5,351.01 L292.5,349.96 L293.5,348.96 L294.5,347.98 L295.5,347.05 L296.5,346.14 L297.5,345.28 L298.5,344.46 L299.5,343.67 L300.5,342.91 L301.5,342.18 L302.5,341.47 L303.5,340.79 L304.5,340.15 L305.5,339.57 L306.5,339.03 L307.5,338.55 L308.5,338.11 L309.5,337.71 L310.5,337.33 L311.5,336.99 L312.5,336.68 L313.5,336.43 L314.5,336.22 L315.5,336.05 L316.5,335.91 L317.5,335.79 L318.5,335.69 L319.5,335.60 L320.5,335.53 L321.5,335.49 L322.5,335.48 L323.5,335.49 L324.5,335.52 L325.5,335.55 L326.5,335.59 L327.5,335.63 L328.5,335.68 L329.5,335.72 L330.5,335.76 L331.5,335.81 L332.5,335.86 L333.5,335.90 L334.5,335.95 L335.5,335.99 L336.5,336.02 L337.5,336.03 L338.5,336.01 L339.5,335.97 L340.5,335.91 L341.5,335.86 L342.5,335.84 L343.5,335.86 L344.5,335.93 L345.5,336.04 L346.5,336.18 L347.5,336.33 L348.5,336.46 L349.5,336.55 L350.5,336.59 L351.5,336.57 L352.5,336.49 L353.5,336.36 L354.5,336.18 L355.5,335.99 L356.5,335.77 L357.5,335.54 L358.5,335.28 L359.5,335.01 L360.5,334.73 L361.5,334.43 L362.5,334.14 L363.5,333.85 L364.5,333.57 L365.5,333.30 L366.5,333.06 L367.5,332.83 L368.5,332.62 L369.5,332.41 L370.5,332.23 L371.5,332.06 L372.5,331.91 L373.5,331.80 L374.5,331.72 L375.5,331.70 L376.5,331.75 L377.5,331.87 L378.5,332.04 L379.5,332.24 L380.5,332.46 L381.5,332.64 L382.5,332.76 L383.5,332.81 L384.5,332.83 L385.5,332.91 L386.5,333.12 L387.5,333.46 L388.5,333.90 L389.5,334.40 L390.5,334.91 L391.5,335.42 L392.5,335.93 L393.5,336.44 L394.5,336.94 L395.5,337.40 L396.5,337.81 L397.5,338.14 L398.5,338.41 L399.5,338.62 L400.5,338.79 L401.5,338.93 L402.5,339.04 L403.5,339.15 L404.5,339.23 L405.5,339.31 L406.5,339.37 L407.5,339.42 L408.5,339.48 L409.5,339.56 L410.5,339.66 L411.5,339.81 L412.5,340.02 L413.5,340.28 L414.5,340.60 L415.5,340.96 L416.5,341.38 L417.5,341.85 L418.5,342.41 L419.5,343.04 L420.5,343.74 L421.5,344.49 L422.5,345.27 L423.5,346.08 L424.5,346.90 L425.5,347.76 L426.5,348.64 L427.5,349.55 L428.5,350.49 L429.5,351.47 L430.5,352.48 L431.5,353.52 L432.5,354.59 L433.5,355.69 L434.5,356.82 L435.5,357.96 L436.5,359.11 L437.5,360.28 L438.5,361.47 L439.5,362.66 L440.5,363.87 L441.5,365.09 L442.5,366.31 L443.5,367.55 L444.5,368.79 L445.5,370.04 L446.5,371.29 L447.5,372.54 L448.5,373.77 L449.5,375.00 L450.5,376.22 L451.5,377.44"/>
<path class="r" d="M271.5,377.42 L272.5,376.59 L273.5,375.77 L274.5,374.93 L275.5,374.10 L276.5,373.26 L277.5,372.41 L278.5,371.56 L279.5,370.71 L280.5,369.85 L281.5,368.99 L282.5,368.13 L283.5,367.26 L284.5,366.37 L285.5,365.47 L286.5,364.56 L287.5,363.64 L288.5,362.73 L289.5,361.82 L290.5,360.94 L291.5,360.09 L292.5,359.27 L293.5,358.48 L294.5,357.71 L295.5,356.97 L296.5,356.27 L297.5,355.60 L298.5,354.98 L299.5,354.40 L300.5,353.86 L301.5,353.35 L302.5,352.88 L303.5,352.42 L304.5,351.99 L305.5,351.58 L306.5,351.19 L307.5,350.81 L308.5,350.45 L309.5,350.09 L310.5,349.75 L311.5,349.42 L312.5,349.10 L313.5,348.81 L314.5,348.55 L315.5,348.30 L316.5,348.08 L317.5,347.87 L318.5,347.68 L319.5,347.50 L320.5,347.33 L321.5,347.18 L322.5,347.03 L323.5,346.90 L324.5,346.78 L325.5,346.66 L326.5,346.55 L327.5,346.45 L328.5,346.36 L329.5,346.29 L330.5,346.23 L331.5,346.19 L332.5,346.16 L333.5,346.14 L334.5,346.12 L335.5,346.10 L336.5,346.08 L337.5,346.05 L338.5,346.02 L339.5,345.97 L340.5,345.91 L341.5,345.83 L342.5,345.73 L343.5,345.58 L344.5,345.39 L345.5,345.15 L346.5,344.89 L347.5,344.61 L348.5,344.34 L349.5,344.09 L350.5,343.84 L351.5,343.60 L352.5,343.39 L353.5,343.22 L354.5,343.11 L355.5,343.05 L356.5,343.06 L357.5,343.11 L358.5,343.19 L359.5,343.31 L360.5,343.45 L361.5,343.60 L362.5,343.77 L363.5,343.94 L364.5,344.12 L365.5,344.30 L366.5,344.51 L367.5,344.73 L368.5,344.97 L369.5,345.21 L370.5,345.45 L371.5,345.67 L372.5,345.86 L373.5,346.00 L374.5,346.10 L375.5,346.14 L376.5,346.13 L377.5,346.08 L378.5,346.00 L379.5,345.90 L380.5,345.78 L381.5,345.67 L382.5,345.57 L383.5,345.46 L384.5,345.35 L385.5,345.19 L386.5,344.97 L387.5,344.69 L388.5,344.39 L389.5,344.08 L390.5,343.78 L391.5,343.51 L392.5,343.26 L393.5,343.01 L394.5,342.78 L395.5,342.54 L396.5,342.32 L397.5,342.10 L398.5,341.90 L399.5,341.75 L400.5,341.65 L401.5,341.64 L402.5,341.73 L403.5,341.90 L404.5,342.14 L405.5,342.44 L406.5,342.79 L407.5,343.21 L408.5,343.70 L409.5,344.25 L410.5,344.87 L411.5,345.52 L412.5,346.19 L413.5,346.86 L414.5,347.54 L415.5,348.22 L416.5,348.91 L417.5,349.62 L418.5,350.35 L419.5,351.09 L420.5,351.85 L421.5,352.62 L422.5,353.41 L423.5,354.22 L424.5,355.03 L425.5,355.86 L426.5,356.69 L427.5,357.54 L428.5,358.40 L429.5,359.26 L430.5,360.12 L431.5,360.98 L432.5,361.84 L433.5,362.68 L434.5,363.52 L435.5,364.36 L436.5,365.20 L437.5,366.05 L438.5,366.91 L439.5,367.79 L440.5,368.69 L441.5,369.60 L442.5,370.51 L443.5,371.40 L444.5,372.27 L445.5,373.10 L446.5,373.90 L447.5,374.66 L448.5,375.39 L449.5,376.10 L450.5,376.77 L451.5,377.44"/>
<path class="r" d="M271.5,377.42 L272.5,377.28 L273.5,377.13 L274.5,376.94 L275.5,376.72 L276.5,376.46 L277.5,376.17 L278.5,375.85 L279.5,375.50 L280.5,375.13 L281.5,374.75 L282.5,374.34 L283.5,373.91 L284.5,373.45 L285.5,372.93 L286.5,372.35 L287.5,371.71 L288.5,371.00 L289.5,370.25 L290.5,369.45 L291.5,368.63 L292.5,367.78 L293.5,366.89 L294.5,365.96 L295.5,365.01 L296.5,364.03 L297.5,363.04 L298.5,362.05 L299.5,361.06 L300.5,360.08 L301.5,359.09 L302.5,358.10 L303.5,357.12 L304.5,356.15 L305.5,355.21 L306.5,354.30 L307.5,353.43 L308.5,352.60 L309.5,351.80 L310.5,351.03 L311.5,350.28 L312.5,349.56 L313.5,348.86 L314.5,348.18 L315.5,347.52 L316.5,346.86 L317.5,346.22 L318.5,345.60 L319.5,344.99 L320.5,344.41 L321.5,343.85 L322.5,343.32 L323.5,342.81 L324.5,342.31 L325.5,341.83 L326.5,341.38 L327.5,340.95 L328.5,340.58 L329.5,340.24 L330.5,339.96 L331.5,339.71 L332.5,339.49 L333.5,339.29 L334.5,339.13 L335.5,339.00 L336.5,338.92 L337.5,338.89 L338.5,338.89 L339.5,338.91 L340.5,338.95 L341.5,338.99 L342.5,339.03 L343.5,339.07 L344.5,339.10 L345.5,339.13 L346.5,339.14 L347.5,339.16 L348.5,339.17 L349.5,339.17 L350.5,339.18 L351.5,339.18 L352.5,339.17 L353.5,339.16 L354.5,339.14 L355.5,339.11 L356.5,339.07 L357.5,339.02 L358.5,338.96 L359.5,338.90 L360.5,338.82 L361.5,338.75 L362.5,338.68 L363.5,338.62 L364.5,338.57 L365.5,338.52 L366.5,338.49 L367.5,338.46 L368.5,338.43 L369.5,338.41 L370.5,338.39 L371.5,338.38 L372.5,338.37 L373.5,338.37 L374.5,338.38 L375.5,338.39 L376.5,338.42 L377.5,338.47 L378.5,338.52 L379.5,338.58 L380.5,338.65 L381.5,338.71 L382.5,338.75 L383.5,338.78 L384.5,338.82 L385.5,338.90 L386.5,339.05 L387.5,339.29 L388.5,339.60 L389.5,339.94 L390.5,340.30 L391.5,340.65 L392.5,340.99 L393.5,341.34 L394.5,341.69 L395.5,342.07 L396.5,342.48 L397.5,342.92 L398.5,343.41 L399.5,343.93 L400.5,344.48 L401.5,345.05 L402.5,345.63 L403.5,346.24 L404.5,346.86 L405.5,347.50 L406.5,348.17 L407.5,348.86 L408.5,349.58 L409.5,350.33 L410.5,351.11 L411.5,351.91 L412.5,352.72 L413.5,353.54 L414.5,354.37 L415.5,355.20 L416.5,356.03 L417.5,356.87 L418.5,357.71 L419.5,358.56 L420.5,359.42 L421.5,360.28 L422.5,361.15 L423.5,362.02 L424.5,362.89 L425.5,363.74 L426.5,364.57 L427.5,365.36 L428.5,366.12 L429.5,366.86 L430.5,367.57 L431.5,368.26 L432.5,368.93 L433.5,369.60 L434.5,370.25 L435.5,370.90 L436.5,371.53 L437.5,372.13 L438.5,372.70 L439.5,373.22 L440.5,373.69 L441.5,374.12 L442.5,374.51 L443.5,374.87 L444.5,375.22 L445.5,375.55 L446.5,375.88 L447.5,376.20 L448.5,376.52 L449.5,376.83 L450.5,377.14 L451.5,377.44"/>
</g>
<rect x="271.5" y="217.5" width="180.0" height="160.0" fill="none" stroke="#404040" stroke-width="1"/>
<path d="M267.90,377.50H271.50M269.50,371.10H271.50M269.50,364.70H271.50M269.50,358.30H271.50M269.50,351.90H271.50M267.90,345.50H271.50M269.50,339.10H271.50M269.50,332.70H271.50M269.50,326.30H271.50M269.50,319.90H271.50M267.90,313.50H271.50M269.50,307.10H271.50M269.50,300.70H271.50M269.50,294.30H271.50M269.50,287.90H271.50M267.90,281.50H271.50M269.50,275.10H271.50M269.50,268.70H271.50M269.50,262.30H271.50M269.50,255.90H271.50M267.90,249.50H271.50M269.50,243.10H271.50M269.50,236.70H271.50M269.50,230.30H271.50M269.50,223.90H271.50M267.90,217.50H271.50" stroke="#404040" stroke-width="1" fill="none"/>
<text class="tk" x="266.20" y="381.10">0</text>
<text class="tk" x="266.20" y="349.10">100</text>
<text class="tk" x="266.20" y="317.10">200</text>
<text class="tk" x="266.20" y="285.10">300</text>
<text class="tk" x="266.20" y="253.10">400</text>
<text class="tk" x="266.20" y="221.10">500</text>
<text class="xl" x="272.50" y="390.10">Γ</text>
<text class="xl" x="336.78" y="390.10">M</text>
<text class="xl" x="376.62" y="390.10">K</text>
<text class="xl" x="452.30" y="390.10">Γ</text>
<text class="pl" transform="translate(246.50,220.20) scale(0.94,1)">(e)</text>
<text class="yl" transform="translate(243.10,296.00) rotate(-90)">ω (cm<tspan font-size="8px" dy="-6.2">-1</tspan><tspan dy="6.2">)</tspan></text>
<rect x="381.20" y="222.80" width="30.80" height="20.40" fill="#000"/>
<rect x="379.20" y="220.60" width="30.80" height="20.40" fill="#fff" stroke="#c8c8c8" stroke-width="0.8"/>
<text class="lg" transform="translate(381.20,233.80) scale(0.895,1)">WSe<tspan font-size="7.6px" dx="0.8" dy="4.1">2</tspan></text>
</g>
<g>
<clipPath id="cf"><rect x="500.9" y="216.5" width="180.0" height="161.6"/></clipPath>
<line x1="566.78" y1="217.5" x2="566.78" y2="377.5" stroke="#8a8a8a" stroke-width="1"/>
<line x1="604.82" y1="217.5" x2="604.82" y2="377.5" stroke="#8a8a8a" stroke-width="1"/>
<g clip-path="url(#cf)">
<path class="b" d="M500.9,298.95 L501.9,299.00 L502.9,299.05 L503.9,299.12 L504.9,299.19 L505.9,299.28 L506.9,299.38 L507.9,299.49 L508.9,299.61 L509.9,299.74 L510.9,299.88 L511.9,300.03 L512.9,300.21 L513.9,300.40 L514.9,300.60 L515.9,300.82 L516.9,301.05 L517.9,301.28 L518.9,301.51 L519.9,301.75 L520.9,302.00 L521.9,302.26 L522.9,302.53 L523.9,302.79 L524.9,303.06 L525.9,303.33 L526.9,303.59 L527.9,303.85 L528.9,304.11 L529.9,304.36 L530.9,304.61 L531.9,304.86 L532.9,305.10 L533.9,305.35 L534.9,305.59 L535.9,305.82 L536.9,306.06 L537.9,306.29 L538.9,306.51 L539.9,306.73 L540.9,306.96 L541.9,307.18 L542.9,307.40 L543.9,307.61 L544.9,307.82 L545.9,308.01 L546.9,308.20 L547.9,308.37 L548.9,308.52 L549.9,308.67 L550.9,308.81 L551.9,308.94 L552.9,309.07 L553.9,309.19 L554.9,309.30 L555.9,309.39 L556.9,309.47 L557.9,309.54 L558.9,309.58 L559.9,309.61 L560.9,309.62 L561.9,309.62 L562.9,309.61 L563.9,309.61 L564.9,309.61 L565.9,309.62 L566.9,309.63 L567.9,309.65 L568.9,309.68 L569.9,309.71 L570.9,309.74 L571.9,309.77 L572.9,309.80 L573.9,309.83 L574.9,309.86 L575.9,309.90 L576.9,309.93 L577.9,309.96 L578.9,309.99 L579.9,310.03 L580.9,310.06 L581.9,310.09 L582.9,310.13 L583.9,310.17 L584.9,310.20 L585.9,310.24 L586.9,310.28 L587.9,310.31 L588.9,310.34 L589.9,310.37 L590.9,310.39 L591.9,310.41 L592.9,310.42 L593.9,310.43 L594.9,310.43 L595.9,310.41 L596.9,310.39 L597.9,310.36 L598.9,310.33 L599.9,310.29 L600.9,310.25 L601.9,310.21 L602.9,310.17 L603.9,310.13 L604.9,310.11 L605.9,310.08 L606.9,310.06 L607.9,310.05 L608.9,310.03 L609.9,310.02 L610.9,310.01 L611.9,309.99 L612.9,309.97 L613.9,309.95 L614.9,309.91 L615.9,309.86 L616.9,309.80 L617.9,309.73 L618.9,309.64 L619.9,309.55 L620.9,309.45 L621.9,309.34 L622.9,309.22 L623.9,309.09 L624.9,308.95 L625.9,308.79 L626.9,308.63 L627.9,308.45 L628.9,308.26 L629.9,308.06 L630.9,307.85 L631.9,307.63 L632.9,307.40 L633.9,307.16 L634.9,306.91 L635.9,306.66 L636.9,306.40 L637.9,306.15 L638.9,305.89 L639.9,305.63 L640.9,305.37 L641.9,305.11 L642.9,304.85 L643.9,304.59 L644.9,304.32 L645.9,304.06 L646.9,303.79 L647.9,303.53 L648.9,303.26 L649.9,303.00 L650.9,302.74 L651.9,302.50 L652.9,302.26 L653.9,302.03 L654.9,301.81 L655.9,301.60 L656.9,301.39 L657.9,301.20 L658.9,301.01 L659.9,300.83 L660.9,300.66 L661.9,300.50 L662.9,300.34 L663.9,300.18 L664.9,300.04 L665.9,299.90 L666.9,299.79 L667.9,299.68 L668.9,299.59 L669.9,299.51 L670.9,299.44 L671.9,299.38 L672.9,299.32 L673.9,299.27 L674.9,299.22 L675.9,299.17 L676.9,299.14 L677.9,299.10 L678.9,299.07 L679.9,299.04 L680.9,299.01"/>
<path class="b" d="M500.9,314.34 L501.9,314.09 L502.9,313.85 L503.9,313.61 L504.9,313.37 L505.9,313.15 L506.9,312.93 L507.9,312.73 L508.9,312.54 L509.9,312.37 L510.9,312.20 L511.9,312.05 L512.9,311.90 L513.9,311.76 L514.9,311.63 L515.9,311.51 L516.9,311.41 L517.9,311.32 L518.9,311.25 L519.9,311.19 L520.9,311.13 L521.9,311.07 L522.9,311.01 L523.9,310.96 L524.9,310.90 L525.9,310.85 L526.9,310.80 L527.9,310.75 L528.9,310.70 L529.9,310.66 L530.9,310.62 L531.9,310.58 L532.9,310.55 L533.9,310.52 L534.9,310.49 L535.9,310.47 L536.9,310.46 L537.9,310.45 L538.9,310.45 L539.9,310.44 L540.9,310.45 L541.9,310.45 L542.9,310.45 L543.9,310.45 L544.9,310.46 L545.9,310.47 L546.9,310.47 L547.9,310.48 L548.9,310.49 L549.9,310.50 L550.9,310.51 L551.9,310.52 L552.9,310.53 L553.9,310.55 L554.9,310.56 L555.9,310.58 L556.9,310.60 L557.9,310.61 L558.9,310.64 L559.9,310.66 L560.9,310.68 L561.9,310.71 L562.9,310.74 L563.9,310.77 L564.9,310.80 L565.9,310.82 L566.9,310.85 L567.9,310.87 L568.9,310.89 L569.9,310.91 L570.9,310.93 L571.9,310.95 L572.9,310.97 L573.9,310.98 L574.9,311.00 L575.9,311.01 L576.9,311.02 L577.9,311.04 L578.9,311.05 L579.9,311.05 L580.9,311.06 L581.9,311.07 L582.9,311.07 L583.9,311.07 L584.9,311.08 L585.9,311.08 L586.9,311.08 L587.9,311.08 L588.9,311.08 L589.9,311.08 L590.9,311.07 L591.9,311.07 L592.9,311.06 L593.9,311.06 L594.9,311.05 L595.9,311.04 L596.9,311.03 L597.9,311.01 L598.9,310.99 L599.9,310.98 L600.9,310.96 L601.9,310.93 L602.9,310.91 L603.9,310.89 L604.9,310.86 L605.9,310.84 L606.9,310.80 L607.9,310.77 L608.9,310.73 L609.9,310.70 L610.9,310.66 L611.9,310.63 L612.9,310.60 L613.9,310.58 L614.9,310.56 L615.9,310.54 L616.9,310.53 L617.9,310.52 L618.9,310.51 L619.9,310.50 L620.9,310.49 L621.9,310.48 L622.9,310.47 L623.9,310.46 L624.9,310.45 L625.9,310.44 L626.9,310.43 L627.9,310.43 L628.9,310.42 L629.9,310.41 L630.9,310.40 L631.9,310.39 L632.9,310.38 L633.9,310.36 L634.9,310.35 L635.9,310.34 L636.9,310.33 L637.9,310.32 L638.9,310.31 L639.9,310.30 L640.9,310.29 L641.9,310.28 L642.9,310.27 L643.9,310.27 L644.9,310.26 L645.9,310.26 L646.9,310.27 L647.9,310.28 L648.9,310.30 L649.9,310.32 L650.9,310.35 L651.9,310.38 L652.9,310.42 L653.9,310.47 L654.9,310.52 L655.9,310.59 L656.9,310.67 L657.9,310.76 L658.9,310.86 L659.9,310.96 L660.9,311.07 L661.9,311.18 L662.9,311.31 L663.9,311.44 L664.9,311.58 L665.9,311.73 L666.9,311.89 L667.9,312.05 L668.9,312.21 L669.9,312.38 L670.9,312.56 L671.9,312.74 L672.9,312.93 L673.9,313.11 L674.9,313.29 L675.9,313.46 L676.9,313.63 L677.9,313.79 L678.9,313.95 L679.9,314.11 L680.9,314.26"/>
<path class="b" d="M500.9,314.34 L501.9,314.26 L502.9,314.18 L503.9,314.10 L504.9,314.02 L505.9,313.94 L506.9,313.86 L507.9,313.79 L508.9,313.71 L509.9,313.65 L510.9,313.58 L511.9,313.53 L512.9,313.47 L513.9,313.43 L514.9,313.39 L515.9,313.36 L516.9,313.34 L517.9,313.33 L518.9,313.32 L519.9,313.32 L520.9,313.32 L521.9,313.33 L522.9,313.33 L523.9,313.34 L524.9,313.35 L525.9,313.37 L526.9,313.38 L527.9,313.40 L528.9,313.42 L529.9,313.44 L530.9,313.47 L531.9,313.49 L532.9,313.52 L533.9,313.55 L534.9,313.58 L535.9,313.61 L536.9,313.65 L537.9,313.68 L538.9,313.72 L539.9,313.76 L540.9,313.80 L541.9,313.85 L542.9,313.90 L543.9,313.95 L544.9,314.00 L545.9,314.05 L546.9,314.10 L547.9,314.16 L548.9,314.21 L549.9,314.27 L550.9,314.32 L551.9,314.37 L552.9,314.43 L553.9,314.48 L554.9,314.53 L555.9,314.58 L556.9,314.63 L557.9,314.68 L558.9,314.72 L559.9,314.76 L560.9,314.80 L561.9,314.84 L562.9,314.87 L563.9,314.90 L564.9,314.92 L565.9,314.94 L566.9,314.94 L567.9,314.94 L568.9,314.92 L569.9,314.90 L570.9,314.86 L571.9,314.82 L572.9,314.78 L573.9,314.72 L574.9,314.67 L575.9,314.60 L576.9,314.54 L577.9,314.48 L578.9,314.41 L579.9,314.34 L580.9,314.27 L581.9,314.19 L582.9,314.10 L583.9,314.00 L584.9,313.90 L585.9,313.79 L586.9,313.68 L587.9,313.58 L588.9,313.48 L589.9,313.38 L590.9,313.30 L591.9,313.23 L592.9,313.18 L593.9,313.14 L594.9,313.11 L595.9,313.10 L596.9,313.11 L597.9,313.12 L598.9,313.13 L599.9,313.15 L600.9,313.16 L601.9,313.18 L602.9,313.18 L603.9,313.18 L604.9,313.16 L605.9,313.14 L606.9,313.11 L607.9,313.07 L608.9,313.03 L609.9,312.99 L610.9,312.96 L611.9,312.93 L612.9,312.90 L613.9,312.89 L614.9,312.88 L615.9,312.88 L616.9,312.89 L617.9,312.90 L618.9,312.91 L619.9,312.93 L620.9,312.95 L621.9,312.97 L622.9,313.00 L623.9,313.02 L624.9,313.05 L625.9,313.07 L626.9,313.10 L627.9,313.13 L628.9,313.16 L629.9,313.18 L630.9,313.21 L631.9,313.24 L632.9,313.27 L633.9,313.30 L634.9,313.34 L635.9,313.37 L636.9,313.40 L637.9,313.44 L638.9,313.47 L639.9,313.50 L640.9,313.53 L641.9,313.56 L642.9,313.59 L643.9,313.61 L644.9,313.63 L645.9,313.65 L646.9,313.67 L647.9,313.68 L648.9,313.69 L649.9,313.70 L650.9,313.71 L651.9,313.72 L652.9,313.72 L653.9,313.73 L654.9,313.74 L655.9,313.74 L656.9,313.75 L657.9,313.76 L658.9,313.77 L659.9,313.79 L660.9,313.80 L661.9,313.82 L662.9,313.84 L663.9,313.86 L664.9,313.88 L665.9,313.90 L666.9,313.92 L667.9,313.94 L668.9,313.96 L669.9,313.99 L670.9,314.01 L671.9,314.03 L672.9,314.06 L673.9,314.08 L674.9,314.10 L675.9,314.13 L676.9,314.15 L677.9,314.18 L678.9,314.21 L679.9,314.23 L680.9,314.26"/>
<path class="b" d="M500.9,320.29 L501.9,320.31 L502.9,320.34 L503.9,320.38 L504.9,320.43 L505.9,320.50 L506.9,320.58 L507.9,320.67 L508.9,320.77 L509.9,320.88 L510.9,321.01 L511.9,321.16 L512.9,321.33 L513.9,321.53 L514.9,321.74 L515.9,321.96 L516.9,322.18 L517.9,322.41 L518.9,322.65 L519.9,322.89 L520.9,323.15 L521.9,323.41 L522.9,323.68 L523.9,323.94 L524.9,324.19 L525.9,324.43 L526.9,324.65 L527.9,324.83 L528.9,324.99 L529.9,325.13 L530.9,325.24 L531.9,325.33 L532.9,325.41 L533.9,325.47 L534.9,325.50 L535.9,325.51 L536.9,325.50 L537.9,325.46 L538.9,325.40 L539.9,325.31 L540.9,325.20 L541.9,325.08 L542.9,324.94 L543.9,324.79 L544.9,324.64 L545.9,324.48 L546.9,324.33 L547.9,324.18 L548.9,324.04 L549.9,323.90 L550.9,323.77 L551.9,323.64 L552.9,323.50 L553.9,323.37 L554.9,323.25 L555.9,323.13 L556.9,323.02 L557.9,322.91 L558.9,322.82 L559.9,322.74 L560.9,322.67 L561.9,322.62 L562.9,322.58 L563.9,322.55 L564.9,322.54 L565.9,322.55 L566.9,322.57 L567.9,322.61 L568.9,322.66 L569.9,322.73 L570.9,322.82 L571.9,322.92 L572.9,323.03 L573.9,323.15 L574.9,323.27 L575.9,323.40 L576.9,323.54 L577.9,323.68 L578.9,323.82 L579.9,323.98 L580.9,324.14 L581.9,324.33 L582.9,324.54 L583.9,324.76 L584.9,325.00 L585.9,325.24 L586.9,325.49 L587.9,325.72 L588.9,325.94 L589.9,326.14 L590.9,326.31 L591.9,326.44 L592.9,326.54 L593.9,326.60 L594.9,326.62 L595.9,326.61 L596.9,326.58 L597.9,326.55 L598.9,326.50 L599.9,326.45 L600.9,326.40 L601.9,326.36 L602.9,326.32 L603.9,326.30 L604.9,326.28 L605.9,326.27 L606.9,326.27 L607.9,326.27 L608.9,326.28 L609.9,326.28 L610.9,326.28 L611.9,326.28 L612.9,326.28 L613.9,326.27 L614.9,326.26 L615.9,326.25 L616.9,326.23 L617.9,326.22 L618.9,326.20 L619.9,326.18 L620.9,326.16 L621.9,326.14 L622.9,326.12 L623.9,326.10 L624.9,326.07 L625.9,326.05 L626.9,326.03 L627.9,326.00 L628.9,325.98 L629.9,325.96 L630.9,325.93 L631.9,325.91 L632.9,325.88 L633.9,325.85 L634.9,325.82 L635.9,325.78 L636.9,325.75 L637.9,325.71 L638.9,325.66 L639.9,325.61 L640.9,325.56 L641.9,325.49 L642.9,325.40 L643.9,325.29 L644.9,325.15 L645.9,324.99 L646.9,324.81 L647.9,324.63 L648.9,324.44 L649.9,324.25 L650.9,324.05 L651.9,323.86 L652.9,323.65 L653.9,323.45 L654.9,323.24 L655.9,323.04 L656.9,322.85 L657.9,322.67 L658.9,322.49 L659.9,322.32 L660.9,322.15 L661.9,321.99 L662.9,321.84 L663.9,321.69 L664.9,321.54 L665.9,321.40 L666.9,321.26 L667.9,321.13 L668.9,321.00 L669.9,320.87 L670.9,320.77 L671.9,320.67 L672.9,320.59 L673.9,320.52 L674.9,320.46 L675.9,320.41 L676.9,320.36 L677.9,320.33 L678.9,320.30 L679.9,320.28 L680.9,320.26"/>
<path class="b" d="M500.9,338.75 L501.9,338.68 L502.9,338.60 L503.9,338.49 L504.9,338.36 L505.9,338.21 L506.9,338.03 L507.9,337.84 L508.9,337.62 L509.9,337.38 L510.9,337.11 L511.9,336.81 L512.9,336.48 L513.9,336.11 L514.9,335.72 L515.9,335.31 L516.9,334.90 L517.9,334.49 L518.9,334.09 L519.9,333.68 L520.9,333.26 L521.9,332.85 L522.9,332.43 L523.9,332.01 L524.9,331.60 L525.9,331.20 L526.9,330.82 L527.9,330.46 L528.9,330.12 L529.9,329.79 L530.9,329.47 L531.9,329.17 L532.9,328.88 L533.9,328.60 L534.9,328.34 L535.9,328.10 L536.9,327.88 L537.9,327.68 L538.9,327.51 L539.9,327.35 L540.9,327.19 L541.9,327.05 L542.9,326.91 L543.9,326.78 L544.9,326.67 L545.9,326.58 L546.9,326.51 L547.9,326.48 L548.9,326.47 L549.9,326.49 L550.9,326.53 L551.9,326.57 L552.9,326.63 L553.9,326.69 L554.9,326.76 L555.9,326.82 L556.9,326.89 L557.9,326.96 L558.9,327.02 L559.9,327.08 L560.9,327.15 L561.9,327.21 L562.9,327.27 L563.9,327.33 L564.9,327.38 L565.9,327.42 L566.9,327.46 L567.9,327.49 L568.9,327.51 L569.9,327.53 L570.9,327.55 L571.9,327.56 L572.9,327.58 L573.9,327.59 L574.9,327.61 L575.9,327.62 L576.9,327.63 L577.9,327.65 L578.9,327.66 L579.9,327.67 L580.9,327.69 L581.9,327.71 L582.9,327.72 L583.9,327.74 L584.9,327.76 L585.9,327.78 L586.9,327.80 L587.9,327.81 L588.9,327.83 L589.9,327.84 L590.9,327.85 L591.9,327.86 L592.9,327.87 L593.9,327.86 L594.9,327.83 L595.9,327.79 L596.9,327.71 L597.9,327.62 L598.9,327.51 L599.9,327.39 L600.9,327.27 L601.9,327.16 L602.9,327.05 L603.9,326.97 L604.9,326.90 L605.9,326.84 L606.9,326.80 L607.9,326.75 L608.9,326.72 L609.9,326.68 L610.9,326.65 L611.9,326.63 L612.9,326.61 L613.9,326.59 L614.9,326.58 L615.9,326.57 L616.9,326.56 L617.9,326.55 L618.9,326.55 L619.9,326.56 L620.9,326.57 L621.9,326.58 L622.9,326.61 L623.9,326.64 L624.9,326.68 L625.9,326.72 L626.9,326.76 L627.9,326.80 L628.9,326.84 L629.9,326.87 L630.9,326.89 L631.9,326.90 L632.9,326.90 L633.9,326.89 L634.9,326.89 L635.9,326.89 L636.9,326.90 L637.9,326.94 L638.9,327.01 L639.9,327.12 L640.9,327.26 L641.9,327.43 L642.9,327.62 L643.9,327.84 L644.9,328.08 L645.9,328.34 L646.9,328.62 L647.9,328.94 L648.9,329.28 L649.9,329.64 L650.9,330.00 L651.9,330.37 L652.9,330.73 L653.9,331.09 L654.9,331.45 L655.9,331.81 L656.9,332.18 L657.9,332.54 L658.9,332.90 L659.9,333.26 L660.9,333.61 L661.9,333.97 L662.9,334.32 L663.9,334.67 L664.9,335.01 L665.9,335.35 L666.9,335.68 L667.9,335.99 L668.9,336.30 L669.9,336.59 L670.9,336.88 L671.9,337.16 L672.9,337.42 L673.9,337.66 L674.9,337.88 L675.9,338.08 L676.9,338.25 L677.9,338.41 L678.9,338.54 L679.9,338.65 L680.9,338.74"/>
<path class="b" d="M500.9,338.75 L501.9,338.65 L502.9,338.54 L503.9,338.43 L504.9,338.33 L505.9,338.22 L506.9,338.12 L507.9,338.01 L508.9,337.91 L509.9,337.80 L510.9,337.70 L511.9,337.59 L512.9,337.49 L513.9,337.38 L514.9,337.28 L515.9,337.18 L516.9,337.07 L517.9,336.97 L518.9,336.87 L519.9,336.76 L520.9,336.66 L521.9,336.55 L522.9,336.44 L523.9,336.33 L524.9,336.22 L525.9,336.11 L526.9,336.00 L527.9,335.89 L528.9,335.78 L529.9,335.68 L530.9,335.57 L531.9,335.47 L532.9,335.37 L533.9,335.28 L534.9,335.19 L535.9,335.10 L536.9,335.02 L537.9,334.94 L538.9,334.87 L539.9,334.80 L540.9,334.74 L541.9,334.67 L542.9,334.61 L543.9,334.56 L544.9,334.50 L545.9,334.45 L546.9,334.39 L547.9,334.34 L548.9,334.29 L549.9,334.24 L550.9,334.20 L551.9,334.15 L552.9,334.11 L553.9,334.06 L554.9,334.02 L555.9,333.98 L556.9,333.94 L557.9,333.90 L558.9,333.86 L559.9,333.82 L560.9,333.79 L561.9,333.76 L562.9,333.74 L563.9,333.71 L564.9,333.68 L565.9,333.65 L566.9,333.61 L567.9,333.55 L568.9,333.48 L569.9,333.39 L570.9,333.29 L571.9,333.17 L572.9,333.04 L573.9,332.90 L574.9,332.75 L575.9,332.57 L576.9,332.38 L577.9,332.15 L578.9,331.89 L579.9,331.62 L580.9,331.35 L581.9,331.09 L582.9,330.85 L583.9,330.64 L584.9,330.46 L585.9,330.30 L586.9,330.15 L587.9,330.02 L588.9,329.89 L589.9,329.77 L590.9,329.66 L591.9,329.55 L592.9,329.44 L593.9,329.34 L594.9,329.24 L595.9,329.14 L596.9,329.04 L597.9,328.95 L598.9,328.85 L599.9,328.76 L600.9,328.67 L601.9,328.60 L602.9,328.53 L603.9,328.48 L604.9,328.44 L605.9,328.41 L606.9,328.40 L607.9,328.40 L608.9,328.41 L609.9,328.43 L610.9,328.45 L611.9,328.49 L612.9,328.52 L613.9,328.57 L614.9,328.62 L615.9,328.68 L616.9,328.75 L617.9,328.84 L618.9,328.95 L619.9,329.07 L620.9,329.20 L621.9,329.35 L622.9,329.52 L623.9,329.72 L624.9,329.94 L625.9,330.18 L626.9,330.43 L627.9,330.70 L628.9,330.96 L629.9,331.22 L630.9,331.49 L631.9,331.75 L632.9,332.02 L633.9,332.28 L634.9,332.55 L635.9,332.80 L636.9,333.04 L637.9,333.27 L638.9,333.49 L639.9,333.71 L640.9,333.91 L641.9,334.11 L642.9,334.30 L643.9,334.49 L644.9,334.68 L645.9,334.87 L646.9,335.06 L647.9,335.25 L648.9,335.43 L649.9,335.61 L650.9,335.78 L651.9,335.95 L652.9,336.12 L653.9,336.27 L654.9,336.42 L655.9,336.57 L656.9,336.71 L657.9,336.84 L658.9,336.98 L659.9,337.11 L660.9,337.24 L661.9,337.37 L662.9,337.51 L663.9,337.63 L664.9,337.76 L665.9,337.88 L666.9,337.98 L667.9,338.08 L668.9,338.16 L669.9,338.24 L670.9,338.31 L671.9,338.38 L672.9,338.43 L673.9,338.49 L674.9,338.54 L675.9,338.58 L676.9,338.62 L677.9,338.66 L678.9,338.69 L679.9,338.72 L680.9,338.74"/>
<path class="r" d="M500.9,377.42 L501.9,376.30 L502.9,375.19 L503.9,374.08 L504.9,372.99 L505.9,371.90 L506.9,370.83 L507.9,369.77 L508.9,368.72 L509.9,367.69 L510.9,366.67 L511.9,365.67 L512.9,364.68 L513.9,363.70 L514.9,362.74 L515.9,361.79 L516.9,360.86 L517.9,359.96 L518.9,359.09 L519.9,358.25 L520.9,357.44 L521.9,356.67 L522.9,355.91 L523.9,355.19 L524.9,354.49 L525.9,353.84 L526.9,353.24 L527.9,352.69 L528.9,352.19 L529.9,351.74 L530.9,351.31 L531.9,350.92 L532.9,350.56 L533.9,350.24 L534.9,349.97 L535.9,349.74 L536.9,349.55 L537.9,349.39 L538.9,349.24 L539.9,349.11 L540.9,349.01 L541.9,348.93 L542.9,348.88 L543.9,348.87 L544.9,348.89 L545.9,348.95 L546.9,349.02 L547.9,349.12 L548.9,349.23 L549.9,349.35 L550.9,349.49 L551.9,349.64 L552.9,349.82 L553.9,350.02 L554.9,350.24 L555.9,350.46 L556.9,350.67 L557.9,350.85 L558.9,351.01 L559.9,351.13 L560.9,351.23 L561.9,351.30 L562.9,351.35 L563.9,351.39 L564.9,351.41 L565.9,351.42 L566.9,351.42 L567.9,351.40 L568.9,351.36 L569.9,351.31 L570.9,351.24 L571.9,351.15 L572.9,351.04 L573.9,350.92 L574.9,350.75 L575.9,350.55 L576.9,350.29 L577.9,349.97 L578.9,349.62 L579.9,349.25 L580.9,348.85 L581.9,348.43 L582.9,348.00 L583.9,347.56 L584.9,347.13 L585.9,346.73 L586.9,346.37 L587.9,346.05 L588.9,345.77 L589.9,345.52 L590.9,345.29 L591.9,345.09 L592.9,344.90 L593.9,344.73 L594.9,344.57 L595.9,344.42 L596.9,344.28 L597.9,344.14 L598.9,344.00 L599.9,343.88 L600.9,343.77 L601.9,343.67 L602.9,343.58 L603.9,343.52 L604.9,343.48 L605.9,343.48 L606.9,343.50 L607.9,343.57 L608.9,343.66 L609.9,343.79 L610.9,343.95 L611.9,344.16 L612.9,344.41 L613.9,344.70 L614.9,345.01 L615.9,345.31 L616.9,345.61 L617.9,345.90 L618.9,346.21 L619.9,346.53 L620.9,346.87 L621.9,347.24 L622.9,347.62 L623.9,348.02 L624.9,348.43 L625.9,348.85 L626.9,349.26 L627.9,349.68 L628.9,350.11 L629.9,350.54 L630.9,350.98 L631.9,351.44 L632.9,351.92 L633.9,352.42 L634.9,352.95 L635.9,353.49 L636.9,354.06 L637.9,354.63 L638.9,355.21 L639.9,355.80 L640.9,356.39 L641.9,356.99 L642.9,357.60 L643.9,358.20 L644.9,358.80 L645.9,359.38 L646.9,359.96 L647.9,360.54 L648.9,361.10 L649.9,361.66 L650.9,362.21 L651.9,362.77 L652.9,363.32 L653.9,363.86 L654.9,364.41 L655.9,364.95 L656.9,365.49 L657.9,366.02 L658.9,366.54 L659.9,367.05 L660.9,367.55 L661.9,368.05 L662.9,368.55 L663.9,369.05 L664.9,369.57 L665.9,370.09 L666.9,370.63 L667.9,371.17 L668.9,371.72 L669.9,372.25 L670.9,372.77 L671.9,373.27 L672.9,373.75 L673.9,374.21 L674.9,374.66 L675.9,375.11 L676.9,375.56 L677.9,376.02 L678.9,376.49 L679.9,376.96 L680.9,377.44"/>
<path class="r" d="M500.9,377.42 L501.9,376.70 L502.9,375.98 L503.9,375.26 L504.9,374.55 L505.9,373.85 L506.9,373.15 L507.9,372.46 L508.9,371.78 L509.9,371.10 L510.9,370.43 L511.9,369.78 L512.9,369.13 L513.9,368.49 L514.9,367.86 L515.9,367.23 L516.9,366.62 L517.9,366.02 L518.9,365.44 L519.9,364.86 L520.9,364.30 L521.9,363.75 L522.9,363.21 L523.9,362.68 L524.9,362.17 L525.9,361.67 L526.9,361.20 L527.9,360.75 L528.9,360.32 L529.9,359.92 L530.9,359.53 L531.9,359.17 L532.9,358.82 L533.9,358.49 L534.9,358.19 L535.9,357.91 L536.9,357.65 L537.9,357.41 L538.9,357.19 L539.9,356.97 L540.9,356.77 L541.9,356.58 L542.9,356.41 L543.9,356.25 L544.9,356.11 L545.9,355.97 L546.9,355.84 L547.9,355.72 L548.9,355.60 L549.9,355.49 L550.9,355.38 L551.9,355.28 L552.9,355.18 L553.9,355.09 L554.9,355.00 L555.9,354.92 L556.9,354.84 L557.9,354.77 L558.9,354.71 L559.9,354.66 L560.9,354.62 L561.9,354.59 L562.9,354.57 L563.9,354.55 L564.9,354.54 L565.9,354.53 L566.9,354.53 L567.9,354.54 L568.9,354.57 L569.9,354.61 L570.9,354.66 L571.9,354.73 L572.9,354.81 L573.9,354.91 L574.9,355.04 L575.9,355.22 L576.9,355.45 L577.9,355.73 L578.9,356.06 L579.9,356.42 L580.9,356.80 L581.9,357.21 L582.9,357.64 L583.9,358.09 L584.9,358.55 L585.9,359.01 L586.9,359.46 L587.9,359.90 L588.9,360.33 L589.9,360.75 L590.9,361.16 L591.9,361.55 L592.9,361.91 L593.9,362.24 L594.9,362.55 L595.9,362.83 L596.9,363.10 L597.9,363.35 L598.9,363.58 L599.9,363.80 L600.9,363.99 L601.9,364.16 L602.9,364.29 L603.9,364.40 L604.9,364.46 L605.9,364.48 L606.9,364.44 L607.9,364.36 L608.9,364.23 L609.9,364.05 L610.9,363.82 L611.9,363.52 L612.9,363.16 L613.9,362.72 L614.9,362.24 L615.9,361.74 L616.9,361.24 L617.9,360.74 L618.9,360.24 L619.9,359.74 L620.9,359.24 L621.9,358.74 L622.9,358.23 L623.9,357.73 L624.9,357.23 L625.9,356.73 L626.9,356.24 L627.9,355.74 L628.9,355.25 L629.9,354.77 L630.9,354.31 L631.9,353.89 L632.9,353.51 L633.9,353.16 L634.9,352.86 L635.9,352.59 L636.9,352.34 L637.9,352.13 L638.9,351.95 L639.9,351.79 L640.9,351.67 L641.9,351.57 L642.9,351.50 L643.9,351.48 L644.9,351.50 L645.9,351.59 L646.9,351.74 L647.9,351.94 L648.9,352.20 L649.9,352.51 L650.9,352.88 L651.9,353.32 L652.9,353.82 L653.9,354.37 L654.9,354.98 L655.9,355.63 L656.9,356.33 L657.9,357.08 L658.9,357.86 L659.9,358.66 L660.9,359.49 L661.9,360.34 L662.9,361.21 L663.9,362.10 L664.9,363.00 L665.9,363.93 L666.9,364.86 L667.9,365.81 L668.9,366.76 L669.9,367.71 L670.9,368.66 L671.9,369.60 L672.9,370.53 L673.9,371.45 L674.9,372.36 L675.9,373.24 L676.9,374.11 L677.9,374.96 L678.9,375.80 L679.9,376.62 L680.9,377.44"/>
<path class="r" d="M500.9,377.42 L501.9,377.26 L502.9,377.08 L503.9,376.88 L504.9,376.64 L505.9,376.37 L506.9,376.08 L507.9,375.76 L508.9,375.42 L509.9,375.07 L510.9,374.69 L511.9,374.30 L512.9,373.89 L513.9,373.44 L514.9,372.95 L515.9,372.41 L516.9,371.83 L517.9,371.21 L518.9,370.56 L519.9,369.89 L520.9,369.21 L521.9,368.51 L522.9,367.80 L523.9,367.06 L524.9,366.32 L525.9,365.56 L526.9,364.81 L527.9,364.07 L528.9,363.33 L529.9,362.60 L530.9,361.88 L531.9,361.17 L532.9,360.46 L533.9,359.77 L534.9,359.09 L535.9,358.42 L536.9,357.78 L537.9,357.15 L538.9,356.54 L539.9,355.93 L540.9,355.34 L541.9,354.75 L542.9,354.15 L543.9,353.56 L544.9,352.95 L545.9,352.33 L546.9,351.71 L547.9,351.09 L548.9,350.48 L549.9,349.90 L550.9,349.34 L551.9,348.81 L552.9,348.30 L553.9,347.81 L554.9,347.35 L555.9,346.92 L556.9,346.54 L557.9,346.21 L558.9,345.95 L559.9,345.73 L560.9,345.56 L561.9,345.41 L562.9,345.29 L563.9,345.18 L564.9,345.10 L565.9,345.04 L566.9,345.00 L567.9,344.98 L568.9,344.97 L569.9,344.96 L570.9,344.96 L571.9,344.96 L572.9,344.96 L573.9,344.98 L574.9,345.00 L575.9,345.03 L576.9,345.06 L577.9,345.10 L578.9,345.14 L579.9,345.18 L580.9,345.22 L581.9,345.25 L582.9,345.27 L583.9,345.28 L584.9,345.28 L585.9,345.27 L586.9,345.26 L587.9,345.25 L588.9,345.23 L589.9,345.21 L590.9,345.20 L591.9,345.18 L592.9,345.16 L593.9,345.14 L594.9,345.13 L595.9,345.11 L596.9,345.09 L597.9,345.08 L598.9,345.06 L599.9,345.05 L600.9,345.03 L601.9,345.02 L602.9,345.01 L603.9,345.00 L604.9,345.00 L605.9,345.02 L606.9,345.05 L607.9,345.10 L608.9,345.17 L609.9,345.24 L610.9,345.32 L611.9,345.42 L612.9,345.54 L613.9,345.71 L614.9,345.94 L615.9,346.23 L616.9,346.57 L617.9,346.94 L618.9,347.34 L619.9,347.74 L620.9,348.15 L621.9,348.57 L622.9,349.00 L623.9,349.44 L624.9,349.89 L625.9,350.35 L626.9,350.82 L627.9,351.30 L628.9,351.80 L629.9,352.31 L630.9,352.84 L631.9,353.38 L632.9,353.94 L633.9,354.52 L634.9,355.13 L635.9,355.75 L636.9,356.40 L637.9,357.05 L638.9,357.72 L639.9,358.40 L640.9,359.08 L641.9,359.78 L642.9,360.49 L643.9,361.19 L644.9,361.89 L645.9,362.57 L646.9,363.25 L647.9,363.91 L648.9,364.56 L649.9,365.20 L650.9,365.83 L651.9,366.44 L652.9,367.04 L653.9,367.63 L654.9,368.21 L655.9,368.78 L656.9,369.33 L657.9,369.86 L658.9,370.38 L659.9,370.88 L660.9,371.37 L661.9,371.85 L662.9,372.30 L663.9,372.74 L664.9,373.15 L665.9,373.55 L666.9,373.92 L667.9,374.28 L668.9,374.62 L669.9,374.95 L670.9,375.26 L671.9,375.56 L672.9,375.84 L673.9,376.10 L674.9,376.35 L675.9,376.58 L676.9,376.79 L677.9,376.98 L678.9,377.14 L679.9,377.30 L680.9,377.44"/>
</g>
<rect x="500.9" y="217.5" width="180.0" height="160.0" fill="none" stroke="#404040" stroke-width="1"/>
<path d="M497.30,377.50H500.90M498.90,371.10H500.90M498.90,364.70H500.90M498.90,358.30H500.90M498.90,351.90H500.90M497.30,345.50H500.90M498.90,339.10H500.90M498.90,332.70H500.90M498.90,326.30H500.90M498.90,319.90H500.90M497.30,313.50H500.90M498.90,307.10H500.90M498.90,300.70H500.90M498.90,294.30H500.90M498.90,287.90H500.90M497.30,281.50H500.90M498.90,275.10H500.90M498.90,268.70H500.90M498.90,262.30H500.90M498.90,255.90H500.90M497.30,249.50H500.90M498.90,243.10H500.90M498.90,236.70H500.90M498.90,230.30H500.90M498.90,223.90H500.90M497.30,217.50H500.90" stroke="#404040" stroke-width="1" fill="none"/>
<text class="tk" x="495.60" y="381.10">0</text>
<text class="tk" x="495.60" y="349.10">100</text>
<text class="tk" x="495.60" y="317.10">200</text>
<text class="tk" x="495.60" y="285.10">300</text>
<text class="tk" x="495.60" y="253.10">400</text>
<text class="tk" x="495.60" y="221.10">500</text>
<text class="xl" x="501.90" y="390.10">Γ</text>
<text class="xl" x="566.18" y="390.10">M</text>
<text class="xl" x="606.02" y="390.10">K</text>
<text class="xl" x="681.70" y="390.10">Γ</text>
<text class="pl" transform="translate(475.90,220.20) scale(0.94,1)">(f)</text>
<text class="yl" transform="translate(472.50,296.00) rotate(-90)">ω (cm<tspan font-size="8px" dy="-6.2">-1</tspan><tspan dy="6.2">)</tspan></text>
<rect x="610.00" y="222.80" width="31.80" height="20.40" fill="#000"/>
<rect x="608.00" y="220.60" width="31.80" height="20.40" fill="#fff" stroke="#c8c8c8" stroke-width="0.8"/>
<text class="lg" transform="translate(610.00,233.80) scale(0.915,1)">WTe<tspan font-size="7.6px" dx="0.8" dy="4.1">2</tspan></text>
</g>
</svg></body></html>
